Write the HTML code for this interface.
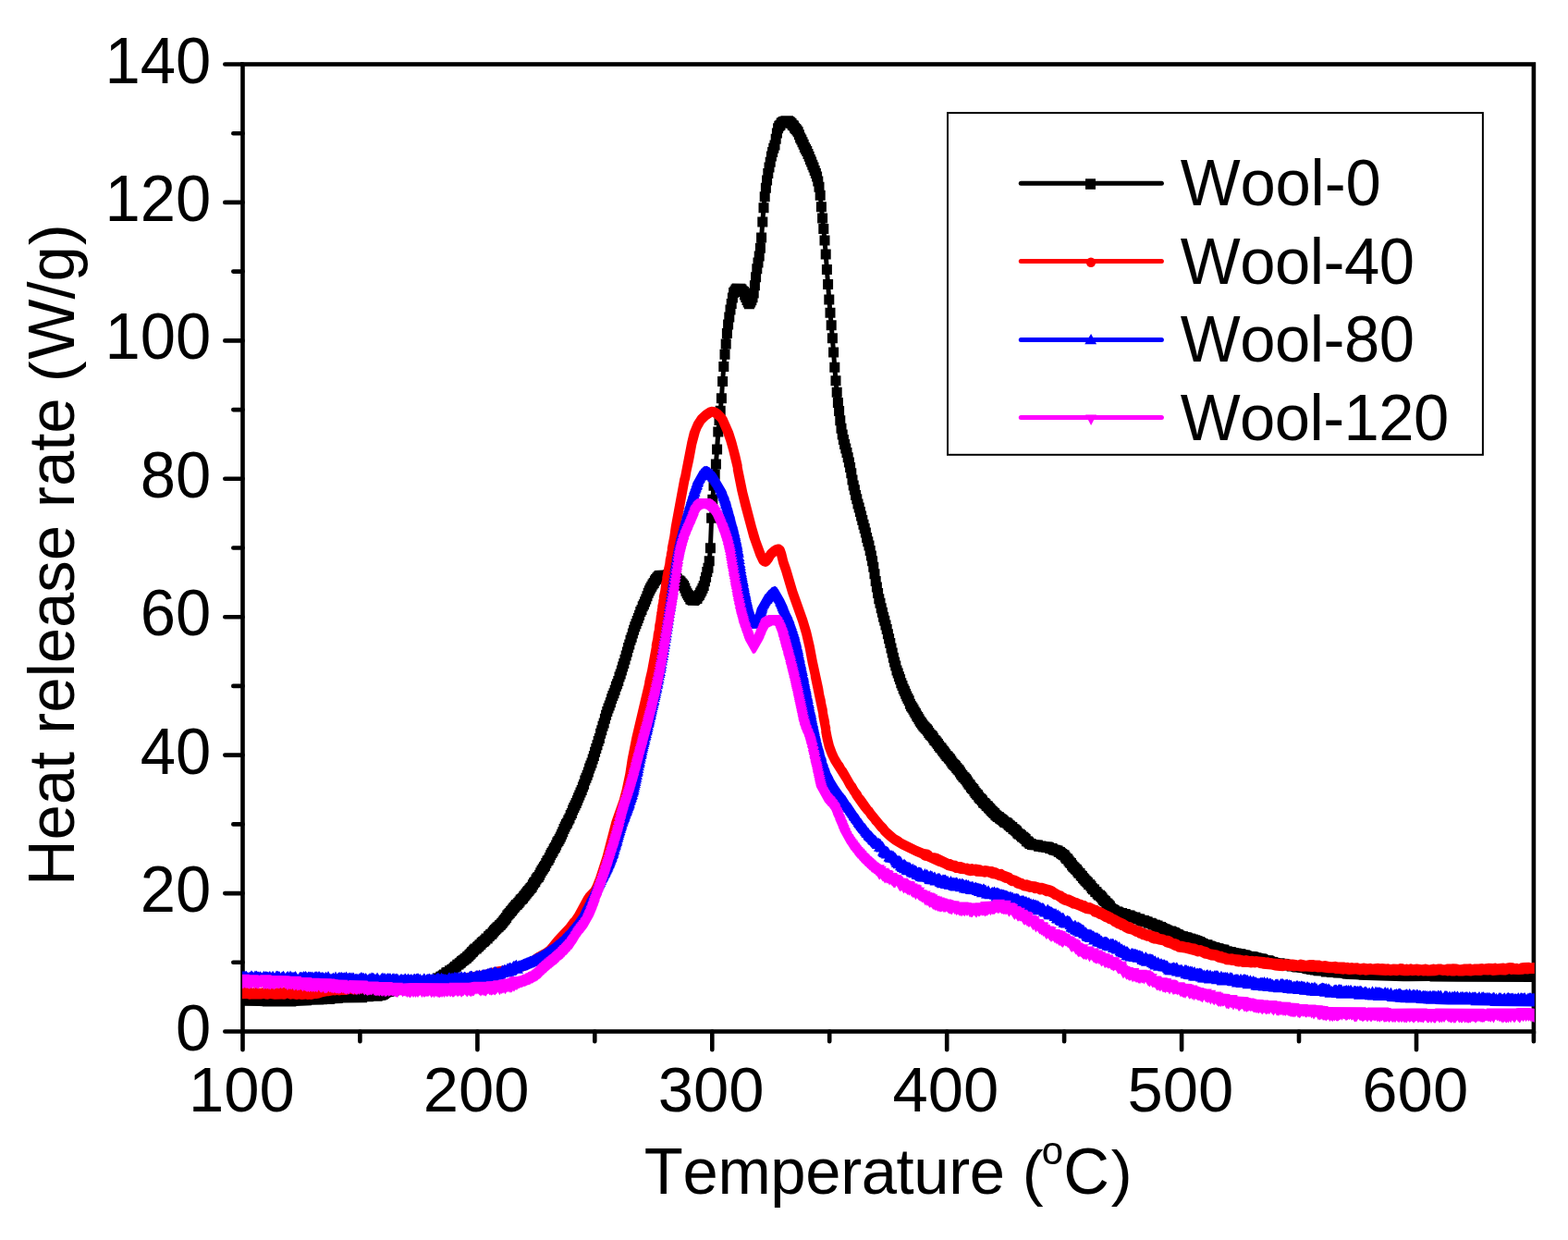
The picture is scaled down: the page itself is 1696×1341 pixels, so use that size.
<!DOCTYPE html><html><head><meta charset="utf-8"><style>html,body{margin:0;padding:0;background:#fff}svg{display:block}text{font-kerning:none}</style></head><body>
<svg width="1696" height="1341" viewBox="0 0 1696 1341" font-family="'Liberation Sans', Arial, sans-serif">
<rect width="1696" height="1341" fill="#fff"/>
<path d="M243.3,1115.5H262.5M243.3,966.1H262.5M243.3,816.6H262.5M243.3,667.2H262.5M243.3,517.8H262.5M243.3,368.4H262.5M243.3,218.9H262.5M243.3,69.5H262.5M252.3,1040.8H262.5M252.3,891.4H262.5M252.3,741.9H262.5M252.3,592.5H262.5M252.3,443.1H262.5M252.3,293.6H262.5M252.3,144.2H262.5M262.5,1115.5V1135.2M516.4,1115.5V1135.2M770.3,1115.5V1135.2M1024.2,1115.5V1135.2M1278.1,1115.5V1135.2M1532.0,1115.5V1135.2M389.4,1115.5V1126.2M643.3,1115.5V1126.2M897.2,1115.5V1126.2M1151.1,1115.5V1126.2M1405.0,1115.5V1126.2M1658.9,1115.5V1126.2" stroke="#000" stroke-width="4.6" stroke-linecap="round" fill="none"/>
<rect x="262.5" y="69.5" width="1396.4" height="1046.0" fill="none" stroke="#000" stroke-width="4.6"/>
<path fill="#000" d="M358.5,1073.4 346.5,1074 346.5,1074.5 340.5,1074.5 340.5,1074.9 329.7,1075 329.7,1075.4 328.5,1075.6 322.5,1075.6 321.3,1076 318.9,1076 318.9,1076.3 314.1,1076.5 289.1,1076.6 278.3,1076.3 278.3,1076 262,1075.7 262,1087.7 280.5,1088 284.1,1088.2 284.1,1088.5 320.3,1088.4 320.3,1088.1 337.1,1087.3 337.1,1086.8 350.3,1086.6 350.3,1086.3 353.9,1086.3 353.9,1085.9 359.9,1085.9 362.3,1085.7 362.3,1085.3 370.7,1084.9 370.7,1084.5 397.1,1084.2 397.1,1083.2 403.1,1083.2 404.3,1083 404.3,1082.7 412.7,1082.7 413.9,1082.5 413.9,1082 417.5,1081.8 417.5,1081.2 418.7,1081.2 418.7,1080.7 419.9,1080.7 419.9,1080 421.1,1080 421.1,1079.1 422.3,1079.1 422.3,1078.3 425.9,1078 425.9,1077.4 428.3,1077.1 428.3,1076.8 429.5,1076.8 429.5,1076.6 431.9,1076.6 431.9,1076.1 433.1,1076.1 433.1,1075.7 434.3,1075.7 434.3,1075.3 447.5,1074.4 447.5,1073.6 451.1,1073.6 451.1,1073.1 453.5,1073.1 453.5,1072.4 460.7,1072.2 460.7,1071.5 463.1,1071.3 463.1,1070.9 464.3,1070.9 464.3,1070.4 467.9,1070.4 467.9,1069.6 470.3,1069.6 470.3,1068.7 471.5,1068.7 471.5,1067.6 473.9,1067.3 473.9,1066.3 475.1,1066.3 475.1,1065.6 476.3,1065.6 476.3,1065 477.5,1065 477.5,1063.6 481.1,1063.3 481.1,1061.8 483.5,1061.6 483.5,1060.4 484.7,1060.4 484.7,1059.4 487.1,1059.4 487.1,1057.5 488.3,1057.5 488.3,1057.1 490.7,1057.1 490.7,1055.3 493.1,1055.2 493.1,1054 494.3,1054 494.3,1053.4 495.5,1053.4 495.5,1052.3 496.7,1052.3 496.7,1051 499.1,1050.6 499.1,1048.8 501.5,1048.4 501.5,1047.3 502.7,1047.3 502.7,1046.5 503.9,1046.5 503.9,1045.1 505.1,1045.1 505.1,1044.2 506.3,1044.2 506.3,1043.5 507.5,1043.5 507.5,1042.3 508.7,1042.3 508.7,1041.7 509.9,1041.7 509.9,1040.3 511.1,1040.3 511.1,1039.5 512.3,1039.5 512.3,1038.1 513.5,1038.1 513.5,1036.7 514.7,1036.7 514.7,1035.2 515.9,1035.2 515.9,1034.6 517.1,1034.6 517.1,1032.8 518.3,1032.8 518.3,1031.4 520.7,1031.4 520.7,1029.8 521.9,1029.8 521.9,1029 523.1,1029 523.1,1027.6 524.3,1027.6 524.3,1026.7 525.5,1026.7 525.5,1024.9 526.7,1024.9 526.7,1024 527.9,1024 527.9,1023.5 529.1,1023.5 529.1,1022.2 530.3,1022.2 530.3,1020.6 532.7,1020.4 532.7,1018.3 533.9,1018.3 533.9,1017.6 535.1,1017.6 535.1,1015.9 537.5,1015.4 537.5,1013.7 538.7,1013.7 538.7,1012.3 539.9,1012.3 539.9,1010.9 541.1,1010.9 541.1,1009.8 542.3,1009.8 542.3,1008.6 543.5,1008.6 543.5,1007.7 544.7,1007.7 544.7,1006.2 545.9,1006.2 545.9,1005.4 547.1,1005.4 547.1,1004 548.3,1004 548.3,1002.4 549.5,1002.4 549.5,1000.8 550.7,1000.8 550.7,999.5 551.9,999.5 551.9,998.1 553.1,998.1 553.1,995.6 554.3,995.6 554.3,994.2 555.5,994.2 555.5,993 556.7,993 556.7,991.2 557.9,991.2 557.9,990.3 559.1,990.3 559.1,988.4 560.3,988.4 560.3,987 561.5,987 561.5,985.6 562.7,985.6 562.7,984 563.9,984 563.9,983.4 565.1,983.4 565.1,982 566.3,982 566.3,980.6 567.5,980.6 567.5,978.6 568.7,978.6 568.7,977.7 569.9,977.7 569.9,976.7 571.1,976.7 571.1,974.7 572.3,974.7 572.3,973.6 573.5,973.6 573.5,971.7 574.7,971.7 574.7,970.3 575.9,970.3 575.9,968.9 577.1,968.9 577.1,967.5 578.3,967.5 578.3,965.9 579.5,965.9 579.5,964.7 580.7,964.7 580.7,962.3 581.9,962.3 581.9,960.2 583.1,960.2 583.1,959.3 584.3,959.3 584.3,956.6 585.5,956.6 585.5,954.7 586.7,954.7 586.7,953.9 587.9,953.9 587.9,951.7 589.1,951.7 589.1,949.2 590.3,949.2 590.3,947 591.5,947 591.5,945.3 592.7,945.3 592.7,943.2 593.9,943.2 593.9,941.7 595.1,941.7 595.1,939.1 596.3,939.1 596.3,936.6 597.5,936.6 597.5,935.5 598.7,935.5 598.7,933 599.9,933 599.9,930.3 601.1,930.3 601.1,928.1 602.3,928.1 602.3,926.3 603.5,926.3 603.5,923.6 604.7,923.6 604.7,922 605.9,922 605.9,919.6 607.1,919.6 607.1,916.6 608.3,916.6 608.3,915.1 609.5,915.1 609.5,912.7 610.7,912.7 610.7,910.4 611.9,910.4 611.9,907.7 613.1,907.7 613.1,905.2 614.3,905.2 614.3,902.1 615.5,902.1 615.5,899.5 616.7,899.5 616.7,897 617.9,897 617.9,895.6 619.1,895.6 619.1,892.6 620.3,892.6 620.3,890.4 621.5,890.4 621.5,887.1 622.7,887.1 622.7,885 623.9,885 623.9,881.5 625.1,881.5 625.1,879 626.3,879 626.3,876.4 627.5,876.4 627.5,874 628.7,874 628.7,871.2 629.9,871.2 629.9,868.3 631.1,868.3 631.1,865.4 632.3,865.4 632.3,862.6 633.5,862.6 633.5,860.1 634.7,860.1 634.7,856.4 635.9,856.4 635.9,853.7 637.1,853.7 637.1,849.6 638.3,849.6 638.3,846.8 639.5,846.8 639.5,843.7 640.7,843.7 640.7,840.4 641.9,840.4 641.9,836.6 643.1,836.6 643.1,833.4 644.3,833.4 644.3,830.5 645.5,830.5 645.5,826.6 646.7,826.6 646.7,823 647.9,823 647.9,818.7 649.1,818.7 649.1,814.9 650.3,814.9 650.3,811.2 651.5,811.2 651.5,807.1 652.7,807.1 652.7,804.1 653.9,804.1 653.9,798.8 655.1,798.8 655.1,795.2 656.3,795.2 656.3,790.7 657.5,790.7 657.5,787.4 658.7,787.4 658.7,782.7 659.9,782.7 659.9,778.8 661.1,778.8 661.1,775.1 662.3,775.1 662.3,771.6 663.5,771.6 663.5,768.4 664.7,768.4 664.7,765.2 665.9,765.2 665.9,761.2 667.1,761.2 667.1,757.9 668.3,757.9 668.3,755.2 669.5,755.2 669.5,751.8 670.7,751.8 670.7,747.8 671.9,747.8 671.9,745.2 673.1,745.2 673.1,741.9 674.3,741.9 674.3,737.6 675.5,737.6 675.5,734.6 676.7,734.6 676.7,730.4 677.9,730.4 677.9,726.6 679.1,726.6 679.1,722.9 680.3,722.9 680.3,718.8 681.5,718.8 681.5,714.6 682.7,714.6 682.7,710.4 683.9,710.4 683.9,705.9 685.1,705.9 685.1,702.4 686.3,702.4 686.3,697.8 687.5,697.8 687.5,694.7 688.7,694.7 688.7,690.5 689.9,690.5 689.9,686.8 691.1,686.8 691.1,683.2 692.3,683.2 692.3,680.2 693.5,680.2 693.5,676.9 694.7,676.9 694.7,674 695.9,674 695.9,670.7 697.1,670.7 697.1,667.1 698.3,667.1 698.3,665.1 699.5,665.1 699.5,661.2 700.7,661.2 700.7,659.2 701.9,659.2 701.9,656.3 703.1,656.3 703.1,653.5 704.3,653.5 704.3,650.2 705.5,650.2 705.5,646.7 706.7,646.7 706.7,644.3 707.9,644.3 707.9,641.8 709.1,641.8 709.1,639.8 710.3,639.8 710.3,637.6 711.5,637.6 711.5,636 712.7,636 712.7,633.5 713.9,633.5 713.9,631.9 715.1,631.9 715.1,630.6 716.3,630.6 716.3,629.3 717.5,629.3 717.5,628.8 719.9,628.8 719.9,628.3 723.3,628.2 723.3,628.5 724.5,628.5 724.5,629.8 725.7,629.8 725.7,630.8 726.9,630.8 726.9,631.5 728.1,631.5 728.1,633.2 730.5,633.6 730.5,634.6 731.7,634.6 731.7,636.3 732.9,636.3 732.9,637.4 734.1,637.4 734.1,639.1 735.3,639.1 735.3,641.4 736.5,641.4 736.5,644.7 737.7,644.7 737.7,647.3 738.9,647.3 738.9,649.3 740.1,649.3 740.1,651.1 741.3,651.1 741.3,653.4 742.5,653.4 742.5,654 743.7,654 743.7,654.8 755.9,654.9 755.9,654.2 757.1,654.2 757.1,653.2 759.5,652.7 759.5,650.2 760.7,650.2 760.7,649.1 761.9,649.1 761.9,646.6 763.1,646.6 763.1,644.5 764.3,644.5 764.3,641.7 765.5,641.7 765.5,638.9 766.7,638.9 766.7,634.3 767.9,634.3 767.9,629.8 769.1,629.8 769.1,624 770.3,624 770.3,619.7 771.5,619.7 771.5,612.3 772.7,612.3 772.7,601.3 770.2,601.3 770.4,598.3 773.9,598.3 773.9,587.3 771.1,587.3 771.9,565.8 775.1,565.8 775.1,554.8 772.4,554.8 773,545.8 776.3,545.8 776.3,534.8 773.7,534.8 774.1,530.8 777.5,530.8 777.5,519.8 775.1,519.8 775.2,518.8 778.7,518.8 778.7,507.8 776.3,507.8 776.3,507.4 779.9,507.4 779.9,496.4 777.3,496.4 777.7,491.4 781.1,491.4 781.1,480.4 778.5,480.4 779,472.5 782.3,472.5 782.3,461.5 779.8,461.5 780,460.1 783.5,460.1 783.5,449.7 784.7,449.7 784.7,438.7 782.2,438.7 782.4,436.3 785.9,436.3 785.9,425.3 783.3,425.3 783.7,417.9 787.1,417.9 787.1,406.9 784.5,406.9 784.9,402 788.3,402 788.3,391 785.8,391 786,388.7 789.5,388.7 789.5,377.7 787.1,377.7 787.1,377.4 790.7,377.4 790.7,366.4 788.3,366.1 791.9,366.1 791.9,356.6 793.1,356.6 793.1,348.4 794.3,348.4 794.3,340.4 795.5,340.4 795.5,334 796.7,334 796.7,327.4 797.9,327.4 797.9,322 799.1,322 799.1,321 800.1,321 800.1,324.4 801.3,324.4 801.3,326.9 802.5,326.9 802.5,330 803.7,330 803.7,332.5 804.9,332.5 804.9,334.2 815.9,334.2 815.9,332.5 817.1,332.5 817.1,330.3 818.3,330.3 818.3,327.3 819.5,327.3 819.5,322.5 820.7,322.5 820.7,314.3 821.9,314.3 821.9,305.2 823.1,305.2 823.1,296.2 824.3,296.2 824.3,289.5 825.5,289.5 825.5,282.5 826.7,282.5 826.7,273.7 827.9,273.7 827.9,262.7 825.5,262.5 829.1,262.5 829.1,251.5 826.5,251.5 826.9,245.5 830.3,245.5 830.3,234.5 827.7,234.5 828.1,230.2 831.5,230.2 831.5,219.2 829.1,219.2 829.2,218.2 832.7,218.2 832.7,208.8 833.9,208.8 833.9,200.5 835.1,200.5 835.1,193.1 836.3,193.1 836.3,186.6 837.5,186.6 837.5,180.7 838.7,180.7 838.7,174.4 839.9,174.4 839.9,169.9 841.1,169.9 841.1,165.8 842.3,165.8 842.3,162.4 843.5,162.4 843.5,155.8 844.7,155.8 844.7,149.4 845.9,149.4 845.9,144.3 847.1,144.3 847.1,141.8 848.3,141.8 848.3,140.7 849.5,140.7 849.5,138.4 850.5,138.4 850.5,139 851.7,139 851.7,140.8 852.9,140.8 852.9,141.6 854.1,141.6 854.1,143.7 855.3,143.7 855.3,145 856.5,145 856.5,146.4 857.7,146.4 857.7,148.3 858.9,148.3 858.9,151.2 860.1,151.2 860.1,154.6 861.3,154.6 861.3,156.4 862.5,156.4 862.5,159.3 863.7,159.3 863.7,161.8 864.9,161.8 864.9,164.9 866.1,164.9 866.1,166.9 867.3,166.9 867.3,169.1 868.5,169.1 868.5,172.1 869.7,172.1 869.7,174.7 870.9,174.7 870.9,178 872.1,178 872.1,180.5 873.3,180.5 873.3,183.8 874.5,183.8 874.5,186.4 875.7,186.4 875.7,189.9 876.9,189.9 876.9,193.1 878.1,193.1 878.1,196.6 879.3,196.6 879.3,201.6 880.5,201.6 880.5,207.7 881.7,207.7 881.7,216.8 885.2,216.8 885.4,218.3 882.9,218.3 882.9,229.3 886.4,229.3 886.5,230.5 884.1,230.5 884.1,241.5 887.7,241.5 887.7,242 885.3,242 885.3,253 888.8,253 889,254.4 886.5,254.4 886.5,265.4 889.9,265.4 890.3,269.6 887.7,269.6 887.7,280.6 891.1,280.6 891.5,286 888.9,286 888.9,297 892.3,297 892.7,302.1 890.1,302.1 890.1,313.1 893.5,313.1 893.9,318.6 891.3,318.6 891.3,329.6 894.8,329.6 895,332.8 892.5,332.8 892.5,343.8 896,343.8 896.2,346.2 893.7,346.2 893.7,357.2 897.2,357.2 897.4,360.3 894.9,360.3 894.9,371.3 898.3,371.3 898.7,375.6 896.1,375.6 896.1,386.6 899.5,386.6 899.9,391.8 897.3,391.8 897.3,402.8 900.7,402.8 901,406.3 898.5,406.3 898.5,417.3 902,417.3 902.2,418.8 899.7,418.8 899.7,429.8 903.3,429.8 900.9,429.9 900.9,440.9 902.1,440.9 902.1,449.9 903.3,449.9 903.3,460.3 904.5,460.3 904.5,468.7 905.7,468.7 905.7,475.4 906.9,475.4 906.9,480.9 908.1,480.9 908.1,485.9 909.3,485.9 909.3,490.6 910.5,490.6 910.5,495 911.7,495 911.7,500.2 912.9,500.2 912.9,505.4 914.1,505.4 914.1,511.1 915.3,511.1 915.3,517.3 916.5,517.3 916.5,524.5 917.7,524.5 917.7,530.4 918.9,530.4 918.9,535.2 920.1,535.2 920.1,541.1 921.3,541.1 921.3,545.3 922.5,545.3 922.5,550.4 923.7,550.4 923.7,554.6 924.9,554.6 924.9,559 926.1,559 926.1,563.5 927.3,563.5 927.3,568.1 928.5,568.1 928.5,572.7 929.7,572.7 929.7,577.1 930.9,577.1 930.9,581.6 932.1,581.6 932.1,586.9 933.3,586.9 933.3,591.2 934.5,591.2 934.5,595.5 935.7,595.5 935.7,601 936.9,601 936.9,606.4 938.1,606.4 938.1,612.3 939.3,612.3 939.3,618.7 940.5,618.7 940.5,626.2 941.7,626.2 941.7,634 942.9,634 942.9,640.5 944.1,640.5 944.1,647.1 945.3,647.1 945.3,653.2 946.5,653.2 946.5,657.7 947.7,657.7 947.7,663.2 948.9,663.2 948.9,667.7 950.1,667.7 950.1,672.7 951.3,672.7 951.3,676.8 952.5,676.8 952.5,681.5 953.7,681.5 953.7,685.9 954.9,685.9 954.9,691.2 956.1,691.2 956.1,696.2 957.3,696.2 957.3,701 958.5,701 958.5,706.6 959.7,706.6 959.7,711.5 960.9,711.5 960.9,716.7 962.1,716.7 962.1,721.6 963.3,721.6 963.3,725.5 964.5,725.5 964.5,730.5 965.7,730.5 965.7,733.6 966.9,733.6 966.9,737.2 968.1,737.2 968.1,740.3 969.3,740.3 969.3,744.3 970.5,744.3 970.5,746.9 971.7,746.9 971.7,750.4 972.9,750.4 972.9,752.8 974.1,752.8 974.1,755.8 975.3,755.8 975.3,758.6 976.5,758.6 976.5,761 977.7,761 977.7,763.3 978.9,763.3 978.9,766.7 980.1,766.7 980.1,769.3 981.3,769.3 981.3,770.7 982.5,770.7 982.5,772.8 983.7,772.8 983.7,775.2 984.9,775.2 984.9,776.9 986.1,776.9 986.1,779.6 987.3,779.6 987.3,781.1 988.5,781.1 988.5,783.2 989.7,783.2 989.7,785.4 990.9,785.4 990.9,787.1 992.1,787.1 992.1,788.8 993.3,788.8 993.3,790.5 994.5,790.5 994.5,791.7 995.7,791.7 995.7,793.2 996.9,793.2 996.9,794.2 998.1,794.2 998.1,795.8 999.3,795.8 999.3,797.9 1000.5,797.9 1000.5,799.8 1001.7,799.8 1001.7,800.8 1002.9,800.8 1002.9,801.8 1004.1,801.8 1004.1,803.7 1005.3,803.7 1005.3,805.9 1006.5,805.9 1006.5,806.8 1007.7,806.8 1007.7,808.4 1008.9,808.4 1008.9,810.1 1010.1,810.1 1010.1,812 1011.3,812 1011.3,813.8 1012.5,813.8 1012.5,814.6 1013.7,814.6 1013.7,816.6 1014.9,816.6 1014.9,818.1 1016.1,818.1 1016.1,819.5 1017.3,819.5 1017.3,821.2 1018.5,821.2 1018.5,822.9 1019.7,822.9 1019.7,823.7 1020.9,823.7 1020.9,825.6 1022.1,825.6 1022.1,826.6 1023.3,826.6 1023.3,828.6 1024.5,828.6 1024.5,830.4 1025.7,830.4 1025.7,832.1 1026.9,832.1 1026.9,833 1028.1,833 1028.1,834.3 1029.3,834.3 1029.3,836.1 1030.5,836.1 1030.5,837.4 1031.7,837.4 1031.7,838.6 1032.9,838.6 1032.9,840.6 1034.1,840.6 1034.1,842.4 1035.3,842.4 1035.3,844.1 1036.5,844.1 1036.5,845.7 1037.7,845.7 1037.7,846.6 1038.9,846.6 1038.9,848 1040.1,848 1040.1,849.4 1041.3,849.4 1041.3,851.4 1042.5,851.4 1042.5,853.5 1043.7,853.5 1043.7,854.4 1044.9,854.4 1044.9,856.7 1046.1,856.7 1046.1,858.1 1047.3,858.1 1047.3,859.1 1048.5,859.1 1048.5,861.2 1049.7,861.2 1049.7,863 1050.9,863 1050.9,864.6 1052.1,864.6 1052.1,865.2 1053.3,865.2 1053.3,867.5 1054.5,867.5 1054.5,868.9 1055.7,868.9 1055.7,869.7 1056.9,869.7 1056.9,871.2 1058.1,871.2 1058.1,873.4 1059.3,873.4 1059.3,874 1060.5,874 1060.5,875.3 1061.7,875.3 1061.7,877.1 1062.9,877.1 1062.9,877.6 1064.1,877.6 1064.1,879.3 1065.3,879.3 1065.3,880.3 1066.5,880.3 1066.5,881.7 1067.7,881.7 1067.7,883 1068.9,883 1068.9,884.2 1070.1,884.2 1070.1,885 1071.3,885 1071.3,886.7 1072.5,886.7 1072.5,887.7 1073.7,887.7 1073.7,888.8 1076.1,889.3 1076.1,890.6 1077.3,890.6 1077.3,891.2 1078.5,891.2 1078.5,891.9 1079.7,891.9 1079.7,893.2 1080.9,893.2 1080.9,894.4 1082.1,894.4 1082.1,895.1 1084.5,895.3 1084.5,896.2 1085.7,896.2 1085.7,897.7 1086.9,897.7 1086.9,898.6 1088.1,898.6 1088.1,899.8 1090.5,900 1090.5,901.9 1091.7,901.9 1091.7,902.5 1092.9,902.5 1092.9,903.4 1094.1,903.4 1094.1,904.6 1095.3,904.6 1095.3,906.5 1096.5,906.5 1096.5,907.6 1098.9,907.7 1098.9,909.1 1100.1,909.1 1100.1,910.6 1102.5,910.8 1102.5,911.9 1103.7,911.9 1103.7,913.1 1104.9,913.1 1104.9,915.2 1107.3,915.6 1107.3,916.6 1108.5,916.6 1108.5,918.1 1110.9,918.1 1110.9,919.1 1118.1,919.6 1118.1,920.8 1122.9,921.1 1122.9,921.4 1125.3,921.4 1126.5,921.7 1126.5,922 1130.1,922 1130.1,923 1133.7,923.3 1133.7,924.3 1134.9,924.3 1134.9,924.8 1137.3,924.8 1137.3,925.3 1139.7,925.6 1139.7,926.7 1142.1,927 1142.1,928.2 1143.3,928.2 1143.3,929.1 1144.5,929.1 1144.5,930 1146.9,930.5 1146.9,932.4 1148.1,932.4 1148.1,933.9 1149.3,933.9 1149.3,934.6 1150.5,934.6 1150.5,936.6 1151.7,936.6 1151.7,938.3 1152.9,938.3 1152.9,939 1154.1,939 1154.1,941.3 1155.3,941.3 1155.3,942.7 1156.5,942.7 1156.5,943.7 1157.7,943.7 1157.7,945.3 1158.9,945.3 1158.9,945.9 1160.1,945.9 1160.1,947.8 1161.3,947.8 1161.3,949.5 1163.7,949.9 1163.7,952.2 1164.9,952.2 1164.9,952.9 1166.1,952.9 1166.1,955 1167.3,955 1167.3,956.2 1168.5,956.2 1168.5,957.8 1169.7,957.8 1169.7,958.7 1170.9,958.7 1170.9,960.1 1172.1,960.1 1172.1,962 1174.5,962.3 1174.5,963.7 1175.7,963.7 1175.7,966 1176.9,966 1176.9,967.2 1179.3,967.6 1179.3,969.9 1181.7,970.3 1181.7,972.3 1182.9,972.3 1182.9,973.6 1185.3,973.7 1185.3,975 1186.5,975 1186.5,976.6 1187.7,976.6 1187.7,978.5 1188.9,978.5 1188.9,979.6 1190.1,979.6 1190.1,980.3 1191.3,980.3 1191.3,982.2 1192.5,982.2 1192.5,982.8 1193.7,982.8 1193.7,984.2 1194.9,984.2 1194.9,985.4 1196.1,985.4 1196.1,987.7 1197.3,987.7 1197.3,988.7 1198.5,988.7 1198.5,989.3 1199.7,989.3 1199.7,989.9 1200.9,989.9 1200.9,991.3 1204.5,991.5 1204.5,992.2 1205.7,992.2 1205.7,993 1206.9,993 1206.9,993.5 1209.3,993.5 1209.3,994.4 1212.9,994.4 1212.9,995.3 1214.1,995.3 1214.1,995.8 1218.9,996.4 1218.9,996.9 1220.1,996.9 1220.1,997.7 1223.7,997.7 1223.7,999.1 1224.9,999.1 1224.9,999.6 1228.5,999.6 1228.5,1000.8 1230.9,1001.1 1230.9,1001.8 1233.3,1001.8 1234.5,1002.3 1236.9,1002.6 1236.9,1003.8 1240.5,1003.8 1240.5,1004.4 1241.7,1004.4 1241.7,1005.6 1245.3,1005.8 1245.3,1006.9 1247.7,1006.9 1247.7,1007.7 1248.9,1007.7 1248.9,1008.2 1251.3,1008.2 1251.3,1008.9 1252.5,1008.9 1252.5,1009.7 1253.7,1009.7 1253.7,1010.2 1256.1,1010.6 1256.1,1011.3 1258.5,1011.7 1258.5,1012.4 1262.1,1012.5 1262.1,1013.2 1263.3,1013.2 1263.3,1013.8 1265.7,1014.1 1265.7,1014.7 1266.9,1014.7 1266.9,1015.7 1269.3,1015.9 1269.3,1016.4 1270.5,1016.4 1270.5,1017.4 1271.7,1017.4 1271.7,1018 1272.9,1018 1272.9,1018.5 1275.3,1018.5 1275.3,1019.1 1276.5,1019.1 1276.5,1019.7 1280.1,1019.7 1280.1,1020.6 1283.7,1020.8 1283.7,1021.4 1286.1,1021.4 1286.1,1022.3 1288.5,1022.3 1288.5,1022.9 1290.9,1023.3 1290.9,1023.9 1293.3,1024.1 1293.3,1025.1 1294.5,1025.1 1294.5,1025.8 1296.9,1025.9 1296.9,1027.1 1298.1,1027.1 1298.1,1027.5 1301.7,1027.5 1301.7,1028.6 1305.3,1028.9 1305.3,1029.5 1306.5,1029.5 1306.5,1030.4 1310.1,1030.5 1310.1,1031.1 1311.3,1031.1 1311.3,1031.5 1313.7,1031.5 1313.7,1032.1 1316.1,1032.4 1316.1,1032.8 1319.7,1032.8 1319.7,1034.2 1322.1,1034.3 1322.1,1034.6 1323.3,1034.6 1323.3,1035.1 1324.5,1035.1 1324.5,1035.4 1326.9,1035.4 1326.9,1035.8 1330.5,1036.2 1330.5,1036.6 1332.9,1036.6 1332.9,1037.4 1337.7,1037.4 1337.7,1038.2 1340.1,1038.2 1340.1,1039.1 1343.7,1039.1 1343.7,1040 1346.1,1040 1346.1,1040.4 1347.3,1040.5 1350.9,1040.5 1350.9,1040.8 1352.1,1040.8 1352.1,1041.7 1358.1,1042.1 1358.1,1042.9 1361.7,1042.9 1361.7,1043.9 1367.7,1044.2 1367.7,1044.9 1368.9,1044.9 1368.9,1045.9 1372.5,1045.9 1372.5,1046.7 1374.9,1046.9 1374.9,1047.3 1382.1,1047.8 1382.1,1048.5 1385.7,1048.5 1385.7,1049.2 1391.7,1049.4 1391.7,1050.4 1396.5,1050.5 1396.5,1051 1398.9,1051.5 1402.5,1051.5 1402.5,1051.8 1408.5,1052.3 1408.5,1053 1413.3,1053.4 1413.3,1054.1 1416.9,1054.1 1416.9,1054.6 1420.5,1054.6 1420.5,1055.3 1428.9,1055.5 1428.9,1056.4 1434.9,1056.4 1434.9,1057 1440.9,1057 1442.1,1057.2 1442.1,1057.6 1450.5,1057.7 1450.5,1058.1 1451.7,1058.1 1451.7,1058.6 1457.7,1059.1 1466.1,1059.2 1469.7,1059.4 1469.7,1059.8 1517.7,1061.2 1546.5,1061.1 1546.5,1061.4 1577.7,1061.8 1659.8,1062 1659.8,1049.9 1593.5,1050.3 1593.5,1049.9 1592.3,1049.8 1523.9,1049.5 1508.3,1049.2 1508.3,1048.9 1504.7,1048.9 1504.7,1048.6 1493.9,1048.5 1493.9,1048.2 1463.9,1047.5 1463.9,1046.6 1454.3,1046.4 1454.3,1046.1 1450.7,1046.1 1450.7,1045.7 1443.5,1045.3 1443.5,1044.8 1438.7,1044.8 1438.7,1044.4 1435.1,1044.2 1435.1,1043.7 1430.3,1043.7 1430.3,1043.2 1425.5,1042.9 1425.5,1042.4 1423.1,1042.4 1423.1,1041.8 1418.3,1041.7 1418.3,1041.3 1417.1,1041.3 1417.1,1041 1412.3,1040.8 1412.3,1040.2 1406.3,1040 1406.3,1039.5 1405.1,1039.5 1405.1,1039.1 1401.5,1039.1 1401.5,1038.4 1400.3,1038.4 1400.3,1037.9 1395.5,1037.9 1395.5,1037.5 1394.3,1037.5 1394.3,1036.9 1389.5,1036.7 1389.5,1036.2 1384.7,1036.2 1384.7,1035.9 1382.3,1035.7 1382.3,1034.9 1378.7,1034.7 1378.7,1033.9 1377.5,1033.9 1377.5,1033.2 1371.5,1032.9 1371.5,1031.9 1370.3,1031.9 1370.3,1031.4 1365.5,1031 1365.5,1030.7 1364.3,1030.7 1364.3,1030.3 1361.9,1030.3 1361.9,1029.8 1360.7,1029.8 1360.7,1029.3 1359.5,1029.3 1359.5,1029 1353.5,1028.7 1353.5,1027.9 1352.3,1027.9 1352.3,1027.5 1347.5,1027 1347.5,1026.2 1342.7,1026.1 1342.7,1025.5 1340.3,1025.5 1340.3,1025.2 1336.7,1024.8 1336.7,1024.1 1333.1,1024.1 1333.1,1023.6 1331.9,1023.6 1331.9,1023.3 1329.5,1023.2 1329.5,1021.8 1323.5,1021.1 1323.5,1020.3 1319.9,1020.1 1319.9,1019.5 1318.7,1019.5 1318.7,1018.9 1316.3,1018.9 1316.3,1018.5 1315.1,1018.5 1315.1,1017.9 1313.9,1017.9 1313.9,1017.4 1311.5,1017.4 1311.5,1016.3 1306.7,1016.1 1306.7,1014.9 1304.3,1014.8 1304.3,1014.1 1303.1,1014.1 1303.1,1013.1 1300.7,1012.9 1300.7,1012.3 1298.3,1011.9 1298.3,1011.2 1295.9,1011.2 1295.9,1010.4 1293.5,1010.4 1293.5,1009.8 1292.3,1009.8 1292.3,1009.5 1289.9,1009.5 1289.9,1008.7 1288.7,1008.7 1288.7,1008.3 1285.1,1008.1 1285.1,1007.3 1281.5,1007 1281.5,1006.4 1280.3,1006.4 1280.3,1005.4 1279.1,1005.4 1279.1,1004.9 1276.7,1004.7 1276.7,1003.7 1275.5,1003.7 1275.5,1003.1 1273.1,1002.8 1273.1,1002.2 1271.9,1002.2 1271.9,1001.5 1268.3,1001.4 1268.3,1000.7 1265.9,1000.3 1265.9,999.6 1264.7,999.6 1264.7,999.2 1263.5,999.2 1263.5,998.7 1262.3,998.7 1262.3,997.9 1261.1,997.9 1261.1,996.9 1257.5,996.7 1257.5,995.6 1255.1,995.6 1255.1,994.8 1251.5,994.6 1251.5,993.4 1250.3,993.4 1250.3,992.8 1246.7,992.7 1246.7,991.6 1243.1,991.1 1243.1,990.1 1238.3,989.8 1238.3,988.4 1233.5,988.1 1233.5,986.6 1229.9,986.6 1229.9,985.9 1228.7,985.9 1228.7,985.4 1227.5,985.4 1227.5,984.4 1222.7,984.3 1222.7,983 1219.1,983 1219.1,982.1 1215.5,982 1215.5,981.2 1214.3,981.2 1214.3,980.5 1210.7,980.2 1210.7,978.9 1209.5,978.9 1209.5,978.3 1208.3,978.3 1208.3,977.7 1207.1,977.7 1207.1,976.7 1205.9,976.7 1205.9,974.4 1204.7,974.4 1204.7,973.2 1203.5,973.2 1203.5,971.8 1202.3,971.8 1202.3,971.2 1201.1,971.2 1201.1,969.3 1199.9,969.3 1199.9,968.6 1198.7,968.6 1198.7,967.5 1197.5,967.5 1197.5,965.6 1196.3,965.6 1196.3,964 1195.1,964 1195.1,962.7 1192.7,962.6 1192.7,961.3 1191.5,961.3 1191.5,959.3 1189.1,958.9 1189.1,956.6 1186.7,956.2 1186.7,955 1185.5,955 1185.5,952.7 1184.3,952.7 1184.3,951.3 1181.9,951 1181.9,949.1 1180.7,949.1 1180.7,947.7 1179.5,947.7 1179.5,946.8 1178.3,946.8 1178.3,945.2 1177.1,945.2 1177.1,944 1175.9,944 1175.9,941.9 1174.7,941.9 1174.7,941.2 1173.5,941.2 1173.5,938.9 1171.1,938.5 1171.1,936.8 1169.9,936.8 1169.9,934.9 1168.7,934.9 1168.7,934.3 1167.5,934.3 1167.5,932.7 1166.3,932.7 1166.3,931.7 1165.1,931.7 1165.1,930.3 1163.9,930.3 1163.9,928 1162.7,928 1162.7,927.3 1161.5,927.3 1161.5,925.6 1160.3,925.6 1160.3,923.6 1159.1,923.6 1159.1,922.9 1157.9,922.9 1157.9,921.4 1156.7,921.4 1156.7,919.5 1154.3,919 1154.3,918.1 1153.1,918.1 1153.1,917.2 1151.9,917.2 1151.9,916 1149.5,915.7 1149.5,914.6 1147.1,914.3 1147.1,913.7 1144.7,913.7 1144.7,913.3 1143.5,913.3 1143.5,912.1 1139.9,912 1139.9,910.9 1138.7,910.9 1138.7,910.5 1131.5,910.1 1131.5,909.6 1127.9,909.6 1127.9,908.6 1120.7,908 1120.7,907.1 1118.3,907.1 1118.3,905.6 1117.1,905.6 1117.1,904.6 1114.7,904.2 1114.7,902.1 1113.5,902.1 1113.5,900.9 1112.3,900.9 1112.3,899.8 1109.9,899.6 1109.9,898.1 1108.7,898.1 1108.7,896.7 1106.3,896.6 1106.3,895.5 1105.1,895.5 1105.1,893.6 1103.9,893.6 1103.9,892.4 1102.7,892.4 1102.7,891.5 1101.5,891.5 1101.5,890.9 1100.3,890.9 1100.3,889 1097.9,888.8 1097.9,887.6 1096.7,887.6 1096.7,886.7 1095.5,886.7 1095.5,885.2 1094.3,885.2 1094.3,884.3 1091.9,884.1 1091.9,883.4 1090.7,883.4 1090.7,882.2 1089.5,882.2 1089.5,880.9 1088.3,880.9 1088.3,880.2 1087.1,880.2 1087.1,879.6 1085.9,879.6 1085.9,878.3 1083.5,877.8 1083.5,876.7 1082.3,876.7 1082.3,875.7 1081.1,875.7 1081.1,874 1079.9,874 1079.9,873.2 1078.7,873.2 1078.7,872 1077.5,872 1077.5,870.7 1076.3,870.7 1076.3,869.3 1075.1,869.3 1075.1,868.3 1073.9,868.3 1073.9,866.6 1072.7,866.6 1072.7,866.1 1071.5,866.1 1071.5,864.3 1070.3,864.3 1070.3,863 1069.1,863 1069.1,862.4 1067.9,862.4 1067.9,860.2 1066.7,860.2 1066.7,858.7 1065.5,858.7 1065.5,857.9 1064.3,857.9 1064.3,856.5 1063.1,856.5 1063.1,854.2 1061.9,854.2 1061.9,853.6 1060.7,853.6 1060.7,852 1059.5,852 1059.5,850.2 1058.3,850.2 1058.3,848.1 1057.1,848.1 1057.1,847.1 1055.9,847.1 1055.9,845.7 1054.7,845.7 1054.7,843.4 1053.5,843.4 1053.5,842.5 1052.3,842.5 1052.3,840.4 1051.1,840.4 1051.1,838.4 1049.9,838.4 1049.9,837 1048.7,837 1048.7,835.6 1047.5,835.6 1047.5,834.7 1046.3,834.7 1046.3,833.1 1045.1,833.1 1045.1,831.4 1043.9,831.4 1043.9,829.6 1042.7,829.6 1042.7,827.6 1041.5,827.6 1041.5,826.4 1040.3,826.4 1040.3,825.1 1039.1,825.1 1039.1,823.3 1037.9,823.3 1037.9,822 1036.7,822 1036.7,821.1 1035.5,821.1 1035.5,819.4 1034.3,819.4 1034.3,817.6 1033.1,817.6 1033.1,815.6 1031.9,815.6 1031.9,814.6 1030.7,814.6 1030.7,812.7 1029.5,812.7 1029.5,811.9 1028.3,811.9 1028.3,810.2 1027.1,810.2 1027.1,808.5 1025.9,808.5 1025.9,807.1 1024.7,807.1 1024.7,805.6 1023.5,805.6 1023.5,803.6 1022.3,803.6 1022.3,802.8 1021.1,802.8 1021.1,801 1019.9,801 1019.9,799.1 1018.7,799.1 1018.7,797.4 1017.5,797.4 1017.5,795.8 1016.3,795.8 1016.3,794.9 1015.1,794.9 1015.1,792.7 1013.9,792.7 1013.9,790.8 1012.7,790.8 1012.7,789.8 1011.5,789.8 1011.5,788.8 1010.3,788.8 1010.3,786.9 1009.1,786.9 1009.1,784.8 1007.9,784.8 1007.9,783.2 1006.7,783.2 1006.7,782.2 1005.5,782.2 1005.5,780.7 1004.3,780.7 1004.3,779.5 1003.1,779.5 1003.1,777.8 1001.9,777.8 1001.9,776.1 1000.7,776.1 1000.7,774.4 999.5,774.4 999.5,772.2 998.3,772.2 998.3,770.1 997.1,770.1 997.1,768.6 995.9,768.6 995.9,765.9 994.7,765.9 994.7,764.2 993.5,764.2 993.5,761.8 992.3,761.8 992.3,759.7 991.1,759.7 991.1,758.3 989.9,758.3 989.9,755.7 988.7,755.7 988.7,752.3 987.5,752.3 987.5,750 986.3,750 986.3,747.6 985.1,747.6 985.1,744.8 983.9,744.8 983.9,741.8 982.7,741.8 982.7,739.4 981.5,739.4 981.5,735.9 980.3,735.9 980.3,733.3 979.1,733.3 979.1,729.3 977.9,729.3 977.9,726.2 976.7,726.2 976.7,722.6 975.5,722.6 975.5,719.5 974.3,719.5 974.3,714.5 973.1,714.5 973.1,710.6 971.9,710.6 971.9,705.7 970.7,705.7 970.7,700.5 969.5,700.5 969.5,695.6 968.3,695.6 968.3,690 967.1,690 967.1,685.2 965.9,685.2 965.9,680.2 964.7,680.2 964.7,674.9 963.5,674.9 963.5,670.5 962.3,670.5 962.3,665.8 961.1,665.8 961.1,661.7 959.9,661.7 959.9,656.7 958.7,656.7 958.7,652.2 957.5,652.2 957.5,646.7 956.3,646.7 956.3,642.2 955.1,642.2 955.1,636.1 953.9,636.1 953.9,629.5 952.7,629.5 952.7,623 951.5,623 951.5,615.2 950.3,615.2 950.3,607.7 949.1,607.7 949.1,601.3 947.9,601.3 947.9,595.4 946.7,595.4 946.7,590 945.5,590 945.5,584.5 944.3,584.5 944.3,580.2 943.1,580.2 943.1,575.9 941.9,575.9 941.9,570.6 940.7,570.6 940.7,566.1 939.5,566.1 939.5,561.7 938.3,561.7 938.3,557.1 937.1,557.1 937.1,552.5 935.9,552.5 935.9,548 934.7,548 934.7,543.6 933.5,543.6 933.5,539.4 932.3,539.4 932.3,534.3 931.1,534.3 931.1,530.1 929.9,530.1 929.9,524.2 928.7,524.2 928.7,519.4 927.5,519.4 927.5,513.5 926.3,513.5 926.3,506.3 925.1,506.3 925.1,500.1 923.9,500.1 923.9,494.4 922.7,494.4 922.7,489.2 921.5,489.2 921.5,484 920.3,484 920.3,479.6 919.1,479.6 919.1,474.9 917.9,474.9 917.9,469.9 916.7,469.9 916.7,464.4 915.5,464.4 915.5,457.7 914.3,457.7 914.3,449.3 913.1,449.3 913.1,438.9 911.9,438.9 911.9,429.9 908.3,429.9 910.7,429.8 910.7,418.8 907.2,418.8 907,417.3 909.5,417.3 909.5,406.3 906.1,406.3 905.8,402.8 908.3,402.8 908.3,391.8 904.9,391.8 904.5,386.6 907.1,386.6 907.1,375.6 903.7,375.6 903.3,371.3 905.9,371.3 905.9,360.3 902.4,360.3 902.2,357.2 904.7,357.2 904.7,346.2 901.2,346.2 901,343.8 903.5,343.8 903.5,332.8 900,332.8 899.8,329.6 902.3,329.6 902.3,318.6 898.9,318.6 898.5,313.1 901.1,313.1 901.1,302.1 897.7,302.1 897.3,297 899.9,297 899.9,286 896.5,286 896.1,280.6 898.7,280.6 898.7,269.6 895.3,269.6 894.9,265.4 897.5,265.4 897.5,254.4 894,254.4 893.8,253 896.3,253 896.3,242 892.7,242 892.7,241.5 895.1,241.5 895.1,230.5 891.6,230.5 891.5,229.3 893.9,229.3 893.9,218.3 890.4,218.3 890.2,216.8 892.7,216.8 892.7,205.8 891.5,205.8 891.5,196.7 890.3,196.7 890.3,190.6 889.1,190.6 889.1,185.6 887.9,185.6 887.9,182.1 886.7,182.1 886.7,178.9 885.5,178.9 885.5,175.4 884.3,175.4 884.3,172.8 883.1,172.8 883.1,169.5 881.9,169.5 881.9,167 880.7,167 880.7,163.7 879.5,163.7 879.5,161.1 878.3,161.1 878.3,158.1 877.1,158.1 877.1,155.9 875.9,155.9 875.9,153.9 874.7,153.9 874.7,150.8 873.5,150.8 873.5,148.3 872.3,148.3 872.3,145.4 871.1,145.4 871.1,143.6 869.9,143.6 869.9,140.2 868.7,140.2 868.7,137.3 867.5,137.3 867.5,135.4 866.3,135.4 866.3,134 865.1,134 865.1,132.7 863.9,132.7 863.9,130.6 862.7,130.6 862.7,129.8 861.5,129.8 861.5,128 860.3,128 860.3,126.7 859.1,126.7 859.1,126 857.9,126 857.9,125.2 844.5,125.2 844.5,125.7 842.1,126.1 842.1,126.7 840.9,126.7 840.9,127.4 839.7,127.4 839.7,129.7 838.5,129.7 838.5,130.8 837.3,130.8 837.3,133.3 836.1,133.3 836.1,138.4 834.9,138.4 834.9,144.8 833.7,144.8 833.7,151.4 832.5,151.4 832.5,154.8 831.3,154.8 831.3,158.9 830.1,158.9 830.1,163.4 828.9,163.4 828.9,169.7 827.7,169.7 827.7,175.6 826.5,175.6 826.5,182.1 825.3,182.1 825.3,189.5 824.1,189.5 824.1,197.8 822.9,197.8 822.9,207.2 821.7,207.2 821.7,218.2 824.1,218.2 824,219.2 820.5,219.2 820.5,230.2 823.1,230.2 822.7,234.5 819.3,234.5 819.3,245.5 821.9,245.5 821.5,251.5 818.1,251.5 818.1,262.5 820.5,262.7 816.9,262.7 816.9,271.5 815.7,271.5 815.7,278.5 814.5,278.5 814.5,285.2 813.3,285.2 813.3,294.2 812.1,294.2 812.1,303.3 810.9,303.3 810.9,311.5 809.9,311.5 809.9,310 808.7,310 808.7,309.2 807.5,309.2 807.5,307.4 806.3,307.4 806.3,306.7 791.7,306.4 791.7,307.6 790.5,307.6 790.5,309.5 789.3,309.5 789.3,311 788.1,311 788.1,316.4 786.9,316.4 786.9,323 785.7,323 785.7,329.4 784.5,329.4 784.5,337.4 783.3,337.4 783.3,345.6 782.1,345.6 782.1,355.1 780.9,355.1 780.9,366.1 783.3,366.4 779.7,366.4 779.7,377.4 782.1,377.4 782.1,377.7 778.5,377.7 778.5,388.7 781,388.7 780.8,391 777.3,391 777.3,402 779.9,402 779.5,406.9 776.1,406.9 776.1,417.9 778.7,417.9 778.3,425.3 774.9,425.3 774.9,436.3 777.4,436.3 777.2,438.7 773.7,438.7 773.7,449.1 772.5,449.1 772.5,460.1 775,460.1 774.8,461.5 771.3,461.5 771.3,472.5 773.9,472.5 773.4,480.4 770.1,480.4 770.1,491.4 772.7,491.4 772.3,496.4 768.9,496.4 768.9,507.4 771.3,507.4 771.3,507.8 767.7,507.8 767.7,518.8 770.1,518.8 770,519.8 766.5,519.8 766.5,530.8 769.1,530.8 768.7,534.8 765.3,534.8 765.3,545.8 768,545.8 767.4,554.8 764.1,554.8 764.1,565.8 766.9,565.8 766.1,587.3 762.9,587.3 762.9,598.3 765.4,598.3 765.2,601.3 761.7,601.3 761.7,608.7 760.5,608.7 760.5,613 759.3,613 759.3,618.8 758.1,618.8 758.1,623.3 756.9,623.3 756.9,627.9 755.7,627.9 755.7,630.7 754.5,630.7 754.5,633.5 753.3,633.5 753.3,635.6 752.1,635.6 752.1,638.1 750.9,638.1 750.9,639.2 749.9,639.2 749.9,638.3 748.7,638.3 748.7,636.3 747.5,636.3 747.5,633.7 746.3,633.7 746.3,630.4 745.1,630.4 745.1,628.1 743.9,628.1 743.9,626.4 742.7,626.4 742.7,625.3 741.5,625.3 741.5,623.6 740.3,623.6 740.3,622.6 737.9,622.2 737.9,620.5 736.7,620.5 736.7,619.8 735.5,619.8 735.5,618.8 734.3,618.8 734.3,617.5 733.1,617.5 733.1,617.1 730.7,617 730.7,616.5 728.3,616.5 728.3,616.1 717.3,616.1 717.3,616.6 707.7,617.1 707.7,618.3 706.5,618.3 706.5,619.6 705.3,619.6 705.3,620.9 704.1,620.9 704.1,622.5 702.9,622.5 702.9,625 701.7,625 701.7,626.6 700.5,626.6 700.5,628.8 699.3,628.8 699.3,630.8 698.1,630.8 698.1,633.3 696.9,633.3 696.9,635.7 695.7,635.7 695.7,639.2 694.5,639.2 694.5,642.5 693.3,642.5 693.3,645.3 692.1,645.3 692.1,648.2 690.9,648.2 690.9,650.2 689.7,650.2 689.7,654.1 688.5,654.1 688.5,656.1 687.3,656.1 687.3,659.7 686.1,659.7 686.1,663 684.9,663 684.9,665.9 683.7,665.9 683.7,669.2 682.5,669.2 682.5,672.2 681.3,672.2 681.3,675.8 680.1,675.8 680.1,679.5 678.9,679.5 678.9,683.7 677.7,683.7 677.7,686.8 676.5,686.8 676.5,691.4 675.3,691.4 675.3,694.9 674.1,694.9 674.1,699.4 672.9,699.4 672.9,703.6 671.7,703.6 671.7,707.8 670.5,707.8 670.5,711.9 669.3,711.9 669.3,715.6 668.1,715.6 668.1,719.4 666.9,719.4 666.9,723.6 665.7,723.6 665.7,726.6 664.5,726.6 664.5,730.9 663.3,730.9 663.3,734.2 662.1,734.2 662.1,736.8 660.9,736.8 660.9,740.8 659.7,740.8 659.7,744.2 658.5,744.2 658.5,746.9 657.3,746.9 657.3,750.2 656.1,750.2 656.1,754.2 654.9,754.2 654.9,757.4 653.7,757.4 653.7,760.6 652.5,760.6 652.5,764.1 651.3,764.1 651.3,767.8 650.1,767.8 650.1,771.7 648.9,771.7 648.9,776.4 647.7,776.4 647.7,779.7 646.5,779.7 646.5,784.2 645.3,784.2 645.3,787.8 644.1,787.8 644.1,793.1 642.9,793.1 642.9,796.1 641.7,796.1 641.7,800.2 640.5,800.2 640.5,803.9 639.3,803.9 639.3,807.7 638.1,807.7 638.1,812 636.9,812 636.9,815.6 635.7,815.6 635.7,819.5 634.5,819.5 634.5,822.4 633.3,822.4 633.3,825.6 632.1,825.6 632.1,829.4 630.9,829.4 630.9,832.7 629.7,832.7 629.7,835.8 628.5,835.8 628.5,838.6 627.3,838.6 627.3,842.7 626.1,842.7 626.1,845.4 624.9,845.4 624.9,849.1 623.7,849.1 623.7,851.6 622.5,851.6 622.5,854.4 621.3,854.4 621.3,857.3 620.1,857.3 620.1,860.2 618.9,860.2 618.9,863 617.7,863 617.7,865.4 616.5,865.4 616.5,868 615.3,868 615.3,870.5 614.1,870.5 614.1,874 612.9,874 612.9,876.1 611.7,876.1 611.7,879.4 610.5,879.4 610.5,881.6 609.3,881.6 609.3,884.6 608.1,884.6 608.1,886 606.9,886 606.9,888.5 605.7,888.5 605.7,891.1 604.5,891.1 604.5,894.2 603.3,894.2 603.3,896.7 602.1,896.7 602.1,899.4 600.9,899.4 600.9,901.7 599.7,901.7 599.7,904.1 598.5,904.1 598.5,905.6 597.3,905.6 597.3,908.6 596.1,908.6 596.1,911 594.9,911 594.9,912.6 593.7,912.6 593.7,915.3 592.5,915.3 592.5,917.1 591.3,917.1 591.3,919.3 590.1,919.3 590.1,922 588.9,922 588.9,924.5 587.7,924.5 587.7,925.6 586.5,925.6 586.5,928.1 585.3,928.1 585.3,930.7 584.1,930.7 584.1,932.2 582.9,932.2 582.9,934.3 581.7,934.3 581.7,936 580.5,936 580.5,938.2 579.3,938.2 579.3,940.7 578.1,940.7 578.1,942.9 576.9,942.9 576.9,943.7 575.7,943.7 575.7,945.6 574.5,945.6 574.5,948.3 573.3,948.3 573.3,949.2 572.1,949.2 572.1,951.3 570.9,951.3 570.9,953.7 569.7,953.7 569.7,954.9 568.5,954.9 568.5,956.5 567.3,956.5 567.3,957.9 566.1,957.9 566.1,959.3 564.9,959.3 564.9,960.7 563.7,960.7 563.7,962.6 562.5,962.6 562.5,963.7 561.3,963.7 561.3,965.7 560.1,965.7 560.1,966.7 558.9,966.7 558.9,967.6 557.7,967.6 557.7,969.6 556.5,969.6 556.5,971 555.3,971 555.3,972.4 554.1,972.4 554.1,973 552.9,973 552.9,974.6 551.7,974.6 551.7,976 550.5,976 550.5,977.4 549.3,977.4 549.3,979.3 548.1,979.3 548.1,980.2 546.9,980.2 546.9,982 545.7,982 545.7,983.2 544.5,983.2 544.5,984.6 543.3,984.6 543.3,987.1 542.1,987.1 542.1,988.5 540.9,988.5 540.9,989.8 539.7,989.8 539.7,991.4 538.5,991.4 538.5,993 537.3,993 537.3,994.4 536.1,994.4 536.1,995.2 534.9,995.2 534.9,996.7 533.7,996.7 533.7,997.6 532.5,997.6 532.5,998.8 531.3,998.8 531.3,999.9 530.1,999.9 530.1,1001.3 528.9,1001.3 528.9,1002.7 527.7,1002.7 527.7,1004.4 525.3,1004.9 525.3,1006.6 524.1,1006.6 524.1,1007.3 522.9,1007.3 522.9,1009.4 520.5,1009.6 520.5,1011.2 519.3,1011.2 519.3,1012.5 518.1,1012.5 518.1,1013 516.9,1013 516.9,1013.9 515.7,1013.9 515.7,1015.7 514.5,1015.7 514.5,1016.6 513.3,1016.6 513.3,1018 512.1,1018 512.1,1018.8 510.9,1018.8 510.9,1020.4 508.5,1020.4 508.5,1021.8 507.3,1021.8 507.3,1023.6 506.1,1023.6 506.1,1024.2 504.9,1024.2 504.9,1025.7 503.7,1025.7 503.7,1027.1 502.5,1027.1 502.5,1028.5 501.3,1028.5 501.3,1029.3 500.1,1029.3 500.1,1030.7 498.9,1030.7 498.9,1031.3 497.7,1031.3 497.7,1032.5 496.5,1032.5 496.5,1033.2 495.3,1033.2 495.3,1034.1 494.1,1034.1 494.1,1035.5 492.9,1035.5 492.9,1036.3 491.7,1036.3 491.7,1037.4 489.3,1037.8 489.3,1039.6 486.9,1040 486.9,1041.3 485.7,1041.3 485.7,1042.4 484.5,1042.4 484.5,1043 483.3,1043 483.3,1044.2 480.9,1044.3 480.9,1046.1 478.5,1046.1 478.5,1046.5 477.3,1046.5 477.3,1048.4 474.9,1048.4 474.9,1049.4 473.7,1049.4 473.7,1050.6 471.3,1050.8 471.3,1052.3 467.7,1052.6 467.7,1054 466.5,1054 466.5,1054.6 465.3,1054.6 465.3,1055.3 464.1,1055.3 464.1,1056.3 461.7,1056.6 461.7,1057.7 460.5,1057.7 460.5,1058.1 458.1,1058.1 458.1,1059.1 454.5,1059.3 454.5,1059.9 453.3,1059.9 453.3,1060.3 441.3,1061.6 441.3,1062.2 435.3,1062.6 435.3,1063.2 424.5,1064 424.5,1064.7 423.3,1064.7 423.3,1065.1 419.7,1065.4 419.7,1065.8 416.1,1066.4 416.1,1066.9 412.5,1067.3 412.5,1068.1 411.3,1068.1 411.3,1069 410.1,1069 410.1,1069.7 408.9,1069.7 408.9,1070.2 407.7,1070.2 407.7,1070.8 404.1,1071.2 394.5,1071.2 394.5,1071.7 389.7,1071.7 389.7,1072 384.9,1072.3 384.9,1072.7 368.1,1072.6 365.7,1073 358.5,1073.1Z"/>
<path fill="#f00" d="M343.8,1067.2 337.2,1068.3 334.7,1068.3 332.5,1067.8 330.4,1068.2 328,1067.9 325.2,1069 322.5,1067.9 315,1067.7 312.9,1068.1 310.5,1067.5 301.5,1067.6 298,1068.7 296.5,1068 294,1067.6 289.4,1068.5 287.5,1067.7 286,1067.6 282.5,1068.8 279.4,1068.6 276.5,1067.8 273.5,1068.4 271.5,1068 269.6,1068.4 266,1067.7 262.5,1067.9 262,1068 262,1080.3 267,1079.9 270,1080.8 271.9,1080.5 282.5,1080.6 285.3,1079.9 287,1080.5 289.5,1080.8 292.4,1080 297,1080.7 304.8,1080.4 307,1080.8 309,1080.4 310.7,1079.5 314,1080.8 316.9,1080.3 321,1080.9 323.3,1080.4 326.5,1081 330.9,1080.5 332.5,1080.9 334.5,1080.7 337,1081.1 340.6,1079.9 342.5,1080 345.5,1079.5 348.9,1078.3 353.8,1077.2 355.5,1077.3 360.3,1076.3 362.5,1076.5 364.5,1075.9 367,1076.4 369.1,1076 374.5,1076 376.5,1075.4 377.8,1074.5 382,1075.5 385,1075.4 387,1074.8 392,1074.3 404,1074.3 407,1073.3 415,1073.4 417.3,1072.6 420,1073.1 423.9,1072.3 432,1072 436.3,1070.8 442,1071.2 444.2,1070.8 451.5,1070.9 456.1,1070.2 465,1070 467.4,1069.1 469.5,1069.3 471.5,1068.7 474,1069.1 477.4,1068.3 481.5,1068.1 483.6,1067.3 487.5,1067.9 489.9,1067.1 493.5,1066.8 495.1,1066.2 500,1066.1 506.5,1064.9 508.5,1064.9 510.4,1064.1 513.5,1064 520,1062.2 522.1,1060.6 535.4,1057.2 549,1055 558.5,1052.8 568,1049.7 575.5,1046.3 586.5,1039 590.9,1036.9 598.2,1031.8 602.1,1028 608.3,1020.1 618.1,1009.8 626.9,998.8 627.8,997 630.7,993.2 640.1,975.7 641.7,973.4 646.6,968.4 648.2,966.1 650.4,961.8 653.9,953.1 661.6,929.3 670.3,895.5 673.3,885.7 679.6,868.3 682.6,857.4 686.2,840 687.3,833.7 687.2,832.1 688.2,828.3 688.2,826.4 693.3,800.9 707.2,741.7 707.3,740.1 710.2,727.6 710.8,723.1 713.2,711.4 713.2,709.6 714.2,705.7 714.7,700.6 716.2,693.5 716.7,688.4 717.7,684.5 718.2,679 720.3,667.4 720.2,665.6 721.3,660.3 721.2,658.6 722.8,650.5 722.6,648.6 723.7,644.5 725.3,634.9 725.2,633.4 726.2,629.7 726.2,627.7 727.2,623.9 727.8,619.3 729.2,612.6 729.2,610.7 730.7,604 730.7,602.1 731.7,598.1 731.7,596.1 733.2,588.9 735.7,572.5 745.3,520.8 746.2,517.7 747.3,510.9 750.2,497.7 753.3,481.1 756.8,468.1 758.5,463.7 761.8,457.9 766.4,453.4 770.6,450.8 775.4,454.6 777,456.4 781.8,467.4 785.2,476.9 788.2,487.5 792.8,506.4 792.8,508.3 797.3,531 801.4,547.9 810.4,581.5 817.6,601.7 820.8,608.6 821.8,609.9 824.5,612.1 828,612.9 830.5,612.3 832.7,610.5 835.4,607.1 837.3,603.4 840.1,601 840.2,601.3 842.4,610.3 845.2,618.2 852.4,642.5 863.3,673.1 867.2,686.3 870.7,701.3 873.8,717.8 876.7,730.5 876.8,732.2 885.3,772.6 885.3,774.6 888.3,790.1 888.2,791.7 889.8,800.3 891.9,809.1 895.1,817.6 898.8,825 911.8,845.6 915.1,851.7 918.3,856.3 919.1,858.1 920.7,860 922.1,862.7 930.6,874.7 934.4,879.6 936,881.1 938.4,884.7 941.6,888.2 943.4,891.1 944.8,892.3 949.8,898.5 951.6,900 952.8,901.9 959.1,908 965.6,912.9 974,918.1 990,925.8 995.4,927.9 998,929.9 1000,930.8 1001.9,931 1014.5,936.8 1016.4,937.2 1020.4,938.9 1024,940.9 1030.3,942.6 1033,944 1035.5,943.9 1038.5,944.9 1043.1,945.2 1045,946.2 1049.5,947.2 1053.4,946.8 1055.5,947.7 1061.9,948 1065,948.8 1067.8,948.2 1073,950.2 1075.9,950.4 1080,952.2 1081.9,952.4 1086.5,954.8 1088.7,955 1090.1,956.3 1092.5,957.7 1094,958.3 1096.1,958.3 1097.1,959.5 1099,960.6 1103.4,961.8 1106,963.3 1109.7,963.7 1113.5,964.9 1115.8,964.7 1118,966 1119.5,966.3 1121.2,966 1124,967.4 1125.5,967.6 1127.2,967.3 1131,969.2 1133.4,969.3 1136.8,970.7 1139,972.4 1141.9,973.2 1143.1,974.3 1144.5,975 1146.1,976.6 1150,978.6 1152.8,979.2 1156.9,980.9 1159.5,982.4 1161.7,982.7 1165.6,984.3 1174,988.1 1179.3,988.8 1181.5,991 1185.6,992.2 1188,993.8 1189.9,994.2 1194,996.8 1196.3,997.4 1198.5,999 1200.9,999.4 1203,1001.5 1205,1002.2 1207.5,1003.9 1209.6,1004.5 1211.5,1005.8 1213.5,1006.3 1214.6,1007.2 1219,1009.6 1223.6,1010.6 1227.5,1012.8 1229.1,1013.1 1231,1014.4 1232.8,1014.8 1234.5,1016 1237.2,1016.4 1240,1017.8 1241.9,1017.8 1244,1019.3 1247.5,1020.4 1250.7,1020.7 1253,1021.6 1257.4,1022.2 1260,1024 1265.8,1025.7 1269,1027.6 1271.5,1028.2 1273.5,1029.4 1281.1,1030.4 1291.8,1033.2 1295,1034.5 1297.7,1034.3 1302,1036.4 1305.2,1036.9 1309.5,1038.5 1313.4,1038.8 1316.5,1040.5 1323.2,1042.1 1325.5,1043.2 1330.2,1043.4 1332,1044.1 1334.4,1044 1336.5,1044.9 1340,1045.5 1341.7,1045.2 1344,1045.9 1349.9,1046 1353,1046.6 1355.4,1046.2 1357.5,1046.6 1359.9,1046 1362,1047 1364.3,1047.2 1366,1047.8 1374.9,1048.5 1379,1049.5 1384,1050 1388,1050.2 1390.4,1049.4 1394.5,1050.1 1396.7,1049.9 1399.5,1050.6 1402.4,1049.9 1407.5,1050.8 1412.1,1050.5 1419.5,1051 1422.2,1050.8 1425,1051.4 1429.5,1051.3 1436.5,1052.3 1442.2,1052.3 1444.5,1053.1 1448.1,1052.9 1453,1053.7 1454.9,1053.3 1459,1054 1466.5,1053.6 1471,1054.4 1474.3,1054 1477,1054.7 1481.9,1054.1 1486.4,1054.2 1499,1055.1 1501.6,1054.7 1504,1055.3 1507.1,1054.7 1511,1055.3 1513.6,1054.6 1518.5,1055.3 1523.5,1055.3 1525.5,1054.7 1527.5,1055.3 1531.7,1054.8 1534,1055.4 1537,1054.8 1539,1055.4 1542.2,1055.3 1544,1055.6 1552.5,1055.3 1556.9,1054.3 1560.5,1055.1 1563,1054.8 1566,1055.4 1567.8,1055.1 1570,1055.5 1573.5,1055.4 1575.6,1054.9 1577.5,1055.4 1582.5,1055.5 1585.8,1055 1591,1055.4 1595.4,1054.8 1602,1055 1604.6,1054.2 1609.5,1054.6 1611.9,1054.2 1614.5,1054.9 1622.6,1054.3 1627,1054.6 1629,1054.4 1632.4,1053.3 1634.5,1054 1636.8,1053.7 1642.5,1054 1647.5,1053.7 1649.3,1053.2 1652.5,1053.6 1655,1052.9 1659.8,1052.9 1659.8,1040.9 1658,1040.9 1656.2,1041.5 1654,1040.8 1647.5,1040.9 1644.5,1041.6 1642.9,1042.4 1641,1041.8 1638.8,1042.1 1636.5,1041.3 1633,1041.1 1630,1041.4 1628.3,1042.1 1626,1041.6 1619.5,1042.2 1617.5,1041.6 1614.9,1042 1610,1041.7 1605.1,1042.4 1603,1041.9 1599.2,1042.5 1594.5,1042.5 1592.7,1042.9 1590.5,1042.3 1587.7,1042.6 1583.5,1042.4 1579.9,1043.2 1578.4,1043.2 1576,1042.4 1571.5,1042.2 1569.7,1042.5 1565,1042.5 1562.8,1043.2 1561,1043.2 1559,1042.6 1555.5,1042.5 1552.9,1043 1550.5,1042.4 1545.9,1043.4 1542,1042.6 1537.9,1043.3 1532.5,1042.5 1528.7,1043 1526,1042.2 1523.4,1042.9 1521.5,1042.6 1519.4,1043 1517.5,1042.3 1514.5,1042.1 1512.2,1042.7 1507,1042.4 1504,1043.1 1501.5,1042.2 1499.3,1042.5 1495,1041.9 1493,1042.3 1490.5,1041.8 1484.7,1042.5 1482.5,1041.8 1479.3,1042.3 1475,1041.4 1471.2,1042.3 1468.5,1041.2 1464.4,1041.5 1462,1040.9 1459.9,1041.4 1458,1040.8 1455.8,1041.1 1454,1040.6 1447.3,1040.5 1444.5,1039.7 1440.8,1040.2 1437.9,1040.1 1433.5,1039 1430,1039.4 1427.5,1038.5 1422.9,1038.5 1420.5,1037.9 1416.5,1037.9 1412.7,1038.7 1407,1037.6 1405.5,1037.8 1403.9,1038.6 1402,1037.9 1398.5,1037.4 1393.2,1037.6 1390.5,1037.1 1388.5,1037.5 1386.5,1036.9 1377.3,1036.4 1375.5,1035.9 1373.7,1036.1 1371.5,1035.3 1369.6,1035.5 1367.5,1034.9 1361.8,1034.6 1359,1033.9 1356.6,1034.3 1354.5,1033.7 1351.8,1033.9 1348,1032.9 1345.4,1033.6 1341.5,1032.4 1335.4,1032.1 1333,1031.2 1329.2,1031.6 1326,1030.3 1324.1,1030.1 1322,1028.8 1319.9,1028.7 1317,1027.4 1309.1,1026.2 1306,1024.2 1301.9,1023.2 1300,1022.2 1298.5,1022 1296.8,1022.3 1293,1020.4 1289.9,1020.3 1285.5,1019 1283.5,1019 1279,1017.8 1276.7,1017.7 1275,1016.2 1271.5,1015.1 1269.8,1015 1268.4,1013.7 1265.5,1012.3 1263.5,1011.7 1261.6,1011.7 1259,1010.4 1255.1,1010.1 1252.5,1008.1 1248.7,1007.5 1244,1005.6 1241.1,1005.3 1239.5,1004.3 1237.5,1003.9 1235.5,1002.6 1232.5,1001.4 1230.4,1001.3 1229,1000.2 1226.6,999.4 1225,998.1 1220.8,996.7 1217,994.2 1211.9,992.1 1207,989.2 1205,988.4 1203.5,987.2 1201.8,986.6 1200,985.4 1198.5,985 1191,980.9 1189.2,980.5 1187,979.1 1185.2,978.7 1179.5,976.1 1177,976 1174.5,974.2 1171.9,973.8 1170.5,973 1168.3,972.5 1166,971.2 1163.9,970.8 1157,967.6 1154.4,967.2 1153,966.1 1151.4,965.4 1149.5,963.8 1147.2,963.2 1143.2,961 1140,958.7 1137,957.5 1133.1,956.6 1127.5,954.7 1124.9,954.8 1120,953.3 1116.2,953.1 1111,951.3 1108.7,951.4 1107,950.2 1105,949.8 1099.5,947 1095.8,945.9 1094,944.3 1086.4,941.4 1084.5,940 1083,939.7 1081,939.9 1078.5,938.4 1076.1,938.1 1073.5,937 1070.6,937 1069,936.4 1065.5,936.1 1063,936.5 1061.5,935.5 1060,935.2 1055.5,934.6 1053.6,934.7 1051.5,934 1049,934.4 1046.5,933.6 1044.4,933.8 1042,932.7 1039.5,932.1 1036.6,931.9 1034.5,930.7 1031.6,930.4 1028.5,929.1 1026.9,928.9 1014.5,923.1 1011,922.3 1008.8,922.2 1007.4,920.5 1004.5,918.7 999.8,917.9 992,914.7 976.4,907 973.9,905 969.8,902.7 961.2,895.3 958.6,891.8 955.3,888.5 945.5,876.4 943.6,873.5 942.3,872.4 934.6,861.5 932.5,859.2 931.4,856.8 928.1,852.4 925.4,847.6 924,846.1 915.4,831 914,829.5 911.9,825.5 910.3,823.5 906.6,817.3 904.6,812.7 901.8,805.3 899.8,797 898.2,788.7 898.3,787.1 897.2,782.4 897.2,780.6 895.2,771.2 894.7,766.5 893.3,760.8 892.7,756.6 891.3,751 890.2,744.1 883.8,714.5 880.7,698 877.1,682.5 873.1,669.2 862.2,638.6 855.1,614.4 852.3,606.5 850.1,597.5 848.4,592.7 847.2,591 844.5,589 843,588.5 841,588.5 837.5,589.5 834.6,591.3 830.3,595 827.9,598.6 827.5,597.9 822.2,583.8 817.8,568.8 808.3,532 802.7,504.8 802.7,503 800.2,492.1 796.1,476.4 792.9,466.4 786.2,451.2 783.1,447.3 779.4,443.4 775.5,441.1 772.5,439.9 769.5,439.8 766,440.7 760.6,444.2 754.9,449.4 750.3,456.4 745.9,467.1 743.3,477.8 736.2,514.4 735.3,517.5 725.8,569.1 724.3,579.7 721.8,592.6 721.8,594.7 720.8,598.7 720.8,600.6 719.8,604.5 719.3,609.2 717.8,615.9 716.2,624.8 716.3,626.3 715.3,629.9 714.3,638.2 712.8,645 712.9,647.4 712.3,648.9 712.3,650.9 711.3,655 711.3,657.2 710.8,658.7 710.8,660.7 710.2,662.6 710.3,664.3 709.8,665.8 709.3,671 708.3,675.5 707.8,681.1 706.8,685 706.3,690.1 704.7,697.6 704.8,699.2 700.2,724.3 697.3,736.7 697.2,738.4 683.3,797.6 678.8,820.2 676.3,836.6 672.7,853.6 669.8,864.4 661.4,888.3 651.7,925.5 644.2,948.8 640.9,957.1 639.1,960.5 633.4,966.6 631.1,970.1 621.5,987.8 618.1,992.8 616.9,993.8 612.1,1000.3 599.9,1013.3 591.5,1023.4 588.1,1025.9 579.1,1030.9 575,1034 569.9,1037.1 567,1038 564.7,1039.4 563,1039.6 557.9,1041.5 550,1043.3 548.5,1044 547,1044 537,1045.6 520.9,1049.7 517.5,1049.8 510.5,1051.6 505,1052.1 503.5,1052.6 502.1,1053.7 497,1053.3 489.3,1054.9 487,1054.6 485.1,1055.2 481,1055.3 479.4,1055.9 476.5,1055.7 470.5,1056.9 467,1056.5 462.5,1057.1 459.7,1057.9 453.5,1057.4 451.5,1057.6 449.8,1058.5 446.5,1058.3 444.3,1059 442.5,1058.7 440.4,1059.1 432.5,1059 426,1060.1 423.5,1059.7 421.6,1060.3 419.5,1060.3 417.5,1061.1 415.5,1061.1 413.9,1061.7 411,1060.9 407,1061 401.9,1061.8 400,1061.4 392.5,1062.2 390.5,1062 388.3,1062.7 385,1062.6 381.9,1063.2 379,1062.6 375.5,1062.9 373.2,1063.5 369.5,1063 366.5,1063.9 362,1064.1 360,1063.7 357,1064.3 355,1064.1 350.2,1065.4 348,1065.5Z"/>
<path fill="#00f" d="M263.4,1063.9 263,1064.6 279,1064.7 287.6,1064.4 287.5,1064.6 291,1064.8 310.5,1064.9 310.1,1064.1 310.9,1064.1 310.5,1064.8 315.5,1065 333.7,1065.1 333.5,1065.4 348.2,1065.2 348,1065.5 361,1065.5 360.8,1065.3 361.1,1065.3 362.2,1065.4 362,1065.8 383.2,1065.8 383,1066.2 385.7,1066.2 385.5,1066.5 407.2,1066.7 407,1067.1 448.5,1067.6 473.5,1067.4 473.3,1067 474,1067 473.8,1066.6 491.5,1066.7 491,1065.9 505.5,1065.6 505.4,1065.4 507,1065.4 506.9,1065.1 513,1065.1 512.6,1064.4 518.5,1064.4 518.1,1063.8 524.5,1063.8 524.1,1063.1 528,1062.7 527.6,1062.1 534.5,1062.1 533.9,1061.2 538.5,1061.2 538.3,1060.8 540,1060.5 539.5,1059.7 546,1059.4 545.5,1058.6 547.5,1058.3 546.8,1057.1 549.5,1056.9 549.3,1056.6 553.5,1056.6 553.3,1056.3 554,1056.3 553.7,1055.8 556,1055.8 555.6,1055.1 559,1055.1 558.3,1053.9 559.5,1053.9 559.1,1053.3 560.5,1053.3 560.2,1052.8 566,1052.8 564.7,1050.6 566.5,1050.6 566.3,1050.2 567,1050.2 566.8,1049.9 570.5,1049.3 571.5,1049 571.2,1048.4 573.5,1048 573.2,1047.5 575.5,1047.2 575.3,1046.7 578,1046.2 577.7,1045.8 579,1045.8 578.8,1045.4 579.5,1045.4 579.3,1045.1 581,1045.1 580.8,1044.7 582.5,1044.5 582,1043.7 584.5,1043.5 584.3,1043.2 585.5,1043 585.1,1042.3 587.5,1042.1 587.3,1041.8 588,1041.8 587.8,1041.5 589,1041.5 588.5,1040.6 591.5,1040.2 591.1,1039.6 592,1039.6 591.7,1039 593,1039 592.8,1038.6 594,1038.6 593.6,1037.9 594.5,1037.9 594.2,1037.5 596,1037.4 595.9,1037.2 596.5,1037.2 596.2,1036.6 597.5,1036.6 597.2,1036.1 598,1036.1 597.6,1035.4 598.5,1035.4 598.2,1034.8 600,1034.5 599.7,1033.9 600.5,1033.9 600.3,1033.6 602,1033.4 601.6,1032.7 603,1032.7 602.6,1032 604,1031.8 603.7,1031.2 605,1031.2 604.4,1030.2 605.5,1030.2 605.3,1029.9 606.5,1029.7 606.3,1029.3 607,1029.3 606.7,1028.7 607.5,1028.7 607.3,1028.3 608,1028.3 607.7,1027.7 609.5,1027.5 609.3,1027.1 610,1027.1 609.6,1026.3 611,1026.3 610.7,1025.9 611.5,1025.9 610.9,1024.9 612,1024.9 611.7,1024.4 613,1024.4 612.8,1024.1 613.5,1024.1 613.1,1023.4 614.5,1023.1 614,1022.3 615,1022.3 614.7,1021.8 615.5,1021.8 615,1021 617,1020.7 616.3,1019.5 617.5,1019.5 617.2,1019 618,1019 617.6,1018.4 619,1018.2 618.7,1017.8 619.5,1017.8 619.2,1017.2 620.5,1016.9 620.1,1016.2 621,1016.2 620.7,1015.6 621.5,1015.6 621.2,1015 622,1015 621.6,1014.3 622.5,1014.3 622,1013.4 623,1013.4 622.7,1012.8 624,1012.7 623.4,1011.7 624.5,1011.7 624.2,1011.3 625.5,1010.8 625.1,1010.2 626,1010.2 625.5,1009.3 626.5,1009.3 626.1,1008.6 627,1008.6 626.6,1007.9 627.5,1007.9 627.4,1007.6 628,1007.6 627.6,1007 628.5,1007 627.8,1005.9 629,1005.9 628.7,1005.3 629.5,1005.3 629,1004.5 630.5,1004.2 629.9,1003.3 631.5,1003 630.8,1001.8 632,1001.8 631.8,1001.4 632.5,1001.4 632.1,1000.7 633,1000.7 632.7,1000.2 633.5,1000.2 633,999.3 634,999.3 633.7,998.7 634.5,998.7 633.9,997.7 635,997.7 634.3,996.5 635.5,996.5 635.2,996 636,996 635.7,995.5 636.5,995.5 635.8,994.3 637,994.3 636.6,993.7 637.5,993.7 636.7,992.4 638,992.4 637.7,991.8 638.5,991.8 637.8,990.7 639,990.7 638.7,990.1 639.5,990.1 638.5,988.4 640,988.4 639.5,987.7 640.5,987.7 640.1,987 641,987 640.2,985.6 641.5,985.6 640.9,984.6 642,984.6 641.3,983.5 642.5,983.5 641.8,982.2 643,982.2 642.5,981.4 643.5,981.4 643.2,980.8 644,980.8 643.3,979.6 644.5,979.6 643.7,978.3 645,978.3 644.6,977.5 645.5,977.5 645,976.6 646,976.6 645.4,975.7 646.5,975.7 645.6,974.1 647,974.1 646.5,973.2 648,972.8 647.1,971.3 648.5,971.3 648.2,970.7 649,970.7 648.4,969.7 649.5,969.7 649,968.9 650,968.9 649.1,967.3 651,967 650.4,965.9 651.5,965.9 650.6,964.4 652,964.4 651.6,963.8 652.5,963.8 651.6,962.3 653.5,962 652.7,960.6 654,960.6 653.6,959.9 654.5,959.9 653.9,958.9 655,958.9 654.1,957.3 656,957 655,955.3 656.5,955.3 655.9,954.3 657,954.3 656.5,953.5 657.5,953.5 656.8,952.4 658,952.4 657.6,951.7 658.5,951.7 657.7,950.3 659,950.3 658.6,949.6 659.5,949.6 659,948.8 660,948.8 659.5,947.9 660.5,947.9 659.7,946.5 661,946.5 660.4,945.4 661.5,945.4 661,944.6 662,944.6 661.4,943.6 662.5,943.6 662,942.8 663,942.8 662.2,941.4 663.5,941.4 662.8,940.2 664,940.2 663.3,939 664.5,939 664,938.2 665,938.2 664.3,937 665.5,937 664.6,935.4 666,935.4 665.4,934.4 666.5,934.4 665.7,933 667,933 666.4,932 667.5,932 666.7,930.6 668,930.6 667.1,929 668.5,929 667.8,927.9 669,927.9 668.2,926.5 669.5,926.5 668.5,924.6 670,924.6 669.3,923.4 670.5,923.4 669.2,921.2 671,921.2 670,919.5 671.5,919.5 670.8,918.4 672,918.4 670.9,916.5 672.5,916.5 671.6,915 673,915 672.1,913.4 673.5,913.4 672.3,911.3 674,911.3 673.1,909.8 674.5,909.8 673.4,907.9 675,907.9 673.9,906.1 675.5,906.1 674.5,904.3 676,904.3 675.2,903 676.5,903 675.2,900.9 677,900.9 676.1,899.3 677.5,899.3 676.6,897.7 678,897.7 677.2,896.3 678.5,896.3 677.4,894.3 679,894.3 678.4,893.3 679.5,893.3 678.4,891.4 680,891.4 679.3,890.3 680.5,890.3 679.7,888.9 681,888.9 680.3,887.7 681.5,887.7 680.7,886.3 682,886.3 681.2,885 682.5,885 681.5,883.3 683,883.3 682.4,882.2 683.5,882.2 682.9,881.2 684,881.2 683.1,879.6 684.5,879.6 683.9,878.6 685,878.6 684.1,877 685.5,877 684.7,875.7 686,875.7 685.2,874.4 686.5,874.4 685.8,873.2 687,873.2 685.7,871 687.5,871 686.7,869.6 688,869.6 687.1,868.1 688.5,868.1 687.7,866.7 689,866.7 688,864.9 689.5,864.9 689,864 690,864 688.6,861.7 690.5,861.7 689.6,860.2 691,860.2 690.1,858.7 691.5,858.7 690.2,856.4 692,856.4 690.7,854.2 692.5,854.2 691.3,852 693,852 691.8,849.9 693.5,849.9 692.1,847.6 694,847.6 692.7,845.4 694.5,845.4 693.1,842.9 695,842.9 693.4,840.2 695.5,840.2 694.4,838.4 696,838.4 694.6,836 696.5,836 694.9,833.3 697,833.3 695.4,830.4 697.5,830.4 696.5,828.6 698,828.6 696.3,825.8 698.5,825.8 697.1,823.4 699,823.4 697.6,820.9 699.5,820.9 698.5,819.2 700,819.2 698.6,816.8 700.5,816.8 699.1,814.3 701,814.3 699.8,812.2 701.5,812.2 700.3,810.1 702,810.1 700.8,807.9 702.5,807.9 701.4,806.1 703,806.1 701.9,804.2 703.5,804.2 701.9,801.4 704,801.4 703.2,800 704.5,800 703.3,798 705,798 703.5,795.4 705.5,795.4 704.7,794 706,794 704.8,791.9 706.5,791.9 705.2,789.7 707,789.7 705.5,787.2 707.5,787.2 706.5,785.4 708,785.4 706.9,783.5 708.5,783.5 707.2,781.3 709,781.3 707.5,778.8 709.5,778.8 708.6,777.2 710,777.2 708.6,774.7 710.5,774.7 709.1,772.4 711,772.4 709.8,770.3 711.5,770.3 710.1,767.9 712,767.9 710.8,765.9 712.5,765.9 711.1,763.4 713,763.4 712.2,761.9 713.5,761.9 711.8,759 714,759 712.8,756.9 714.5,756.9 713.2,754.7 715,754.7 713.8,752.5 715.5,752.5 714.1,750.1 716,750.1 714.9,748.2 716.5,748.2 714.8,745.3 717,745.3 716,743.6 717.5,743.6 715.8,740.6 718,740.6 716.8,738.6 718.5,738.6 716.7,735.6 719,735.6 717.4,732.9 719.5,732.9 718.3,730.9 720,730.9 718.1,727.7 720.5,727.7 719.2,725.4 721,725.4 719.5,722.7 721.5,722.7 719.5,719.4 722,719.4 720.4,716.6 722.5,716.6 720.9,713.9 723,713.9 721.4,711.1 723.5,711.1 721.7,708.1 724,708.1 722.1,704.7 724.5,704.7 722.7,701.7 725,701.7 723.3,698.8 725.5,698.8 723.4,695.1 726,695.1 724.5,692.5 726.5,692.5 724.6,689.3 727,689.3 724.8,685.5 727.5,685.5 725.7,682.5 728,682.5 726.1,679.2 728.5,679.2 726.4,675.6 729,675.6 726.7,671.7 729.5,671.7 727.4,668.1 730,668.1 728,664.7 730.5,664.7 728.4,661 731,661 729.1,657.7 731.5,657.7 729.6,654.4 732,654.4 729.9,650.7 732.5,650.7 730.6,647.5 733,647.5 730.8,643.7 733.5,643.7 731.4,640.1 734,640.1 731.8,636.3 734.5,636.3 732.8,633.4 735,633.4 732.8,629.6 735.5,629.6 733.6,626.4 736,626.4 734,622.9 736.5,622.9 734.1,618.8 737,618.8 735.3,615.9 737.5,615.9 735.6,612.6 738,612.6 736.4,609.8 738.5,609.8 736.5,606.3 739,606.3 737.6,604 739.5,604 737.9,601.2 740,601.2 738.4,598.4 740.5,598.4 739,595.8 741,595.8 739.9,593.9 741.5,593.9 739.9,591.2 742,591.2 740.9,589.3 742.5,589.3 741.1,586.9 743,586.9 741.9,585.1 743.5,585.1 742.3,583 744,583 743,581.4 744.5,581.4 743.4,579.5 745,579.5 743.9,577.6 745.5,577.6 744.3,575.5 746,575.5 745.1,573.9 746.5,573.9 745.4,572 747,572 745.9,570.1 747.5,570.1 746.6,568.5 748,568.5 747,566.9 748.5,566.9 747.2,564.7 749,564.7 748.2,563.3 749.5,563.3 748.3,561.2 750,561.2 748.9,559.2 750.5,559.2 749.5,557.5 751,557.5 750.1,555.9 751.5,555.9 750.3,553.9 752,553.9 751.3,552.6 752.5,552.6 751.3,550.5 753,550.5 752.1,549 753.5,549 752.6,547.5 754,547.5 753,545.8 754.5,545.8 753.5,544 755,544 754.1,542.4 755.5,542.4 754.6,540.9 756,540.9 755,539.2 756.5,539.2 755.5,537.5 757,537.5 756.3,536.4 757.5,536.4 756.3,534.3 758,534.3 757.1,532.8 758.5,532.8 757.7,531.5 759,531.5 758.1,529.9 759.5,529.9 759,528.9 760,528.9 758.9,527.1 760.5,527.1 759.8,525.9 761,525.9 760,524.2 761.5,524.2 760.6,522.7 762,522.7 761.7,522.1 762.5,522.1 762,521.2 763,521.2 762.2,519.8 764,519.7 763.6,518.9 764.8,518.9 764.5,519.5 765.5,519.5 765,520.3 765.7,520.3 765.5,520.7 766.2,520.7 766,521 766.8,521 766.5,521.6 767.5,521.6 767,522.5 768.7,522.6 768,523.8 768.7,523.8 768.5,524.2 769.6,524.2 769,525.2 770,525.2 769.5,526.1 770.3,526.1 770,526.6 770.9,526.6 770.5,527.3 771.5,527.3 771,528.2 772,528.2 771.5,529.2 772.5,529.2 772,530 773.2,530 772.5,531.3 773.7,531.3 773,532.5 774,532.5 773.5,533.3 774.9,533.3 774,534.9 775.2,534.9 774.5,536 775.7,536 775,537.2 776.3,537.2 775.5,538.5 776.6,538.5 776,539.5 777.6,539.5 776.5,541.3 777.6,541.3 777,542.3 778.4,542.3 777.5,543.8 779,543.8 778,545.5 779.6,545.5 778.5,547.4 780.2,547.4 779,549.4 780.2,549.4 779.5,550.6 781.2,550.6 780,552.6 781.6,552.6 780.5,554.6 782.2,554.6 781,556.6 782.4,556.6 781.5,558.2 782.9,558.2 782,559.7 783.5,559.7 782.5,561.4 784.3,561.4 783,563.6 784.7,563.6 783.5,565.7 785.1,565.7 784,567.5 785.5,567.5 784.5,569.2 785.9,569.2 785,570.7 786.6,570.7 785.5,572.5 787.1,572.5 786,574.4 787.7,574.4 786.5,576.6 788.3,576.6 787,578.8 788.5,578.8 787.5,580.6 789.4,580.6 788,583 789.6,583 788.5,585 790.5,585 789,587.6 790.7,587.6 789.5,589.7 791.5,589.7 790,592.3 791.7,592.3 790.5,594.4 792.7,594.4 791,597.2 793.3,597.2 791.5,600.4 793.4,600.4 792,602.8 794.9,602.8 792.5,606.9 794.9,606.9 793,610.1 795.7,610.1 793.5,613.9 795.7,613.9 794,616.8 796.5,616.8 794.5,620.3 796.9,620.3 795,623.7 797.1,623.7 795.5,626.5 797.6,626.5 796,629.2 798.2,629.2 796.5,632.1 798.2,632.1 797,634.3 799.3,634.3 797.5,637.4 799.4,637.4 798,639.8 800.2,639.8 798.5,642.8 800.5,642.8 799,645.4 800.7,645.4 799.5,647.4 801.4,647.4 800,649.8 802.1,649.8 800.5,652.6 802.3,652.6 801,654.9 802.7,654.9 801.5,657 803.3,657 802,659.2 803.7,659.2 802.5,661.3 803.9,661.3 803,662.8 804.5,662.8 803.5,664.5 804.8,664.5 804,665.9 805.6,665.9 804.5,667.8 805.8,667.8 805,669.1 806.6,669.1 805.5,671 806.8,671 806,672.4 807.5,672.4 806.5,674.1 807.7,674.1 807,675.4 808,675.4 807.5,676.3 808.7,676.3 808,677.5 809.1,677.5 808.5,678.5 809.4,678.5 809,679.2 809.9,679.2 809.5,679.9 823,679.7 822.7,679.2 823.5,679.2 823.2,678.7 824,678.7 823.7,678.2 824.5,678.2 823.8,677 825,677 824.6,676.2 825.5,676.2 825,675.4 826,675.4 825.2,674.1 826.5,674.1 825.5,672.4 827,672.4 826.1,670.8 827.5,670.8 826.5,669.1 828,669.1 827.2,667.7 828.5,667.7 827.5,666 829,666 828.2,664.5 829.5,664.5 828.7,663.2 830,663.2 829,661.5 830.5,661.5 829.4,659.6 831,659.6 830.2,658.3 831.5,658.3 831,657.5 832,657.5 831.5,656.6 832.5,656.6 831.8,655.4 833,655.4 832.7,654.9 833.5,654.9 832.9,653.8 834,653.8 833.6,653.2 835,653.1 834.6,652.4 835.5,652.4 835,651.5 836.5,651.2 836.1,650.5 836.9,650.5 836.5,651.1 837.5,651.1 837,651.9 838.1,651.9 837.5,653 838.8,653 838,654.5 839.4,654.5 838.5,655.9 839.3,655.9 839,656.5 840.3,656.5 839.5,657.8 840.8,657.8 840,659.2 841.4,659.2 840.5,660.7 841.4,660.7 841,661.4 842.4,661.4 841.5,662.9 842.5,662.9 842,663.7 843.1,663.7 842.5,664.7 843.8,664.7 843,666.1 843.9,666.1 843.5,666.8 844.8,666.8 844,668.2 845,668.2 844.5,669 845.9,669 845,670.5 846.4,670.5 845.5,672.2 846.3,672.2 846,672.7 847.3,672.7 846.5,674 848,674 847,675.7 848.4,675.7 847.5,677.3 848.6,677.3 848,678.4 849.5,678.4 848.5,680.1 849.5,680.1 849,681.1 850.7,681.1 849.5,683.1 850.5,683.1 850,684 851.7,684 850.5,686 851.7,686 851,687.2 852.7,687.2 851.5,689.3 852.6,689.3 852,690.3 853.7,690.3 852.5,692.4 854.4,692.4 853,694.8 854.6,694.8 853.5,696.6 855.1,696.6 854,698.5 855.7,698.5 854.5,700.5 856.5,700.5 855,703.2 856.5,703.2 855.5,704.8 857.3,704.8 856,707.1 857.8,707.1 856.5,709.3 858.7,709.3 857,712.2 859,712.2 857.5,714.8 859,714.8 858,716.6 860.2,716.6 858.5,719.5 860.4,719.5 859,721.9 860.6,721.9 859.5,723.9 861.5,723.9 860,726.5 861.9,726.5 860.5,729 862.1,729 861,730.9 863.3,730.9 861.5,734 863,734 862,735.8 863.9,735.8 862.5,738.2 864.7,738.2 863,741.2 864.9,741.2 863.5,743.5 865.6,743.5 864,746.3 865.9,746.3 864.5,748.7 866.2,748.7 865,750.8 867.1,750.8 865.5,753.6 867.7,753.6 866,756.6 867.7,756.6 866.5,758.6 868.4,758.6 867,761 869.3,761 867.5,764 869.1,764 868,765.9 870.1,765.9 868.5,768.6 870.7,768.6 869,771.5 870.8,771.5 869.5,773.7 871,773.7 870,775.5 871.9,775.5 870.5,777.9 872.6,777.9 871,780.6 873,780.6 871.5,783.2 873.5,783.2 872,785.7 873.6,785.7 872.5,787.6 874.5,787.6 873,790.2 874.9,790.2 873.5,792.5 875.3,792.5 874,794.7 876,794.7 874.5,797.3 876.2,797.3 875,799.4 876.7,799.4 875.5,801.5 877.4,801.5 876,803.9 877.5,803.9 876.5,805.6 878.3,805.6 877,807.8 878.7,807.8 877.5,809.8 878.9,809.8 878,811.3 879.4,811.3 878.5,812.9 880,812.9 879,814.7 880.9,814.7 879.5,817.1 881,817.1 880,818.8 881.5,818.8 880.5,820.5 881.7,820.5 881,821.6 882.6,821.6 881.5,823.5 883.3,823.5 882,825.6 883.2,825.6 882.5,826.9 883.8,826.9 883,828.3 884.6,828.3 883.5,830.2 884.8,830.2 884,831.7 885,831.7 884.5,832.5 886,832.5 885,834.2 886.3,834.2 885.5,835.5 886.7,835.5 886,836.7 887.2,836.7 886.5,837.9 887.6,837.9 887,838.9 887.8,838.9 887.5,839.4 888.7,839.4 888,840.7 889,840.7 888.5,841.6 889.8,841.6 889,843 890,843 889.5,843.9 890.8,843.9 890,845.2 891.5,845.6 891,846.4 892,846.4 891.5,847.2 892.6,847.2 892,848.3 893.3,848.3 892.5,849.7 893.4,849.7 893,850.4 893.8,850.4 893.5,850.9 894.6,850.9 894,852 895,852 894.5,852.9 895.3,852.9 895,853.5 895.8,853.5 895.5,854 896.8,854 896,855.4 896.9,855.4 896.5,856 897.2,856 897,856.4 898.1,856.4 897.5,857.5 898.3,857.5 898,858 899.1,858 898.5,858.9 899.6,858.9 899,859.9 899.9,859.9 899.5,860.5 900.3,860.5 900,861 901.1,861 900.5,862.1 902.1,862.4 901.5,863.4 902.2,863.4 902,863.8 903.1,863.8 902.5,864.8 903.4,864.8 903,865.4 903.9,865.4 903.5,866.1 904.5,866.1 904,867 904.9,867 904.5,867.7 905.5,867.7 905,868.5 906.7,868.6 906,869.9 906.8,869.9 906.5,870.3 907.2,870.3 907,870.6 907.8,870.6 907.5,871.1 908.5,871.1 908,872 909,872 908.5,872.9 909.5,872.9 909,873.7 910,873.7 909.5,874.6 910.4,874.6 910,875.3 911,875.3 910.5,876.1 911.4,876.1 911,876.8 911.9,876.8 911.5,877.5 912.5,877.5 912,878.3 912.8,878.3 912.5,878.9 913.1,878.9 913,879.1 914.1,879.1 913.5,880.2 914.4,880.2 914,880.8 915,880.8 914.5,881.7 915.2,881.7 915,882.2 916.2,882.2 915.5,883.4 917,883.6 916.5,884.5 917.3,884.5 917,885 918.3,885 917.5,886.3 918.4,886.3 918,887 918.9,887 918.5,887.8 920,887.9 919.5,888.7 920.7,888.7 920,889.9 920.9,889.9 920.5,890.6 922.1,890.7 921.5,891.7 922.2,891.7 922,892.1 923.3,892.1 922.5,893.4 923.4,893.4 923,894.1 924,894.1 923.5,894.9 924.3,894.9 924,895.5 924.7,895.5 924.5,895.8 925.4,895.8 925,896.5 926,896.5 925.5,897.4 926.3,897.4 926,897.9 927.1,897.9 926.5,899 927.9,899.3 927.5,899.9 928.6,899.9 928,901 929.4,901.1 929,901.8 929.8,901.8 929.5,902.2 930.8,902.2 930,903.5 931.3,903.8 931,904.4 932.1,904.4 931.5,905.4 932.4,905.4 932,906 933.3,906 933,906.6 934.2,906.6 933.5,907.8 934.4,907.8 934,908.4 934.6,908.4 934.5,908.7 935.4,908.7 935,909.4 936.5,909.4 936,910.3 937.3,910.5 937,911.1 937.8,911.1 937.5,911.5 938.5,911.5 938,912.4 938.8,912.4 938.5,913 939.2,913 939,913.4 939.9,913.4 939.5,914.1 940.9,914.1 940.5,914.8 941.3,914.8 941,915.2 941.9,915.2 941.5,916 942.4,916 942,916.8 943.6,916.8 943,917.9 946.6,918 945,920.7 947.5,920.7 947,921.6 951,921.6 949,925.5 950.4,925.5 950,926.3 950.9,926.3 950.5,926.9 951.9,926.9 951.5,927.6 953.5,927.6 953,928.6 957.2,928.6 955.5,931.5 957.5,931.7 957,932.5 961.8,932.9 961.5,933.5 963.1,933.5 962.5,934.5 963.6,934.5 963,935.5 964,935.5 963.5,936.4 964.9,936.4 964,937.9 966.3,937.9 965.5,939.3 969.1,939.3 968,941.2 969.9,941.2 969.5,941.9 970.6,941.9 970,942.9 972.7,942.9 972,944.2 975.4,944.2 974.5,945.7 976.4,945.7 976,946.3 980,946.3 979.5,947.1 980.7,947.1 980,948.3 983,948.4 982.5,949.3 986.2,949.3 985.5,950.6 986.7,950.6 986.5,950.9 989.6,950.9 989,951.9 990.4,951.9 990,952.7 990.7,952.7 990.5,953 992.3,953 992,953.6 998.2,953.7 998,954 999.5,954 999,954.8 1000.2,954.8 999.5,956 1006.1,956.4 1005.5,957.3 1006,957.5 1011.1,957.5 1010.5,958.6 1011.8,958.6 1011.5,959.2 1013.6,959.2 1013,960.2 1017.4,960.2 1017,961 1021,961 1020.5,961.8 1026,961.9 1025.5,963.1 1027.7,963.1 1027.5,963.4 1033.5,963.4 1033,964.3 1037.7,964.3 1037,965.4 1039.9,965.4 1039.5,966.1 1044.5,966.3 1044,967.1 1051.3,967.3 1051,967.9 1053.6,967.9 1053,969 1056.7,969 1056,970.2 1061.8,970.2 1061,971.6 1064.8,971.7 1064.5,972.2 1070.3,972.3 1070,972.8 1072.6,972.8 1071.5,974.6 1076.5,974.9 1076,975.8 1078.2,975.8 1078,976 1080.3,976 1080,976.5 1081.5,976.5 1081,977.3 1086,977.3 1085.5,978.2 1093.6,978.5 1092.5,980.4 1098.3,980.4 1097.5,981.8 1101.7,982 1101,983.4 1104.8,983.6 1104.5,984 1106.7,984 1106,985.2 1110.8,985.2 1110,986.5 1110.6,986.5 1110.5,986.8 1116.4,986.9 1116,987.6 1117.2,987.6 1116.5,988.8 1117.7,988.8 1117.5,989.2 1123.8,989.2 1123,990.5 1125,990.7 1124.5,991.6 1128.5,991.6 1128,992.5 1129.2,992.5 1128.5,993.7 1129.8,993.7 1129.5,994.2 1135.4,994.5 1134.5,996 1138.2,996 1137,998 1137.7,998 1137.5,998.4 1141.4,998.4 1140.5,999.9 1142.7,999.9 1142,1001.1 1145.4,1001.1 1144.5,1002.7 1147.3,1003 1147,1003.5 1152.3,1003.5 1151.5,1004.9 1153.7,1004.9 1152.5,1007.5 1154.8,1007.8 1154.5,1008.3 1155.3,1008.3 1155,1008.8 1157.8,1008.8 1157,1010.1 1158.4,1010.1 1158,1010.8 1160.5,1010.8 1160,1011.7 1162.7,1011.8 1162,1013 1166.4,1013 1166,1013.7 1167.1,1013.7 1166.5,1014.7 1169.6,1014.7 1169,1015.6 1170.4,1015.8 1169.5,1017.3 1171,1017.3 1170.5,1018.1 1173.4,1018.1 1173,1018.9 1173.7,1018.9 1173.5,1019.1 1178.4,1019.1 1177,1021.5 1182,1021.6 1181,1023.4 1183.7,1023.4 1183.5,1023.8 1186.8,1024 1186,1025.4 1189,1025.4 1188.5,1026.3 1192.1,1026.3 1191.5,1027.4 1194.3,1027.8 1194,1028.3 1199,1028.3 1198,1030.1 1201.3,1030.1 1201,1030.6 1202.5,1030.6 1202,1031.6 1206.5,1031.6 1205.5,1033.3 1207.2,1033.3 1206.5,1034.6 1209.2,1034.6 1209,1035 1210.4,1035 1210,1035.6 1211.8,1035.6 1211.5,1036 1213.6,1036 1212.5,1037.9 1214.3,1038 1214,1038.6 1217.1,1038.6 1216.5,1039.6 1220.8,1039.6 1220.5,1040.1 1224.9,1040.1 1224.5,1040.7 1228.8,1040.7 1228.5,1041.2 1230.2,1041.2 1229.5,1042.5 1230.2,1042.5 1230,1042.9 1232.4,1043 1232,1043.7 1234.6,1043.7 1234,1044.8 1240.7,1044.8 1240,1045.9 1242.6,1046.2 1242,1047.2 1244.2,1047.2 1243.5,1048.4 1247.8,1048.4 1247,1049.8 1252.3,1049.8 1252,1050.3 1257.5,1050.8 1257,1051.7 1258.7,1052.1 1258,1053.5 1259.9,1053.5 1259.5,1054.2 1267.6,1054.5 1267,1055.6 1271.5,1055.6 1271,1056.4 1277.4,1056.6 1276.5,1058.1 1280.4,1058.4 1280,1059.1 1285.7,1059.2 1285,1060.4 1287.2,1060.4 1287,1060.8 1293.4,1060.8 1293,1061.5 1295.6,1061.5 1295,1062.5 1302.4,1062.8 1302,1063.6 1310.4,1063.6 1310,1064.2 1315.8,1064.2 1315.5,1064.7 1316.4,1064.7 1316,1065.4 1327.2,1065.5 1327,1065.9 1328.2,1065.9 1328,1066.3 1332.7,1066.3 1332,1067.5 1336.8,1067.5 1336.5,1068.1 1344.2,1068.1 1343.5,1069.2 1353.2,1069.2 1352.5,1070.5 1355.2,1070.7 1355,1070.9 1360.8,1070.9 1360.5,1071.5 1365.8,1071.5 1365.5,1072 1366.5,1072 1371.8,1072 1371.5,1072.6 1377.2,1072.7 1377,1073 1377.5,1073.2 1386.7,1073.2 1386.5,1073.5 1387.7,1073.5 1387.5,1073.9 1391.8,1073.9 1391.5,1074.5 1398.2,1074.5 1398,1074.7 1398.7,1074.7 1398.5,1075.1 1405.4,1075.1 1405,1075.7 1412.9,1075.9 1412.5,1076.6 1417.2,1076.7 1417,1077 1427.4,1077 1427,1077.8 1433.1,1077.8 1432.5,1078.7 1440.2,1078.7 1440,1079.1 1445.2,1079.1 1445,1079.5 1445.5,1079.7 1451,1079.8 1464.6,1079.8 1464,1080.7 1476.3,1080.7 1476,1081.2 1479.2,1081.2 1479,1081.6 1485.2,1081.6 1485,1082.1 1499.8,1082.1 1499.5,1082.6 1500.3,1082.6 1500,1083.1 1506.1,1083.2 1509.2,1083.5 1509,1083.8 1514.7,1083.9 1514.5,1084.3 1520.2,1084.3 1520,1084.6 1531.8,1084.6 1531.5,1085.1 1539.6,1085.3 1539.5,1085.5 1542.2,1085.5 1542,1085.8 1552.7,1085.8 1552.5,1086.1 1566.5,1086.6 1590.9,1086.6 1590.5,1087.3 1611.8,1087.5 1611.5,1088.1 1659.8,1088.6 1659.8,1074.5 1659.5,1074.1 1659.2,1074.6 1659,1074.3 1658.9,1074.5 1658.5,1073.9 1657.8,1075 1657,1073.6 1656.3,1074.7 1655.5,1073.3 1655,1074.2 1654.5,1073.3 1653.7,1074.7 1653,1073.4 1651.7,1075.6 1651.5,1075.1 1651,1076 1649,1073.1 1648.3,1074.3 1648,1073.8 1647.4,1074.7 1647,1073.9 1646.7,1074.4 1646,1073.2 1645.5,1074.1 1645,1073.2 1643.7,1075.4 1642.5,1073.3 1642.2,1073.8 1642,1073.4 1640.9,1075.3 1640.5,1074.6 1640.1,1075.2 1639.5,1074.5 1639.3,1074.8 1639,1074.2 1638.7,1074.7 1638.5,1074.3 1637.7,1075.4 1636.5,1073.6 1635.8,1074.8 1635,1073.4 1634.4,1074.5 1634,1073.8 1633.3,1075 1632.5,1073.6 1632.2,1074.2 1631.5,1073.1 1631.3,1073.5 1631,1073.1 1630.3,1074.3 1630,1073.7 1628.9,1075.7 1627.5,1073.3 1626.8,1074.4 1626.5,1073.9 1625.4,1075.4 1625,1074.6 1624.5,1075.5 1623,1072.9 1622.3,1074.2 1621.5,1073.3 1619.8,1076 1618.5,1073.7 1617.6,1075.4 1616,1072.7 1615.4,1073.6 1615,1072.9 1613.7,1075.1 1613,1074.3 1612.7,1074.8 1612,1073.6 1611.5,1074.5 1610.5,1072.8 1609.5,1074.5 1608.5,1072.8 1607.4,1074.6 1606.5,1073.2 1605.9,1074.3 1604.5,1072.2 1603.7,1073.5 1603,1072.3 1601.5,1074.8 1600,1072.1 1598.7,1074.3 1598,1073.7 1597.4,1074.8 1596,1072.4 1595.6,1073.1 1595,1072.2 1594.3,1073.5 1594,1073 1593.7,1073.5 1593,1072.2 1591.7,1074.2 1591,1073.1 1590.6,1073.8 1589.5,1071.9 1588.2,1074.2 1587,1072.2 1586.6,1072.9 1586,1072.1 1585.1,1073.6 1584.5,1072.6 1583.8,1073.7 1583.5,1073.1 1583.2,1073.7 1582,1071.7 1580.9,1073.5 1580,1071.9 1578.7,1073.9 1578.5,1073.5 1578.2,1074 1576.5,1071.5 1574.9,1073.6 1573.5,1071.3 1572.5,1073 1572,1072 1571.2,1073.3 1570.5,1072 1569.4,1073.9 1568,1071.4 1566.7,1073.7 1565,1071.2 1564.5,1072 1564,1071.2 1563.6,1072 1563,1071 1560.7,1074.4 1558.5,1070.7 1558.2,1071.2 1558,1070.8 1557,1072.5 1556,1070.8 1555.8,1071.1 1555.5,1070.6 1554.3,1072.7 1554,1072.1 1553.8,1072.5 1553,1071.1 1552.1,1072.5 1551,1070.6 1550.2,1072 1549.5,1070.9 1548.5,1072.7 1547,1070.8 1546.1,1072.4 1545.5,1071.3 1544.6,1072.8 1543.5,1071 1542.7,1072.3 1542.5,1071.9 1542.3,1072.2 1541.5,1070.8 1540.3,1071.9 1539.5,1070.7 1537.7,1072.8 1536.5,1070.7 1536.1,1071.3 1535.5,1070.3 1534.6,1071.8 1533.5,1070.1 1533.2,1070.7 1532.5,1069.5 1531.2,1071.7 1530,1069.6 1529.2,1070.9 1528.5,1069.6 1527.4,1071.4 1527,1070.7 1526.4,1071.7 1525,1069.3 1524.8,1069.6 1524.5,1069.1 1523.1,1071.4 1522,1069.4 1521.8,1069.7 1521.5,1069.2 1520.8,1070.4 1520.5,1069.8 1519.5,1071 1519,1070.1 1518.4,1071.1 1518,1070.4 1517.4,1071.2 1517,1070.5 1516.7,1071 1516,1069.7 1515.6,1070.4 1514.5,1068.5 1513.9,1069.4 1513,1068.5 1511.7,1070.6 1510.5,1069.1 1509.6,1070.3 1509,1069.4 1508.3,1070.3 1508,1069.8 1506.7,1071.5 1504.5,1067.8 1502.7,1070.5 1501,1067.6 1499.9,1069.5 1498.5,1067.2 1498.2,1067.6 1498,1067.2 1496.5,1069.8 1496,1068.9 1495.6,1069.6 1495,1068.5 1494.7,1069 1494,1067.8 1493.4,1068.8 1492,1066.9 1491.1,1068.5 1490,1067 1489.1,1068.5 1488,1066.6 1486.3,1069.5 1484.5,1066.3 1482.5,1069.7 1481,1067.4 1479.7,1069.5 1478.5,1067.4 1478.1,1068.1 1477,1066.2 1476.3,1067.4 1476,1066.8 1474.8,1068.8 1474,1067.7 1473.8,1068 1473.4,1067.6 1472.5,1066 1472.1,1066.7 1471,1065.4 1469.8,1067.4 1469,1066.1 1468.8,1066.4 1468.5,1065.9 1467.7,1067.2 1467,1066.2 1466.8,1066.6 1466.5,1066.1 1466.2,1066.5 1465.5,1065.8 1465,1066.7 1464.5,1065.8 1463.3,1068 1461,1064.7 1459.7,1066.8 1458.5,1065.1 1457.5,1066.8 1456.5,1065 1455.8,1066 1455.5,1065.4 1454.8,1066.5 1454.5,1066 1454.2,1066.5 1453.9,1066.4 1453.5,1065.6 1452.6,1067.2 1451,1064.5 1450.7,1065 1450.5,1064.6 1449.8,1065.3 1449,1064.3 1448.7,1064.8 1448,1064.3 1446.7,1066.5 1445.5,1064.4 1444.9,1065.4 1444.5,1064.6 1444.2,1065.1 1444,1064.6 1443.4,1065.6 1443,1064.9 1441.3,1067.4 1440.5,1066 1439.9,1067 1438.5,1064.5 1438.2,1065 1437.9,1064.8 1437,1063.2 1435.9,1065.2 1434.5,1063.1 1433.7,1064.5 1433,1063.4 1432.7,1063.8 1432,1062.9 1431.7,1063.3 1431.5,1062.9 1431.3,1063.3 1430.5,1062.5 1429.9,1063.5 1429.5,1062.7 1428.8,1063.9 1428.5,1063.3 1427.8,1064.5 1427.5,1063.9 1427.2,1064.4 1427,1064.1 1425.8,1066 1424,1062.9 1423.4,1064 1422,1061.6 1420.7,1063.8 1420,1062.6 1419.8,1063 1419.5,1062.5 1419.1,1063.3 1418.5,1062.3 1417.4,1064.3 1416,1061.9 1415.3,1063 1414,1061 1412.5,1063.5 1411,1061 1410.2,1062.3 1409.5,1061 1409.1,1061.7 1408.5,1060.7 1408.1,1061.4 1407.5,1060.3 1406.5,1062 1405.5,1060.7 1404.8,1061.9 1404,1060.5 1403.7,1061 1403,1059.8 1401.8,1061.4 1401.5,1061 1400.8,1062.1 1400,1060.7 1399.7,1061.2 1399.5,1060.8 1399,1061.2 1398.3,1062.5 1396.5,1059.5 1395.9,1060.4 1395.5,1059.6 1395.1,1060.2 1394.5,1059.1 1393.6,1060.6 1392.5,1058.6 1391.6,1059.5 1391,1058.4 1389.8,1060.4 1389,1059 1388.5,1059.8 1387.5,1058 1386.8,1059.1 1386,1057.9 1385.3,1058.8 1385,1058.4 1383.5,1060.9 1382,1058.2 1381.2,1059.6 1380.5,1058.5 1379.9,1059.5 1379.5,1058.7 1378.1,1061.1 1376.5,1058.7 1375.9,1059.8 1375,1058.3 1374.7,1058.8 1374,1057.6 1373.8,1058.1 1373.5,1057.6 1372.4,1059.1 1371,1056.7 1370.7,1057.1 1370.5,1056.7 1369.5,1058.4 1369,1057.4 1368.6,1058.1 1367.5,1056.1 1366.4,1057.9 1366,1057.2 1365.8,1057.6 1365,1056.4 1364.2,1057.7 1363.5,1056.7 1362.6,1058.2 1362,1057.1 1361.3,1058.4 1360.5,1057.4 1360,1058.3 1358.5,1056.2 1357.8,1057.3 1357,1056 1356.7,1056.6 1355.5,1054.9 1354.1,1057.1 1352.5,1054.3 1351,1056.4 1349.5,1053.9 1349.2,1054.3 1349,1053.9 1348.5,1054.9 1347.5,1053.5 1347.1,1054.3 1346.5,1053.3 1346.1,1054 1345.5,1053.1 1344.8,1054.4 1344.5,1053.9 1343.4,1055.1 1342,1052.7 1340.4,1055.4 1339,1053.1 1338.4,1054.1 1338,1053.4 1337.7,1053.9 1337,1052.7 1336.1,1054.4 1335.5,1053.4 1334.4,1054.7 1332.5,1051.4 1331.8,1052.6 1331,1051.2 1330.7,1051.7 1330.5,1051.3 1329.2,1053.6 1327.5,1051.1 1326.7,1052.4 1326,1051.2 1325.8,1051.5 1325.5,1050.9 1324.7,1052.3 1324,1051.1 1323.5,1051.9 1323,1051.1 1322.4,1052.2 1321,1049.8 1319.2,1052.5 1317,1049.2 1316.5,1050.1 1316,1049.3 1315.8,1049.7 1315.5,1049.3 1314.9,1050.4 1314,1048.9 1312.5,1051 1311.5,1050 1310.7,1050.9 1309,1048.4 1307.7,1050.6 1306,1048 1305.3,1049.2 1305,1048.8 1304.5,1049.3 1303.7,1050.6 1302.5,1048.5 1301.7,1049.9 1300.5,1047.9 1300.1,1048.6 1299,1046.6 1298.4,1047.6 1297.5,1046.5 1296.8,1047.7 1296,1047 1295.7,1047.5 1295.4,1047.3 1295,1046.6 1293.8,1048 1292,1045 1290.9,1046.9 1289.5,1044.7 1288.8,1045.7 1287.5,1044.5 1286.6,1045.9 1285.5,1044.1 1284.8,1045.3 1283.5,1043.2 1282.9,1044.2 1282,1042.7 1280.1,1045.4 1279.5,1044.4 1279.3,1044.8 1278,1042.5 1277.3,1043.7 1277,1043.1 1276.5,1044 1276,1043 1275.7,1043.6 1275.5,1043.4 1275.2,1043.9 1275,1043.6 1274.9,1043.8 1273,1040.6 1272.8,1041 1272.5,1040.6 1272.1,1041.2 1272,1041 1271.2,1042.2 1270,1040.4 1269.8,1040.8 1269.5,1040.3 1268.8,1041.4 1268.5,1040.8 1267.9,1041.8 1267.5,1041.1 1267.2,1041.6 1267,1041.2 1266.3,1042.4 1265.5,1041 1264.6,1041.8 1262.5,1038.4 1261.9,1039.5 1261,1038.1 1260.6,1038.9 1259,1036.9 1258.1,1038.5 1257.5,1037.5 1257.2,1038 1256,1035.9 1254.9,1037.8 1252.5,1034.6 1251.4,1036.5 1249.5,1033.3 1248.6,1034.6 1247,1031.9 1246.6,1032.6 1246,1031.6 1245.7,1032.1 1245.5,1031.7 1245,1032.5 1244,1030.8 1242.9,1032.6 1242,1031 1241.3,1032.1 1239.5,1029.2 1239.2,1029.7 1239,1029.3 1237.6,1031.8 1235.5,1028.3 1235,1029.1 1234.5,1028.2 1234.1,1028.9 1233,1027.2 1232.4,1028.1 1232,1027.3 1231.3,1028.6 1230,1026.3 1229.3,1027.5 1228.5,1026.1 1228.1,1026.7 1227.5,1025.7 1226.8,1026.9 1226,1025.6 1225.6,1026.2 1225,1025.1 1224.5,1025.9 1224,1025 1222.8,1027.1 1222.5,1026.7 1222.3,1026.9 1221.5,1025.5 1221.2,1026 1219.5,1023.2 1219,1024 1218.5,1023.1 1217.9,1024.2 1216,1021.6 1215.3,1022.9 1215,1022.4 1214.8,1022.6 1213.5,1020.3 1212.8,1021.5 1210.5,1018.1 1209.6,1019.6 1208,1016.8 1207.5,1017.6 1206.5,1015.9 1205.6,1017.5 1204,1014.7 1203.8,1015.1 1203.5,1014.7 1202.9,1015.8 1202.5,1015.2 1202.2,1015.8 1201.5,1014.6 1200.3,1016.6 1199,1014.3 1198.6,1015 1197.5,1013.1 1197.1,1013.8 1196.5,1012.7 1196,1013.5 1195.5,1012.6 1194.9,1013.6 1194,1012.8 1193.1,1014.3 1191.5,1011.6 1191,1012.4 1189,1009.3 1188.4,1010.4 1187,1008 1186.3,1009.2 1186,1008.6 1185.8,1009 1185,1007.7 1184.4,1008.9 1183,1006.5 1182.7,1007 1182,1006.2 1181.6,1006.9 1180.5,1005.1 1180,1005.9 1179,1004.2 1178.1,1005.7 1177.5,1004.6 1177,1005.5 1176.5,1004.6 1176.2,1005.1 1174.5,1002.2 1173.9,1003.2 1172,999.9 1171.6,1000.6 1171,999.6 1170.8,1000 1170.5,999.5 1170.2,1000.1 1169,998.2 1168.7,998.7 1168,997.5 1167.6,998.2 1167,997.1 1166.7,997.6 1166,996.3 1165.1,997.9 1163,994.7 1162.1,995.7 1162,995.4 1161.1,997 1157.5,991.5 1156.5,990.6 1156.3,991 1155.5,990.2 1155.2,990.7 1154.5,989.5 1153.3,991.1 1153,990.7 1152.7,991.2 1150,986.7 1149.6,987.5 1149,986.5 1148.2,987.9 1146.5,985 1145.9,986 1144.5,983.6 1143.7,985 1142,982.1 1141.2,983.5 1140.5,982.3 1140,983.1 1139,981.8 1138.8,982.2 1138,980.8 1137.8,981.2 1137,979.9 1136.4,980.9 1135.5,979.4 1135,980.3 1133.5,977.7 1133.2,978.2 1133,977.9 1131.3,980.5 1128.5,976.3 1128.1,977 1127.5,976 1126.9,976.9 1126.5,976.2 1126.1,976.9 1125,975.1 1124.5,975.9 1123.5,974.1 1123,974.9 1122,973.1 1121.2,974.4 1120,972.5 1119.4,973.6 1119,973 1118.6,973.6 1117.5,971.8 1116.5,973.5 1115,971.3 1114.4,972.4 1113,970 1112.4,971.1 1112,970.3 1111.4,971.5 1110,969.1 1109.6,969.9 1109,968.9 1108.3,970.2 1107,968 1105.7,969.1 1105,967.9 1103.9,969.4 1103.5,968.6 1103.3,969 1102.9,968.5 1101.5,966.2 1101,967 1100.5,966.2 1100.3,966.5 1100,965.9 1099.8,966.3 1099.5,965.8 1098.8,967 1098,965.7 1096.8,967 1095.5,964.7 1095.3,965 1095,964.5 1094.3,965.7 1093,963.5 1092,965.3 1091,963.9 1090.6,964.5 1090,963.4 1089.8,963.8 1089,962.9 1088.7,963.4 1088,962.2 1087.4,963.3 1087,962.6 1086.7,963.1 1086,961.9 1085.8,962.2 1085.5,961.7 1085.3,962.2 1085,961.7 1084.6,962.4 1084,961.4 1083.7,962 1083,960.9 1082.2,962.3 1081.5,961.1 1081.2,961.7 1080,959.7 1079.4,960.8 1078.5,959.3 1077.8,960.5 1077.5,959.9 1077,960.7 1075.5,958.5 1074.2,960.2 1073.5,958.9 1072.8,960.1 1072.5,959.5 1071.4,961.2 1069,957.3 1067.7,959.4 1066,956.5 1065.4,957.6 1064,955.2 1062.5,957.3 1061.5,955.7 1061,956.5 1060,955 1059.4,956 1059,955.3 1058.8,955.7 1058,954.4 1057.5,955.4 1057,954.5 1056.8,954.9 1056.5,954.5 1056.2,954.9 1055.5,953.6 1054.9,954.7 1054.5,954 1053.8,955.2 1052,952.7 1050.6,953.9 1050,952.8 1049.1,954.1 1047.5,951.3 1046.6,952.8 1045.5,950.9 1044.8,951.6 1044.5,951 1043.7,952.4 1042.5,950.8 1042.1,951.6 1041,949.7 1040.8,950.1 1040.5,949.6 1039.5,951.4 1038.5,949.7 1038.2,950.1 1038,949.7 1037.3,950.8 1037,950.3 1036.5,951.1 1035,948.4 1034.7,948.8 1034.5,948.4 1033.7,949.7 1033,948.5 1032.1,950.1 1031,948.2 1030.1,949.8 1028.5,947 1026.9,949.8 1025,946.7 1024.2,948.1 1022.5,945.5 1021.9,946.5 1021.5,945.8 1021.3,946.2 1021,945.8 1020.7,946.4 1020,945.3 1018.8,947.3 1017.5,945.6 1017.3,945.9 1016,943.7 1015.4,944.8 1015,944.2 1014.3,944.8 1014,944.2 1013,945.9 1011,942.4 1009.6,944.3 1008,941.4 1007.4,942.5 1006.5,940.9 1005.4,942.8 1005,942.1 1004.6,942.8 1002.5,939.8 1001.7,941.2 1000.5,939.1 998.8,941.9 996,937.7 995.5,938.6 994.5,937.4 994,938.2 993.5,937.3 992.6,938.8 991,936 990.3,936.5 989.5,935.1 988.9,936.2 987.5,933.8 986.3,935.2 984,932.2 983.7,932.7 983.5,932.3 982.9,933 982,931.5 981.2,932.4 979.5,929.9 979.2,930.5 978,928.5 976.8,930.6 974,925.8 973.7,926.3 973.5,925.9 973.3,926.2 972.5,924.8 971.7,926.1 971,924.8 970.6,925.6 968.5,922 968.2,922.5 967.5,921.2 967.2,921.7 966,919.6 965.3,920.8 964,918.9 963.2,920.3 960.5,915.9 960.3,916.2 960,915.7 959.8,916 959,914.7 958.7,915.1 958.5,914.7 958.1,915.5 954.5,909.5 954.1,910.2 952,906.7 951.5,907.6 950.5,906 949.8,907 949,905.6 948.8,906 947.5,904 946.5,902.9 946.3,903.4 945.5,902.2 945.4,902.4 942,898.2 941.7,898.6 941,897.5 940.9,897.7 939,894.8 938.8,895.3 936,891 935,889.9 934.8,890.2 931,884.6 930.9,884.9 928.5,880.9 927.5,879.5 927.3,879.8 919.5,867.9 919.3,868.2 918.9,867.8 914,859.9 913.5,859.4 913.3,859.7 912,857.4 911.8,857.8 906.4,850 901.2,841.6 901.5,841.6 898.3,835.5 897.7,834.2 898,834.2 897,832.5 897.5,832.5 895.4,828.3 896,828.3 893.7,823.5 894.5,823.5 893.4,821.6 894,821.6 892,817.1 892.5,817.1 891.1,814.7 892,814.7 891,812.9 891.5,812.9 890.6,811.3 891,811.3 890.1,809.8 890.5,809.8 889.3,807.8 890,807.8 888.7,805.6 889.5,805.6 888.5,803.9 889,803.9 887.6,801.5 888.5,801.5 887.3,799.4 888,799.4 886.8,797.3 887.5,797.3 886,794.7 887,794.7 885.7,792.5 886.5,792.5 885.1,790.2 886,790.2 884.5,787.6 885.5,787.6 884.4,785.7 885,785.7 883.5,783.2 884.5,783.2 883,780.6 884,780.6 882.4,777.9 883.5,777.9 882.1,775.5 883,775.5 882,773.7 882.5,773.7 881.2,771.5 882,771.5 880.3,768.6 881.5,768.6 879.9,765.9 881,765.9 879.9,764 880.5,764 878.7,761 880,761 878.6,758.6 879.5,758.6 878.3,756.6 879,756.6 877.3,753.6 878.5,753.6 876.9,750.8 878,750.8 876.8,748.7 877.5,748.7 876.1,746.3 877,746.3 875.4,743.5 876.5,743.5 875.1,741.2 876,741.2 874.3,738.2 875.5,738.2 874.1,735.8 875,735.8 874,734 874.5,734 872.7,730.9 874,730.9 872.9,729 873.5,729 872.1,726.5 873,726.5 871.5,723.9 872.5,723.9 871.4,721.9 872,721.9 870.6,719.5 871.5,719.5 869.8,716.6 871,716.6 870,714.8 870.5,714.8 869,712.2 870,712.2 868.3,709.3 869.5,709.3 868.2,707.1 869,707.1 867.7,704.8 868.5,704.8 867.5,703.2 868,703.2 866.5,700.5 867.5,700.5 866.3,698.5 867,698.5 865.9,696.6 866.5,696.6 865.4,694.8 866,694.8 864.6,692.4 865.5,692.4 864.3,690.3 865,690.3 863.3,687.2 864,687.2 862.3,684 863,684 861.3,681.1 862,681.1 860.5,678.4 861,678.4 859.6,675.7 860,675.7 859,674 859.5,674 858.7,672.7 859,672.7 857.1,669 857.5,669 853.7,661.4 854,661.4 852.7,659.2 853,659.2 852.2,657.8 852.5,657.8 851.7,656.5 852,656.5 848,647.9 841.5,636.7 841.4,636.9 840,634.6 839.8,635 838.5,633.7 837.8,634.3 837.5,633.8 836.8,634.8 836.5,634.3 835.7,635 835.5,634.6 834.7,635.4 834.5,635 833.6,636.5 833.2,636.9 833,636.5 832.2,638 832,637.7 831.5,638.1 829.7,640.6 829.5,640.3 828.2,642.4 828,642 827.5,642.6 818.5,658.3 818.8,658.3 818,659.6 818.6,659.6 817.5,661.5 818,661.5 817,663.2 817.3,663.2 816.5,665.1 816.2,664.5 816.5,664.5 815.5,662.8 816,662.8 815.1,661.3 815.5,661.3 814.3,659.2 815,659.2 813.7,657 814.5,657 813.3,654.9 814,654.9 812.7,652.6 813.5,652.6 811.9,649.8 813,649.8 811.6,647.4 812.5,647.4 811.3,645.4 812,645.4 810.5,642.8 811.5,642.8 809.8,639.8 811,639.8 809.6,637.4 810.5,637.4 808.7,634.3 810,634.3 808.8,632.1 809.5,632.1 807.8,629.2 809,629.2 807.4,626.5 808.5,626.5 806.9,623.7 808,623.7 806.1,620.3 807.5,620.3 805.5,616.8 807,616.8 805.3,613.9 806.5,613.9 804.3,610.1 806,610.1 804.1,606.9 805.5,606.9 803.1,602.8 805,602.8 803.6,600.4 804.5,600.4 802.7,597.2 804,597.2 802.3,594.4 803.5,594.4 802.3,592.3 803,592.3 801.5,589.7 802.5,589.7 801.3,587.6 802,587.6 800.5,585 801.5,585 800.4,583 801,583 799.6,580.6 800.5,580.6 799.5,578.8 800,578.8 798.7,576.6 799.5,576.6 798.3,574.4 799,574.4 797.9,572.5 798.5,572.5 797.4,570.7 798,570.7 796.5,567.5 797,567.5 795.9,565.7 796.5,565.7 795.3,563.6 796,563.6 794.7,561.4 795.5,561.4 794.5,559.7 795,559.7 793.6,556.6 794,556.6 792.8,554.6 793.5,554.6 792.4,552.6 793,552.6 791.8,550.6 792.5,550.6 790.8,547.4 791.5,547.4 790.4,545.5 791,545.5 790,543.8 790.5,543.8 788.4,539.5 789,539.5 786.1,533.3 786.5,533.3 785,530 775,513 772.5,509.8 772.4,510.1 772,509.5 771.9,509.7 770,507.1 769.7,507.7 769,506.5 768.7,506.9 767,504.8 766.8,505.2 766.5,504.7 766.2,505.2 765.5,504.1 765.2,504.6 764.5,503.7 763.7,504.3 763,503.8 762.7,504.4 762,503.8 760.6,505.3 760.2,505.6 760,505.2 759.2,506.7 759,506.4 758.5,506.8 757.2,509 757,508.6 749,522.7 749.4,522.7 748.5,524.2 749,524.2 747.5,527.1 748.1,527.1 746.5,529.9 746.9,529.9 745,534.3 745.7,534.3 744,537.5 744.5,537.5 743.5,539.2 744,539.2 743,540.9 743.4,540.9 742,544 742.5,544 741.5,545.8 742,545.8 740,550.5 740.7,550.5 739,553.9 739.7,553.9 738.5,555.9 738.9,555.9 738,557.5 738.5,557.5 737.5,559.2 738.1,559.2 737,561.2 737.7,561.2 736,564.7 736.8,564.7 735.5,566.9 736,566.9 734.5,570.1 735.1,570.1 734,572 734.6,572 733,575.5 733.7,575.5 732.5,577.6 733.1,577.6 732,579.5 732.6,579.5 731,583 731.7,583 730.5,585.1 731.1,585.1 730,586.9 730.9,586.9 729.5,589.3 730.1,589.3 729,591.2 730.1,591.2 728.5,593.9 729.1,593.9 728,595.8 729,595.8 727.5,598.4 728.6,598.4 727,601.2 728.1,601.2 726.5,604 727.4,604 726,606.3 727.5,606.3 725.5,609.8 726.6,609.8 725,612.6 726.4,612.6 724.5,615.9 725.7,615.9 724,618.8 725.9,618.8 723.5,622.9 725,622.9 723,626.4 724.4,626.4 722.5,629.6 724.2,629.6 722,633.4 723.2,633.4 721.5,636.3 723.2,636.3 721,640.1 722.6,640.1 720.5,643.7 722.2,643.7 720,647.5 721.4,647.5 719.5,650.7 721.1,650.7 719,654.4 720.4,654.4 718.5,657.7 719.9,657.7 718,661 719.6,661 717.5,664.7 719,664.7 717,668.1 718.6,668.1 716.5,671.7 718.3,671.7 716,675.6 717.6,675.6 715.5,679.2 716.9,679.2 715,682.5 716.3,682.5 714.5,685.5 716.2,685.5 714,689.3 715.4,689.3 713.5,692.5 714.5,692.5 713,695.1 714.6,695.1 712.5,698.8 713.7,698.8 712,701.7 713.3,701.7 711.5,704.7 712.9,704.7 711,708.1 712.3,708.1 710.5,711.1 711.6,711.1 710,713.9 711.1,713.9 709.5,716.6 710.6,716.6 709,719.4 710.5,719.4 708.5,722.7 709.5,722.7 708,725.4 708.8,725.4 707.5,727.7 708.9,727.7 707,730.9 707.7,730.9 706.5,732.9 707.6,732.9 706,735.6 707.3,735.6 705.5,738.6 706.2,738.6 705,740.6 706.2,740.6 704.5,743.6 705,743.6 704,745.3 705.2,745.3 703.5,748.2 704.1,748.2 703,750.1 703.9,750.1 702.5,752.5 703.2,752.5 702,754.7 702.8,754.7 701.5,756.9 702.2,756.9 701,759 702.2,759 700,763.4 700.9,763.4 699.5,765.9 700.2,765.9 699,767.9 699.9,767.9 698.5,770.3 699.2,770.3 698,772.4 698.9,772.4 697.5,774.7 698.4,774.7 696.5,778.8 697.5,778.8 696,781.3 696.8,781.3 695.5,783.5 696.1,783.5 695,785.4 695.5,785.4 694.5,787.2 695.5,787.2 694,789.7 694.8,789.7 693.5,791.9 694.2,791.9 692.5,795.4 693.5,795.4 692,798 692.7,798 691,801.4 692.1,801.4 690.5,804.2 691.1,804.2 690,806.1 690.6,806.1 689.5,807.9 690.2,807.9 689,810.1 689.7,810.1 688.5,812.2 689.2,812.2 688,814.3 688.9,814.3 687.5,816.8 688.4,816.8 687,819.2 687.5,819.2 686.5,820.9 687.4,820.9 686,823.4 686.9,823.4 685.5,825.8 686.7,825.8 685,828.6 685.5,828.6 684.5,830.4 685.6,830.4 684,833.3 685.1,833.3 683.5,836 684.4,836 683,838.4 683.6,838.4 682.5,840.2 683.6,840.2 682,842.9 682.9,842.9 681.5,845.4 682.3,845.4 681,847.6 681.9,847.6 680.5,849.9 681.2,849.9 680,852 680.7,852 679.5,854.2 680.3,854.2 679,856.4 679.8,856.4 678.5,858.7 678.9,858.7 677.5,861.7 678.4,861.7 676.5,864.9 677,864.9 676,866.7 676.3,866.7 675.5,868.1 675.9,868.1 674.5,871 675.3,871 673.5,874.4 673.8,874.4 672.5,877 672.9,877 671.5,879.6 671.9,879.6 670,883.3 670.5,883.3 667,891.4 667.6,891.4 666,894.3 666.6,894.3 665.5,896.3 665.8,896.3 665,897.7 665.4,897.7 664.5,899.3 664.9,899.3 664,900.9 664.8,900.9 663,904.3 663.5,904.3 662.5,906.1 663.1,906.1 662,907.9 662.6,907.9 661,911.3 661.7,911.3 660.5,913.4 660.9,913.4 659.5,916.5 660.1,916.5 658,921.2 658.8,921.2 657,924.6 657.5,924.6 656.5,926.5 656.8,926.5 655.5,929 655.9,929 655,930.6 655.3,930.6 653,935.4 653.4,935.4 651.5,939 650.5,941.4 650.8,941.4 637.5,967.3 637.9,967.3 634,974.1 634.4,974.1 632,978.3 632.3,978.3 630,982.2 627.2,988.4 621.2,997 621,996.7 618.6,1000.3 618,1000.5 617.2,1001.9 617,1001.6 616.5,1002.2 613.7,1006.3 613.5,1006 612.2,1007.5 612,1007.2 610.1,1009.8 610,1009.5 609.7,1010.1 609.5,1009.8 607.7,1012.5 607.5,1012.2 606.6,1013.5 606.5,1013.2 606.3,1013.6 606,1013.1 604.6,1015.3 604.3,1015.6 604,1015.1 603.1,1016.5 603,1016.3 602.7,1016.8 602.5,1016.4 602.2,1016.9 602,1016.5 600.1,1018.7 600,1018.5 599.7,1019 599.5,1018.7 599.2,1019.3 599,1019 598.2,1020.4 598,1020 597.2,1021.1 597,1020.8 596.3,1021.8 596,1021.2 595.2,1022.5 595,1022.1 594.7,1022.6 594.5,1022.4 593.2,1023.7 593,1023.4 592.7,1023.9 592.5,1023.6 591.1,1025.6 590.5,1025.1 589.7,1026.5 589,1026 587.3,1027.7 587,1027.1 586.3,1028.2 586,1027.8 584.7,1029.4 584.5,1029 583.8,1029.5 583.5,1029.1 582.3,1030.6 582,1030.1 581.2,1031.2 580.5,1030.7 579.7,1031.5 579.5,1031.1 578.2,1032.5 578,1032.3 577.8,1032.7 577.5,1032.3 576.7,1032.9 576.5,1032.5 575.7,1033.8 575.5,1033.5 575.3,1033.9 575,1033.4 574.2,1034.3 573.5,1033.8 572.6,1034.8 572.5,1034.6 572.3,1035 572,1034.5 571.2,1035.5 571,1035.1 570.3,1035.7 570,1035.2 568.8,1036.4 568.5,1035.9 567.8,1036.7 567.5,1036.2 566.8,1037.2 566.5,1036.7 565.7,1037.5 565.5,1037.2 564.7,1038.3 564.5,1037.9 563.8,1038.5 563.5,1038 562.7,1038.9 562.5,1038.5 562.3,1038.9 562,1038.5 561.8,1038.9 561.5,1038.4 559.8,1039.9 558.5,1037.7 557.3,1039.3 557,1038.8 556.2,1040.1 555.5,1039 553.1,1042.4 552,1040.5 551.4,1041.5 551,1040.8 549.9,1042.7 549,1041.2 547.1,1044.4 546,1042.4 544.3,1044.9 543.5,1043.6 540.8,1047.2 540,1045.8 539.2,1047.2 539,1046.9 538.6,1047.6 538,1046.6 537.7,1047.1 537,1045.9 536.8,1046.2 536,1044.9 535,1046.1 534.5,1045.3 532.8,1048.2 531.5,1046 530.5,1047.1 530,1046.1 529.3,1047.4 529,1046.9 528.1,1047.9 527.5,1046.9 526.5,1048.6 526,1047.7 525.1,1049.3 524.5,1048.3 524,1049.1 523.5,1048.2 523.3,1048.6 523,1048.1 522.5,1049.1 522,1048.3 520.9,1050.1 520.5,1049.4 519.7,1050.6 518.5,1048.5 517.2,1050.7 516,1048.8 515.4,1049.9 515,1049.2 513.8,1051.2 513.5,1050.7 513.2,1051.1 513,1050.7 512.7,1051.1 512.5,1050.7 511.8,1052 510.5,1049.7 510,1050.5 509.5,1049.6 508.9,1050.6 508.5,1049.9 508.2,1050.5 508,1050.2 506.2,1052.6 505.5,1051.4 504.6,1053 503.5,1051.1 503.2,1051.7 502.5,1050.5 501.8,1051.8 501.5,1051.3 500.7,1052.6 499.5,1050.5 498.8,1051.8 498,1050.4 496.6,1052.7 495.5,1050.8 494.3,1052.8 493,1051 492.3,1052.2 491.5,1051.1 490,1053.2 489,1051.5 487.8,1053.6 486.5,1051.4 486,1052.3 485.5,1051.5 483.7,1054.4 483.5,1054 483.3,1054.4 482.5,1053.2 482.1,1053.9 481.5,1053.2 480.9,1054.2 480,1052.7 479.3,1053.7 479,1053.1 478.7,1053.6 477.5,1051.8 476.1,1054.1 475.5,1053.3 475.3,1053.6 474.5,1052.2 474.3,1052.5 474,1052 473.7,1052.4 473.5,1052 473.3,1052.5 473,1052 472.3,1053.3 472,1052.8 470.9,1054.8 470,1053.3 469.5,1054.2 468.5,1052.5 467.1,1054.4 466.5,1053.4 465.7,1054.1 464.5,1052.6 463.8,1053.7 463.5,1053.1 462.9,1053.8 462.5,1053.1 461.8,1053.9 461.5,1053.3 460.6,1054.9 459,1052.4 458.7,1052.8 458.5,1052.4 457.2,1054.7 457,1054.4 456.7,1054.8 456.5,1054.4 455.9,1055.3 454.5,1052.9 453.6,1054.3 452.5,1052.4 452.3,1052.7 452,1052.2 451.4,1053.2 451,1052.5 450.7,1053 450.5,1052.7 449.6,1054.1 448.5,1052.7 447.9,1053.7 447.5,1053 446.1,1055 445,1053.1 444.4,1054.1 444,1053.4 443.3,1054.6 443,1054 442.7,1054.6 441.5,1052.5 440.3,1054.6 440,1054.1 439.7,1054.6 438.5,1052.5 438.2,1053 438,1052.6 436.9,1054.4 436,1053.5 435.3,1054.6 434,1052.7 433.3,1053.9 433,1053.4 431.9,1055.4 430.5,1053.2 430.2,1053.7 430,1053.4 429.8,1053.7 429,1052.3 428.3,1053.5 428,1053 427.7,1053.5 427.5,1053.1 427,1053.9 426,1052.1 425.1,1053.6 424.5,1052.6 423.5,1054.4 422,1051.9 420.9,1053.5 420,1052 419.4,1053 419,1052.3 417.7,1054.1 416,1051.9 415,1053.4 414,1051.6 413.3,1052.8 413,1052.4 412.7,1052.9 412.5,1052.5 411.2,1054.7 411,1054.3 410.4,1055 408,1051.6 406.7,1053.9 406,1053 405.2,1054 404,1051.9 403.8,1052.3 403.5,1051.8 402.9,1052.8 402,1051.3 400.8,1053.4 400,1052 398.9,1053.9 398.5,1053.3 397.6,1054.8 395.5,1052 394.7,1053.4 394.4,1053.4 393.5,1051.9 392.8,1052.5 392.5,1052 392,1052.8 391,1051 390.2,1052.1 390,1051.7 389.2,1053.1 388.5,1052.4 387.4,1054.1 387,1053.4 386.8,1053.7 386,1052.4 385.1,1053.8 384.5,1052.8 383.8,1053.9 382.5,1051.6 381.8,1052.7 381,1051.3 380,1053.1 379,1051.4 378.5,1052.3 378,1051.6 377.4,1052.6 377,1051.8 376.3,1053 376,1052.5 375.8,1052.8 374.5,1050.6 373.3,1052.6 372.5,1051.2 371.7,1052.5 371,1051.6 370.4,1052.4 369.5,1050.9 369.2,1051.4 369,1051 368.1,1052.6 367,1050.7 366.2,1052.2 366,1051.9 365.7,1052.4 365.5,1052 364.7,1053.4 363,1050.4 361.4,1053.2 360.5,1051.6 359.7,1053 359.5,1052.7 359.3,1053.1 359,1052.6 358,1054 357,1052.6 356.7,1053.1 355,1050.1 353.6,1052.6 352.5,1050.8 351.3,1052.8 351,1052.2 350.7,1052.8 349.5,1051.3 349.1,1052.1 348.5,1051.1 347.7,1052.2 347,1051 346.5,1051.9 345,1050 343.8,1052 343,1050.6 342.7,1051.2 342,1050.1 341.1,1051.6 340.5,1050.5 339.3,1052.6 338,1050.4 337.1,1051.9 336.5,1050.8 335.8,1051.6 335,1050.4 334.1,1051.6 333.5,1050.6 332.4,1052.2 330.5,1050.1 329.4,1051.6 328.5,1050.1 327.5,1051.9 327,1051.1 326.6,1051.8 326,1050.8 325.1,1051.8 324.5,1050.8 323.1,1053.1 323,1052.9 322.1,1054 319.5,1050 318.7,1051.4 318.5,1051.1 318.3,1051.5 318,1051.1 317.7,1051.6 317.5,1051.3 317,1052.1 316.5,1051.2 315.7,1051.7 315,1050.4 314.7,1050.9 314,1049.6 312.6,1052 311.5,1050.1 310.9,1051.1 310.5,1050.4 308.8,1052.9 306.5,1049.7 305.5,1051.3 305,1050.4 303.7,1052.7 302,1050 301.4,1051 300,1049.8 299.5,1050.6 299,1049.6 297.3,1052.6 297,1052 296.8,1052.4 295.5,1050.1 295,1051 294.5,1050.3 293.2,1052.3 292,1050.1 291.7,1050.6 291.5,1050.2 290.7,1051.5 290.5,1051.1 290.2,1051.7 289.5,1050.5 289,1051.4 288.5,1050.6 288.2,1051.1 287.5,1049.9 286.7,1051.3 286.4,1051.2 285.5,1049.7 284.3,1051.7 284,1051.2 283.2,1052.6 281.5,1050.2 280.7,1051.7 280,1050.6 279.6,1051.2 279,1050.2 278.4,1051.2 277.5,1049.6 276.8,1050.8 276,1049.4 274.3,1052.1 273.5,1050.6 273.3,1051 272.9,1050.7 272,1049.2 270.6,1051.6 270,1050.5 268.9,1052.4 268,1051.1 267.7,1051.7 266.5,1049.7 265.9,1050.7 265.5,1049.9 264.8,1051.1 264,1049.6 263.1,1051.2 262,1049.6 262,1063.9ZM836.9,650.4 836.7,650 837.1,650ZM816.5,666 816.5,666 816.5,666ZM1611.9,1087.4 1611.9,1087.3 1611.9,1087.3Z"/>
<path fill="#f0f" d="M287,1069.1 287.2,1068.7 288,1070 288.6,1068.9 289,1069.6 289.8,1068.2 291,1070.5 291.8,1069.1 292.5,1070.4 293.9,1068.6 294.5,1069.8 295.1,1068.6 296,1070.2 296.2,1069.9 296.5,1070.4 297.4,1068.8 298,1069.8 299.2,1067.8 299.5,1068.4 299.7,1068.1 300.5,1069.5 301,1068.6 301.5,1069.6 302.1,1068.5 302.5,1069.3 303.2,1068.1 303.5,1068.6 303.8,1068.1 304.5,1069.3 305.2,1068.7 305.5,1069.3 306.8,1067 309,1069.7 309.6,1068.7 311,1071.2 312.3,1068.9 313,1070.1 313.4,1069.4 314,1070.5 314.7,1069.1 315.5,1070.5 316.5,1068.8 318,1071.5 318.7,1070.7 319,1071.2 320.1,1069.2 321.5,1071.7 322.3,1070.3 323,1071.6 323.6,1070.5 324,1071.2 324.8,1069.8 325.5,1070.7 325.8,1070.1 327.5,1072.6 328.8,1070.6 329.5,1071.7 329.9,1070.9 330.5,1071.9 330.8,1071.5 331.5,1072.8 331.9,1072 332.5,1073 333.4,1071.4 334.5,1073.3 335.2,1072.1 335.5,1072.6 336.1,1071.5 336.5,1072.2 336.7,1071.8 337.5,1073.2 338.5,1071.6 339,1072.6 339.3,1072.1 340,1073.4 341.1,1071.4 342,1072.8 342.3,1072.2 343,1073.4 344.7,1070.5 346.5,1073.6 347.1,1072.5 348,1074.1 349.2,1072 349.5,1072.4 349.7,1072.1 351,1074.5 351.6,1073.4 352,1074.2 352.4,1073.4 353,1074.4 353.7,1073.2 354,1073.8 355.3,1071.4 356.5,1073.5 356.8,1073 357,1073.5 357.7,1072.3 359,1074.3 359.7,1073 360.5,1074.4 361.3,1072.9 362,1074 362.4,1073.3 363,1074.2 363.4,1073.5 364,1074.7 364.5,1073.8 365,1074.7 365.7,1073.5 366.5,1075 367.1,1073.9 367.5,1074.6 368.1,1073.6 368.5,1074.4 369.5,1072.7 370.5,1074.5 371.2,1073.1 372,1074.5 372.4,1073.9 373,1075 373.4,1074.3 374,1075.4 374.4,1074.7 375,1075.7 376,1073.8 377,1075.5 377.3,1075.1 377.5,1075.5 378.9,1073 379.5,1074.1 379.9,1073.4 380.5,1074.5 380.8,1074 381.5,1075.3 381.9,1074.7 382.5,1075.8 383.6,1073.8 384.5,1075.4 385,1074.5 386,1076.4 387.4,1074 388.5,1076 389.8,1073.8 391,1075.3 392.1,1073.3 393.5,1075.7 393.7,1075.2 394.5,1076.6 395.5,1074.8 396.5,1076.5 396.7,1076.1 397.5,1076.9 398.1,1075.9 398.5,1076.6 399,1075.6 399.5,1076.4 400.1,1075.3 400.5,1076.1 400.7,1075.6 401,1076.1 401.4,1075.4 402,1076.6 403.4,1074.2 405,1077.1 405.7,1075.9 406.5,1077.3 407.1,1076.4 407.5,1077 408.1,1076 409,1077.6 409.7,1076.3 410.5,1077.7 411.6,1075.8 412.5,1077.5 413.1,1076.5 414,1078.1 415.2,1076 416.5,1078.3 417.3,1076.9 418,1078.1 419.5,1076.1 420.5,1077.9 421.2,1076.7 421.5,1077.2 422.2,1076.1 423,1077.4 423.7,1076.1 424.5,1077.5 425.2,1076.4 426,1077.9 426.8,1076.5 428,1078.6 428.5,1077.8 429,1078.7 429.4,1077.9 430,1078.9 431.7,1075.8 432,1076.3 432.3,1075.9 432.5,1076.3 432.6,1076.1 433,1076.7 433.2,1076.3 433.5,1076.8 434,1075.8 435.5,1078.4 436.2,1077.1 436.5,1077.6 437,1076.7 437.5,1077.6 438.1,1076.5 439,1078.1 439.5,1077.2 440.5,1079 441.6,1077.2 442.5,1078.8 442.9,1078.2 443.5,1079.4 444.1,1078.2 444.5,1078.8 445.7,1076.7 447,1079.1 448.2,1077 449.5,1078.9 450.7,1076.9 452,1079 453.2,1076.8 453.5,1077.3 454.5,1076 456.5,1078.9 457.6,1077 458.5,1078.7 458.8,1078.2 459,1078.7 459.7,1077.8 460,1078.3 460.8,1076.9 461.5,1078 462,1077.1 463,1078.3 463.7,1077.1 464,1077.5 464.8,1076.1 466.5,1079 466.7,1078.6 467,1079.1 468.2,1077 469.5,1079.3 470.9,1076.8 472,1078.4 472.8,1077 474,1079.2 474.7,1077.9 475.5,1079.2 476.2,1077.9 476.5,1078.4 477.1,1077.3 478,1079 479.3,1076.9 480.5,1079 481.9,1076.6 483,1078.6 483.9,1077.1 484.5,1078.2 485.6,1076.3 487,1078.5 488.4,1076.7 489.5,1078.7 490,1077.7 490.5,1078.6 490.7,1078.2 491,1078.6 492.3,1076.2 493,1077.4 493.7,1076.1 495,1078.5 495.8,1077 496,1077.4 496.6,1076.6 497,1077.2 497.6,1076.3 499,1078.8 500.6,1076.8 501,1077.5 502.7,1075.2 503.5,1076.8 503.8,1076.3 504.1,1076.5 505,1078.2 505.2,1077.8 505.5,1078.2 506.8,1075.9 507.5,1077.1 507.9,1076.3 509,1078.2 509.6,1077.2 510,1077.9 510.9,1076.3 511.5,1077.4 512.1,1076.4 512.5,1077.2 514.2,1074.2 515,1075.7 516.1,1074 517,1075.5 517.5,1074.6 518.5,1076.4 518.9,1075.7 520,1077.7 521.2,1075.5 522,1076.9 522.8,1075.4 524,1077.5 524.7,1076.3 525.5,1077.7 527.2,1074.7 527.5,1075.2 528.1,1074.2 529.5,1076.2 530.2,1075.2 531,1076.6 531.2,1076.2 531.5,1076.7 532.2,1075.4 533,1076.3 533.8,1074.8 534.5,1076 534.8,1075.4 535.5,1076.6 536.7,1074.6 537,1075.2 538.3,1072.8 540.5,1076.3 541.8,1073.9 542.5,1075.1 543.4,1073.6 544,1074.7 545,1073 546.5,1075.3 548.2,1072.6 548.5,1073.1 549.2,1071.9 550,1073.4 550.8,1071.9 552,1074 552.9,1072.4 553.5,1073.6 554.9,1071.1 556,1072.8 557.5,1070.1 558,1071 558.5,1070 559,1070.9 560.3,1068.9 560.5,1069.2 560.7,1068.7 561,1069.2 561.3,1068.7 561.5,1069.2 562.2,1068 562.5,1068.5 563.2,1067.8 563.5,1068.3 563.8,1067.8 564,1068.2 564.7,1067.5 565,1068 565.8,1066.8 566,1067.2 566.8,1066.5 567.5,1067 567.8,1066.5 568,1066.9 568.7,1066.1 569,1066.5 569.8,1065.6 570,1066.1 570.7,1065 571,1065.5 571.4,1064.8 572,1065.4 572.8,1064.6 573,1065 574.8,1063.3 575,1063.7 575.2,1063.2 575.5,1063.7 575.8,1063.2 576,1063.5 576.3,1062.9 576.5,1063.3 577.3,1062 578,1062.5 578.7,1061.3 579,1061.8 579.7,1061 580,1061.5 580.7,1060.2 581,1060.7 582.8,1058.7 583,1059.1 584.4,1057.7 584.5,1057.9 585.8,1056.2 586,1056.5 586.8,1055.1 587,1055.5 587.8,1054.1 588,1054.4 588.5,1053.9 589.4,1052.5 589.5,1052.8 589.8,1052.3 590,1052.7 592.4,1050 592.5,1050.2 593.3,1049.2 593.5,1049.6 594.2,1048.3 594.5,1048.8 595.3,1047.3 595.5,1047.6 595.7,1047.2 596,1047.7 596.9,1046.2 597,1046.4 597.7,1045.5 598,1046 598.8,1044.5 599,1044.8 600.3,1043.4 600.5,1043.7 601.2,1042.7 601.5,1043.2 603.2,1040.9 603.5,1041.4 604.8,1039.5 605,1039.8 605.8,1038.3 606,1038.6 606.3,1038.2 606.5,1038.6 607.3,1037.4 607.5,1037.8 608.3,1036.6 608.5,1036.9 609,1036.4 609.8,1035 610,1035.4 611.9,1032.8 612,1033.1 612.3,1032.6 612.5,1033 615.7,1028.9 616,1029.4 617.4,1026.9 617.7,1026.6 618,1027.1 618.5,1026.5 622.4,1020.5 622.5,1020.7 626.9,1013.3 627,1013.5 629.8,1009.2 630,1009.6 635,1002.9 641.8,990.9 645.8,981.6 645.4,981.6 646.8,979.2 646.4,979.2 647.3,977.7 647,977.7 648.8,973.6 648.2,973.6 651.3,966.8 650.7,966.8 652.8,962.6 652.4,962.6 653.3,961 652.9,961 654.3,958.3 653.8,958.3 655.3,955.3 655,955.3 655.8,953.9 655.3,953.9 656.3,952.1 656,952.1 657.3,949.8 656.7,949.8 658.3,946.9 657.7,946.9 659.3,944 658.9,944 659.8,942.3 659.4,942.3 660.8,939.4 660.1,939.4 661.8,936.1 661.5,936.1 662.3,934.7 661.9,934.7 662.8,933.2 662.2,933.2 663.3,931.3 662.8,931.3 664.8,927.1 664.1,927.1 665.8,923.9 665.1,923.9 667.3,919.3 666.5,919.3 668.3,915.8 668,915.8 668.8,914.3 668.4,914.3 669.8,911.2 669,911.2 670.8,907.8 670.3,907.8 671.3,906.1 670.8,906.1 671.8,904.3 671.2,904.3 672.8,901.2 672.1,901.2 673.8,897.5 673.1,897.5 674.3,895.5 673.8,895.5 675.3,892.1 674.3,892.1 676.3,887.9 675.3,887.9 677.3,883.8 676.5,883.8 677.8,881.5 677,881.5 678.3,879.2 677.9,879.2 678.8,877.7 678.3,877.7 679.8,874.2 679.2,874.2 680.8,870.8 680.2,870.8 681.8,867.7 681.4,867.7 682.3,866.2 681.8,866.2 682.8,864.5 682.4,864.5 683.8,861.9 683.2,861.9 684.8,858.9 684.1,858.9 685.3,856.8 685.8,855.4 685.4,855.4 686.8,852.6 686.2,852.6 687.8,849.3 687.1,849.3 688.3,847.2 687.8,847.2 689.3,843.7 688.8,843.7 689.8,841.9 689.4,841.9 690.3,840.4 689.8,840.4 691.3,837 690.5,837 691.8,834.7 691.2,834.7 692.8,831.5 692.3,831.5 693.3,829.7 692.6,829.7 693.8,827.5 693,827.5 694.3,825.2 693.9,825.2 694.8,823.7 694.1,823.7 695.3,821.6 694.8,821.6 695.8,819.8 695.3,819.8 696.3,818 695.6,818 697.3,814.3 696.8,814.3 697.8,812.5 697.1,812.5 698.3,810.4 697.7,810.4 698.8,808.4 698.5,808.4 699.3,807 698.8,807 700.3,803.6 699.6,803.6 700.8,801.5 700.1,801.5 701.3,799.4 700.8,799.4 701.8,797.5 701.2,797.5 702.3,795.5 701.8,795.5 703.3,792.5 702.4,792.5 703.8,790.1 703.5,790.1 704.3,788.6 703.6,788.6 704.8,786.5 704.5,786.5 705.3,785 704.8,785 705.8,783.2 705.1,783.2 706.8,779.4 705.9,779.4 707.3,777 706.7,777 707.8,775.1 707.2,775.1 708.8,771.3 708.1,771.3 709.8,767.7 709.2,767.7 710.3,765.8 709.6,765.8 710.8,763.7 709.9,763.7 711.3,761.3 710.7,761.3 711.8,759.3 711.2,759.3 712.3,757.5 711.4,757.5 712.8,755 712.2,755 713.8,751.2 713,751.2 714.3,748.9 713.5,748.9 714.8,746.7 714,746.7 715.8,742.7 714.8,742.7 716.3,740.1 715.6,740.1 716.8,737.9 716.1,737.9 717.3,735.7 716.3,735.7 717.8,733.1 717.3,733.1 718.3,731.4 717.2,731.4 718.8,728.5 718.1,728.5 719.3,726.5 718.4,726.5 719.8,723.9 718.7,723.9 720.3,721 719.3,721 720.8,718.3 720,718.3 721.3,716 720.4,716 721.8,713.5 720.4,713.5 722.3,710.2 721.5,710.2 722.8,707.9 721.4,707.9 723.3,704.5 722.2,704.5 723.8,701.7 722.5,701.7 724.3,698.6 723.1,698.6 724.8,695.6 723.8,695.6 725.3,693 724.2,693 725.8,690.1 724.3,690.1 726.3,686.6 725.5,686.6 726.8,684.3 725.5,684.3 727.3,681.2 726.2,681.2 727.8,678.3 726.7,678.3 728.3,675.5 727,675.5 728.8,672.3 728.1,672.3 729.3,670.2 728.2,670.2 729.8,667.3 728.4,667.3 730.3,663.9 729.3,663.9 730.8,661.2 729.7,661.2 731.3,658.3 730.3,658.3 731.8,655.7 730.7,655.7 732.3,652.8 731.4,652.8 732.8,650.4 731.5,650.4 733.3,647.2 732.3,647.2 733.8,644.5 732.6,644.5 734.3,641.5 732.8,641.5 734.8,637.9 733.8,637.9 735.3,635.3 733.9,635.3 735.8,631.9 734.2,631.9 736.3,628.1 735,628.1 736.8,625 735.4,625 737.3,621.6 735.6,621.6 737.8,617.6 736.7,617.6 738.3,614.7 736.9,614.7 738.8,611.3 737.5,611.3 739.3,608.1 737.6,608.1 739.8,604.2 738.8,604.2 740.3,601.5 739.2,601.5 740.8,598.7 739.9,598.7 741.3,596.2 740.8,596.2 741.8,594.4 741.1,594.4 742.3,592.2 741.8,592.2 743.3,588.5 742.6,588.5 743.8,586.4 743.5,586.4 744.3,585.1 743.9,585.1 745.3,582 744.5,582 746.8,577.6 746.5,577.6 747.3,576.2 746.9,576.2 748.8,572.5 749.3,571.2 749,571.2 750.3,569 750,569 752.3,564.7 752,564.7 755.8,556.1 755.3,556.1 757.4,552.3 757.8,552 758,552.3 758.9,550.7 759.2,550.6 759.5,551.1 760.3,550.2 760.5,550.5 761.2,549.9 762,550.6 762.4,550 763,550.6 763.2,550.2 764,551.2 764.2,550.8 765.5,552.1 765.6,551.8 766.5,553.1 766.7,552.7 768.5,554.8 768.7,554.4 771,557.7 776,568.7 775.7,568.7 776.5,570.2 776.2,570.2 777.6,572.8 777.2,572.8 779.6,578.6 779.2,578.6 780.1,580.1 779.7,580.1 780.5,581.5 780.2,581.5 781.4,583.6 780.7,583.6 782.6,587.4 781.7,587.4 783.5,591.4 782.7,591.4 783.9,593.5 783.2,593.5 784.5,595.9 783.7,595.9 785.4,598.9 784.2,598.9 786,602.1 784.7,602.1 786.2,604.8 785.2,604.8 786.9,607.9 785.7,607.9 787.4,611 786.2,611 787.6,613.6 786.7,613.6 788.4,616.6 787.2,616.6 789,619.8 787.7,619.8 788.9,622 788.2,622 789.8,624.9 788.7,624.9 790.6,628.2 789.2,628.2 790.8,631 789.7,631 791,633.3 790.2,633.3 791.6,635.8 790.7,635.8 792.5,639.1 791.2,639.1 792.8,641.9 791.7,641.9 793,644.1 792.2,644.1 793.8,646.9 792.7,646.9 793.9,649 793.2,649 794.8,651.8 793.7,651.8 794.7,653.5 794.2,653.5 795.9,656.5 794.7,656.5 796.4,660.4 795.7,660.4 796.9,662.4 796.2,662.4 797.7,666 797.2,666 798.2,667.8 797.7,667.8 798.9,669.8 798.2,669.8 799.3,671.9 798.7,671.9 799.6,673.5 799.2,673.5 800.8,676.5 800.2,676.5 802.1,680.6 801.7,680.6 803,683.4 802.7,683.4 804.2,686.2 803.7,686.2 805.1,689.2 804.7,689.2 806,691.7 805.7,691.7 814,706.4 814.5,707 814.7,706.6 815,707.1 815.3,706.6 815.5,707.1 816.2,706.3 816.5,706.7 817.4,705.4 817.5,705.6 824.8,692.7 826.8,688.7 826.4,688.7 828.3,685.3 828,685.3 829.1,682.8 831.4,678.6 831.5,678.8 831.8,678.2 832,678.5 832.3,678 832.5,678.3 832.8,677.8 833,678.2 833.8,677 834,677.3 834.2,676.9 834.5,677.4 835.2,676.2 835.5,676.8 836.2,676.2 836.5,676.8 837.2,675.9 838,677.2 838.3,676.7 839.2,678.3 838.7,678.3 840,680.6 839.7,680.6 841,683.3 840.7,683.3 842,685.6 841.2,685.6 842.3,687.5 841.7,687.5 843.4,690.8 842.7,690.8 844.3,694.4 843.7,694.4 844.7,696.2 844.2,696.2 845.3,698.2 844.7,698.2 846.2,701.7 845.7,701.7 847.5,705.5 846.7,705.5 847.8,707.5 847.2,707.5 848.7,710.8 848.2,710.8 849.2,712.6 848.7,712.6 850.1,715.1 849.2,715.1 850.4,717.2 849.7,717.2 850.5,718.5 850.2,718.5 851.5,720.8 850.7,720.8 851.8,722.7 851.2,722.7 852.4,725 851.7,725 852.8,726.8 852.2,726.8 853.3,728.8 852.7,728.8 854.1,731.4 853.2,731.4 854.9,735.1 854.2,735.1 855.6,737.5 854.7,737.5 856,739.8 855.2,739.8 856.4,742 855.7,742 856.8,744 856.2,744 857.4,746.1 856.7,746.1 858.1,748.7 857.2,748.7 858.6,751.1 857.7,751.1 859,753.4 858.2,753.4 859.6,755.8 858.7,755.8 859.9,757.9 859.2,757.9 860.6,760.4 859.7,760.4 861,762.8 860.2,762.8 861.5,765.1 860.7,765.1 862.1,767.5 861.2,767.5 862.4,769.7 861.7,769.7 863.2,772.4 862.2,772.4 863.5,774.6 862.7,774.6 864,776.9 863.2,776.9 864.2,778.8 863.7,778.8 865.3,782.4 864.7,782.4 866.7,787.2 866.2,787.2 868.1,790.7 867.7,790.7 870.2,795.5 869.7,795.5 871.2,798.5 870.7,798.5 871.8,800.4 871.2,800.4 872.4,802.5 871.7,802.5 872.5,804 872.2,804 873.8,806.8 872.7,806.8 874.8,811 873.7,811 874.7,812.8 874.2,812.8 875.4,815 874.7,815 876.3,817.9 875.2,817.9 876.3,819.8 875.7,819.8 877.2,822.4 876.2,822.4 877.2,824.2 876.7,824.2 877.8,826.2 877.2,826.2 878.4,828.4 877.7,828.4 879.1,830.8 878.2,830.8 879.7,833.4 878.7,833.4 879.8,835.4 879.2,835.4 880.6,837.9 879.7,837.9 880.9,839.9 880.2,839.9 881.7,842.6 880.7,842.6 881.9,844.7 881.2,844.7 882.3,846.8 881.7,846.8 882.8,848.8 882.2,848.8 883.1,850.5 882.7,850.5 892.5,868.2 892.7,867.8 894,870 894.2,869.6 895.5,871.7 895.6,871.4 896.6,872.3 899.3,875.9 901,879.9 900.7,879.9 901.5,881.2 901.2,881.2 903.6,886 903.2,886 907.1,894.8 906.7,894.8 908.6,898.2 908.2,898.2 916.5,913.3 916.6,913.1 921,919.9 921.2,919.5 923,922.5 923.2,922.1 925,925.1 925.6,925.4 926.5,926.9 926.7,926.6 928,928.7 928.2,928.3 928.5,928.8 928.6,928.5 930,930.8 930.1,930.6 930.5,931.2 930.7,930.9 932,933.1 932.5,933.6 932.7,933.3 933,933.8 933.1,933.6 934,935 934.2,934.6 936,937.1 936.2,936.7 936.5,937.2 936.7,936.9 938.5,939.3 938.7,938.9 941,941.4 941.2,941 943,943.5 943.1,943.2 943.5,943.9 943.8,943.3 945.5,945 945.6,944.8 946,945.4 946.2,945 947,946.1 947.1,945.9 948,947.4 948.2,947.1 948.5,947.6 948.6,947.3 951,951.5 951.2,951.1 951.5,951.6 952.4,949.9 955,953.6 955.5,952.8 957,955.5 958.2,954 959,955.4 959.4,954.7 960,955.7 960.5,954.8 962,957.4 963.1,955.7 964,957.3 964.2,957 965,958.5 965.3,957.9 967,960.5 967.5,959.5 968,960.4 969.7,957.8 973,963.8 973.3,963.2 974,964.5 975.1,962.6 977.5,966.5 978.8,964.8 979.5,966 979.7,965.8 980,966.4 980.3,965.9 981.5,968.1 982.2,966.9 983.5,968.7 984.4,967.1 986,969.9 986.4,969.2 987.5,971.1 987.8,970.7 988,971.1 988.6,970 990.5,973.3 991.8,970.9 994.5,974.4 994.9,973.6 996,975.2 996.4,974.5 997.5,976.5 998.2,975.2 1001,979.4 1001.7,978.1 1003,979.9 1003.6,978.8 1005.5,982 1006.3,980.6 1007,981.7 1007.5,980.9 1009,983.6 1009.3,983.1 1010,984.3 1010.6,983.2 1012,985.2 1012.9,983.7 1014,985.7 1014.3,985 1015,986.2 1015.6,985.1 1016,985.8 1016.2,985.4 1017,986.8 1017.6,985.7 1018,986.3 1018.5,985.4 1019,986.2 1019.7,985 1021,987.3 1021.9,985.8 1022.5,986.9 1023.4,985.3 1024,986.4 1024.2,985.9 1024.5,986.4 1024.8,985.9 1026,988.2 1026.7,987.4 1027.5,988.8 1028,987.9 1028.5,988.7 1028.8,988.2 1029.5,989.4 1031.1,986.6 1032.5,989 1033.3,988.1 1034.5,990.3 1035.4,988.6 1036,989.6 1036.7,988.7 1038,991 1038.9,989.4 1040,991.4 1041.2,989.3 1042,990.7 1042.5,989.8 1043.5,991.2 1044.8,988.9 1046,991.1 1047.2,989 1049,992.3 1049.7,991.1 1050.5,992.3 1051,991.4 1051.5,992.3 1053.5,989.4 1054.5,991.3 1054.8,990.7 1056,992.7 1057.8,989.9 1059,991.7 1059.7,990.4 1060,991 1061.1,989.1 1062,990.7 1062.6,989.7 1063,990.4 1063.2,990 1063.5,990.5 1064.1,989.4 1065.5,991.6 1066.5,989.8 1067,990.7 1067.7,990 1068,990.5 1069.1,988.6 1069.5,989.3 1070.2,988 1071.5,990.3 1072.8,988 1073.5,989.2 1074,988.2 1074.5,989 1074.7,988.6 1075,989.1 1075.3,988.6 1075.5,989.1 1077.2,986.9 1077.5,987.3 1078.2,986.5 1079,988 1079.4,987.3 1080,988.4 1081.2,986.3 1082,987.8 1082.6,987.1 1083.5,988.6 1083.7,988.2 1084,988.8 1084.6,987.7 1085.5,989.3 1086,988.3 1086.5,989.1 1087.1,988.1 1088,989.8 1089.1,987.9 1091.5,991.7 1092.7,989.5 1093,990 1093.5,989.1 1097,994.6 1097.2,994.3 1097.5,994.9 1098.8,993 1101,996.8 1102.3,995.2 1103,996.4 1103.4,995.8 1104,996.8 1104.7,995.8 1107.5,1000.6 1108,999.8 1108.5,1000.7 1109.4,999.2 1111,1002.1 1111.6,1001.1 1112.5,1002.7 1112.7,1002.4 1113,1002.9 1114.3,1001.2 1117.5,1006.2 1118.4,1004.7 1120.5,1008.4 1121.9,1006.3 1124.5,1010.6 1125.2,1009.4 1126.5,1011.7 1127.1,1010.6 1128.5,1013.1 1129.2,1011.9 1132,1016.2 1133.1,1014.3 1133.5,1014.9 1133.7,1014.5 1135.5,1017.6 1135.9,1016.9 1137,1018.9 1138.2,1017.3 1138.5,1017.9 1138.9,1017.1 1141,1020.2 1141.6,1019.1 1143,1021.5 1143.8,1020 1145.5,1023 1146.2,1021.8 1147,1023.2 1147.4,1022.4 1148.5,1024.4 1148.8,1023.8 1149.5,1025 1151.6,1022 1152.5,1023.4 1152.7,1023 1153,1023.6 1153.3,1023.2 1153.5,1023.6 1153.8,1023.1 1155,1025.2 1155.7,1024.6 1158.5,1029.6 1158.8,1029 1159.5,1030.1 1160.5,1028.3 1161,1029.2 1161.3,1028.6 1163.5,1032.5 1164,1031.6 1166.5,1035.2 1167.1,1034.2 1167.5,1034.9 1168.2,1033.7 1169,1035.2 1169.3,1034.7 1169.6,1034.8 1170.5,1036.5 1170.7,1036.1 1171.5,1037.4 1171.9,1036.8 1172.5,1037.9 1173.6,1036.7 1174.5,1038.3 1174.7,1037.9 1175,1038.4 1176.2,1036.3 1178.5,1040.4 1180.1,1037.5 1181,1039.1 1181.3,1038.6 1183,1041.6 1183.7,1040.4 1185,1042.6 1185.7,1041.4 1186.5,1042.8 1187.5,1041.1 1188.5,1042.9 1189.2,1041.9 1191.5,1045.5 1192.2,1044.2 1192.5,1044.8 1193.1,1043.6 1195,1047 1195.3,1046.5 1195.5,1046.9 1196.3,1045.5 1197,1046.7 1197.5,1045.9 1198.5,1047.7 1199.2,1046.4 1200,1047.7 1200.5,1046.8 1202,1049.3 1202.3,1048.9 1202.5,1049.3 1203,1048.5 1204,1050.3 1204.2,1050 1204.5,1050.5 1205.4,1048.9 1206,1049.8 1206.6,1048.7 1209.5,1053.4 1209.7,1053 1210,1053.5 1210.3,1053 1210.5,1053.3 1211,1052.4 1211.5,1053.2 1211.8,1052.7 1215,1058.4 1216.3,1056.3 1218.5,1059.7 1218.8,1059.2 1219,1059.6 1219.6,1058.4 1221,1060.6 1221.3,1059.9 1222,1061.1 1223.4,1059.4 1225,1062.4 1226.1,1060.4 1227,1061.9 1227.8,1061 1229,1063.1 1229.6,1062 1230,1062.7 1230.4,1061.9 1231.5,1063.8 1232.1,1062.7 1233,1064.2 1234.2,1062.1 1235,1063.5 1235.2,1063.1 1235.5,1063.6 1236.2,1062.4 1237.5,1064.5 1239,1061.8 1242,1066.5 1242.3,1065.9 1243.5,1067.4 1244.8,1065.2 1246.5,1068.2 1247.3,1067.5 1247.5,1067.9 1247.9,1067.2 1248.5,1068.2 1248.9,1067.5 1251.5,1071.4 1252.1,1070.3 1252.5,1071 1253.1,1070.3 1254,1072 1254.4,1071.3 1255,1072.4 1256.2,1070.3 1258,1073.6 1258.6,1072.5 1259,1073.1 1259.2,1072.7 1259.5,1073.2 1259.7,1072.8 1260.5,1074.2 1261.4,1072.6 1261.7,1072.4 1262,1073 1262.3,1072.4 1263,1073.2 1263.3,1072.8 1265,1075.4 1266.9,1072.4 1269,1075.9 1269.3,1075.5 1269.5,1075.8 1270.1,1074.8 1270.5,1075.5 1271.3,1074.4 1272,1075.6 1272.5,1074.7 1273.5,1076.4 1274.4,1074.8 1275,1075.9 1275.3,1075.4 1277,1078.4 1277.8,1077 1278.5,1078.1 1278.8,1077.7 1279.5,1079 1279.9,1078.3 1280.5,1079.3 1281.1,1078.2 1282,1079.9 1283.3,1077.6 1283.5,1078 1284.2,1076.8 1286.5,1080.8 1287.1,1079.7 1287.5,1080.3 1288.3,1078.9 1289.5,1081.1 1290.2,1079.9 1291.5,1082.2 1292.7,1080.1 1293,1080.7 1293.3,1080.2 1293.6,1080.4 1294,1081.1 1294.4,1080.4 1295.5,1082.3 1296.1,1081.2 1297,1082.8 1297.8,1081.4 1299,1083.5 1299.5,1082.8 1300.5,1084.4 1302.4,1081 1304,1083.7 1304.3,1083.2 1305,1084.5 1305.6,1083.4 1306.5,1085 1307.4,1083.3 1309.5,1086.5 1310.8,1084.1 1312.5,1086.7 1312.8,1086.1 1313.5,1087.3 1314.8,1085.1 1316.5,1087.6 1316.7,1087.2 1317.5,1088.5 1317.8,1087.9 1318.5,1089.1 1319.5,1087.4 1320.5,1089.3 1321.6,1087.3 1322.5,1088.8 1323.1,1087.7 1323.5,1088.3 1324.4,1087.1 1326.5,1090.9 1327.4,1090.1 1328,1091.2 1328.2,1090.8 1329,1091.6 1330.6,1088.8 1331.5,1090.4 1332.1,1089.3 1334,1092.6 1335.7,1089.7 1337,1092.1 1337.9,1090.5 1340,1093.7 1340.2,1093.3 1340.5,1093.8 1341.3,1092.3 1341.5,1092.6 1341.8,1092.1 1342,1092.5 1343,1090.7 1343.5,1091.6 1343.8,1091.1 1346,1094.5 1346.9,1093 1347.5,1094.1 1347.8,1093.6 1348.5,1094.9 1349.4,1093.2 1350,1094.2 1351,1092.4 1352.5,1094.1 1353.2,1092.8 1354,1094.3 1354.7,1093 1356,1095.2 1356.4,1094.5 1357,1095.5 1357.7,1094.2 1359,1096.1 1360,1094.4 1361,1096.2 1361.2,1095.8 1361.5,1096.3 1362.8,1094.5 1363.5,1095.8 1363.9,1095.1 1365,1097.2 1365.2,1096.8 1365.5,1097.2 1366.6,1095.3 1367,1096 1367.5,1095 1368,1095.8 1368.2,1095.4 1369.5,1097.6 1370.4,1096.1 1371,1097.2 1372,1095.4 1373,1097.2 1374.5,1094.5 1376,1097.1 1376.3,1096.5 1377.5,1098.6 1379.3,1095.4 1381,1098.5 1381.2,1098 1381.5,1098.5 1382.1,1097.4 1383,1098.9 1384.1,1096.9 1384.5,1097.7 1384.8,1097.1 1385.5,1098 1386.1,1096.9 1386.5,1097.7 1386.9,1097 1388,1098.9 1388.9,1097.3 1389.5,1098.4 1389.8,1097.8 1390.5,1099 1391.9,1097 1393,1098.6 1393.3,1098.1 1394,1099.3 1395,1098.2 1396,1100 1396.5,1099.1 1397,1100 1397.8,1098.9 1398.5,1100.2 1399.1,1099.1 1400,1100.6 1401,1098.9 1401.5,1099.8 1402.5,1098 1404,1100.7 1404.6,1099.7 1405.5,1101.3 1406.2,1100.2 1406.5,1100.8 1407.7,1098.7 1408,1099.2 1408.5,1098.3 1409.5,1100 1410.5,1098.4 1412,1100.6 1412.4,1099.8 1413,1100.8 1414.5,1098.9 1415,1099.8 1415.3,1099.2 1416,1100.5 1417,1098.8 1418.5,1101.4 1419.4,1099.7 1421,1102.5 1422.7,1099.9 1423,1100.4 1423.7,1099.2 1426,1103.4 1426.7,1102.1 1427.5,1103.6 1428.4,1102 1429,1103.1 1429.8,1101.6 1431,1103.7 1432.3,1102.7 1433,1104 1433.6,1102.9 1434.5,1104.4 1435.5,1102.6 1436,1103.6 1436.8,1102.1 1438.5,1105 1439.7,1102.9 1440.5,1104.4 1440.8,1103.9 1441.5,1105 1442.7,1102.9 1443.5,1104.4 1444.5,1102.7 1445.5,1104.5 1445.9,1103.7 1446.5,1104.8 1447.1,1103.7 1447.5,1104.5 1449,1102.5 1449.5,1103.2 1450.3,1101.7 1451.5,1103.8 1452.9,1101.3 1453.5,1102.3 1453.8,1101.9 1454.5,1102.5 1454.7,1102.1 1456,1104.3 1456.7,1103.1 1457,1103.6 1457.3,1103 1457.5,1103.3 1458.6,1101.7 1459.5,1103.3 1460.3,1101.8 1460.5,1102.1 1460.7,1101.7 1462,1103.7 1463.3,1102.2 1465,1105.1 1465.2,1104.8 1465.5,1105.4 1466.4,1104.2 1467,1105.4 1469.2,1101.7 1471,1104.1 1471.5,1103.3 1472,1104.2 1472.6,1103.5 1474,1105.3 1475.2,1103.8 1475.5,1104.3 1476.2,1103 1477,1103.7 1477.4,1103 1478.5,1104.9 1478.8,1104.4 1479,1104.8 1479.2,1104.4 1479.5,1104.9 1481,1102.8 1482,1104.7 1482.3,1104.2 1483,1105.4 1485.1,1102.7 1486,1104.4 1486.9,1103.3 1487.5,1104.4 1488.3,1103 1489.5,1105.2 1490.1,1104.1 1491,1105 1491.5,1104.1 1492.5,1105.8 1493.8,1103.5 1494.5,1104.7 1495.5,1103 1497,1105.7 1497.4,1104.9 1498,1105.8 1498.8,1104.4 1499.5,1105.6 1500.4,1104 1501,1105.1 1501.5,1104.2 1502.5,1105.9 1504.4,1103.8 1506,1105.8 1506.4,1105.1 1507,1106 1507.9,1104.3 1509,1106.2 1510.7,1103.4 1512,1105.6 1512.4,1105 1513,1106.1 1513.3,1105.6 1513.5,1105.9 1514.7,1103.9 1516,1106.3 1517.3,1103.9 1518.5,1106 1519.1,1104.9 1520,1106.4 1520.7,1105.1 1521.5,1106.5 1523,1103.8 1524.5,1106.1 1525.1,1105 1525.5,1105.6 1526.3,1104.2 1526.5,1104.5 1526.8,1104.1 1527.5,1105.4 1527.9,1104.7 1529,1106.8 1530.7,1104.5 1531,1105.1 1531.7,1103.8 1532,1104.4 1532.4,1103.7 1534,1106.5 1535.2,1104.4 1536,1105.8 1536.5,1104.9 1537,1105.7 1537.5,1104.9 1538,1105.9 1538.6,1104.9 1539.5,1106.6 1541.4,1103.2 1542,1104.3 1542.3,1103.8 1542.6,1104 1544,1106.5 1544.7,1105.8 1545,1106.3 1545.3,1105.8 1545.5,1106.2 1546.6,1104.2 1548,1106.7 1549.5,1104.3 1550.5,1106 1550.8,1105.5 1551.5,1106.8 1552,1105.8 1552.5,1106.7 1554.2,1103.6 1555,1105.1 1555.6,1104.1 1557,1106.6 1558.5,1104.4 1559.5,1106.2 1560.8,1103.9 1562,1106.1 1564.2,1102.5 1565.5,1104.6 1565.9,1104 1567,1106 1567.8,1104.6 1568.5,1105.9 1568.8,1105.3 1569.5,1106.5 1569.7,1106.1 1570,1106.6 1571.2,1104.4 1572.5,1106.7 1573.2,1105.4 1574,1106.8 1576.3,1103.3 1578.5,1106.6 1579.5,1104.8 1580.5,1106.5 1581,1105.6 1581.5,1106.5 1583,1103.9 1584.5,1106.6 1585.9,1104.7 1587,1106.7 1587.8,1105.4 1588.5,1106.7 1589.4,1105.2 1590,1106.3 1590.3,1105.8 1590.5,1106.3 1592.2,1103.9 1593,1105.4 1593.8,1104.1 1594.5,1105.4 1594.9,1104.7 1596,1106.7 1597.6,1104.5 1598,1105.3 1599,1103.6 1600,1105.4 1600.8,1103.9 1602,1106 1602.8,1104.7 1603.5,1106 1604.2,1104.7 1605,1106 1606.6,1103.8 1607,1104.6 1607.5,1103.6 1608,1104.5 1608.6,1103.5 1609.5,1105.1 1610.1,1104.1 1611,1105.3 1611.6,1104.2 1612.5,1105.8 1613.8,1103.5 1615.5,1106.5 1617.7,1102.6 1618,1103.1 1618.4,1102.4 1619.5,1104.4 1620.4,1103 1621.5,1104.9 1622.2,1103.7 1623,1105.2 1623.7,1104.3 1625,1106.7 1625.9,1105 1626.5,1106 1627.5,1104.2 1628.5,1106 1628.8,1105.4 1629.5,1106.5 1630.6,1104.8 1631.5,1106.4 1632.8,1104.1 1634,1106.2 1635.7,1103.2 1637.5,1105.9 1638,1105.1 1638.5,1106 1640.6,1102.6 1642,1105.1 1642.4,1104.4 1643.5,1106.4 1643.8,1105.8 1644,1106.2 1646,1103 1647.5,1104.9 1649.2,1102.7 1650.5,1105.1 1652.1,1102.8 1653.5,1104.8 1654.4,1103.1 1655.5,1105 1656.4,1103.5 1658,1105.7 1658.7,1104.5 1659.5,1106 1659.8,1105.5 1659.8,1090.8 1655.1,1090.3 1655.3,1089.9 1642.7,1089.9 1639.7,1090.2 1639.8,1090.4 1629.2,1090.6 1607.7,1090.5 1608.1,1091.2 1605.6,1091.2 1605.8,1090.9 1604.8,1090.8 1589.8,1090.7 1552.2,1090.6 1552.4,1090.9 1543.6,1091 1543.8,1090.6 1531.3,1090.5 1504.4,1090.7 1504.8,1089.9 1502.1,1089.9 1502.3,1089.6 1478.7,1089.5 1479,1090 1477.4,1090 1477.8,1089.2 1436.3,1089.1 1436.8,1088.1 1433,1088.1 1433.3,1087.7 1431.2,1087.7 1430.6,1087.5 1430.8,1087.2 1423.4,1087.1 1423.8,1086.4 1414.6,1086.4 1414.8,1086.1 1413.2,1086.1 1413.3,1085.9 1405.6,1085.9 1405.8,1085.5 1405,1085.5 1405.3,1084.9 1395.9,1084.5 1396.3,1083.7 1386.1,1083.5 1386.3,1083.2 1385.6,1083.2 1385.8,1082.8 1381.6,1082.8 1381.8,1082.4 1381.1,1082.4 1381.3,1082.1 1372,1082.1 1372.3,1081.5 1366.4,1081.5 1366.8,1080.9 1359.1,1080.7 1359.3,1080.4 1356.5,1080.1 1356.8,1079.6 1352.4,1079.6 1352.8,1078.9 1350.4,1078.9 1350.8,1078.2 1338.3,1077.5 1338.8,1076.6 1338,1076.6 1338.3,1076.1 1330.1,1076.1 1330.8,1074.9 1322.7,1074.4 1323.3,1073.4 1320.8,1073.4 1321.3,1072.6 1314.3,1072.5 1315.3,1070.7 1310.1,1070.7 1310.8,1069.5 1304.6,1069.5 1304.8,1069 1302.3,1069 1302.8,1068.2 1298.4,1067.9 1298.8,1067.2 1296.6,1067.2 1296.8,1066.8 1296.1,1066.8 1296.3,1066.5 1294.7,1066.5 1295.3,1065.5 1290.9,1065.5 1291.3,1064.8 1288.9,1064.6 1289.3,1063.9 1282,1063.7 1282.3,1063.1 1281.3,1063.1 1281.8,1062.2 1274.1,1062.2 1274.8,1061.1 1273.1,1061.1 1273.8,1059.9 1271.5,1059.9 1271.8,1059.4 1266.6,1059.4 1267.3,1058.2 1262.5,1057.8 1262.8,1057.3 1256.8,1057.3 1257.3,1056.4 1255.8,1056.4 1256.3,1055.6 1250.5,1055.5 1251.8,1053.1 1248.1,1053.1 1248.8,1052 1247.1,1052 1247.8,1050.8 1245.6,1050.8 1245.8,1050.3 1244.8,1050.3 1245.3,1049.5 1244.1,1049.5 1244.3,1049.2 1240.5,1049.2 1240.8,1048.7 1232.7,1048.7 1231.5,1048.5 1232.3,1047 1225.7,1047 1226.3,1046 1222.2,1046 1222.8,1044.9 1219.9,1044.7 1220.3,1044.1 1219.6,1044.1 1219.8,1043.7 1218.3,1043.7 1219.3,1041.9 1217.8,1041.9 1218.8,1040.1 1218.1,1040.1 1218.3,1039.8 1214.1,1039.8 1214.3,1039.5 1213.3,1039.5 1213.8,1038.7 1213,1038.7 1213.3,1038.1 1212.4,1038.1 1212.8,1037.4 1210.1,1037.4 1211.3,1035.2 1205,1035 1205.3,1034.4 1203.6,1034.4 1204.3,1033.1 1203.5,1033.1 1203.8,1032.6 1200,1032.4 1200.8,1031 1195.5,1031 1196.3,1029.5 1192.8,1029.3 1193.3,1028.4 1191.4,1028 1191.8,1027.4 1188,1027.4 1188.8,1026 1187.6,1026 1187.8,1025.6 1183.1,1025.5 1183.8,1024.2 1181.9,1024.2 1182.3,1023.5 1176.1,1023.5 1177.3,1021.3 1172.9,1021.3 1173.3,1020.7 1171.3,1020.7 1171.8,1019.7 1168.6,1019.3 1169.3,1018 1168.1,1018 1168.8,1016.9 1168.1,1016.9 1168.3,1016.5 1166.3,1016.5 1166.8,1015.6 1163.6,1015.6 1164.3,1014.4 1162.2,1014.4 1162.8,1013.3 1162,1013.3 1162.3,1012.8 1160.6,1012.8 1160.8,1012.4 1157.9,1012.2 1158.3,1011.4 1157.3,1011.4 1157.8,1010.6 1157,1010.6 1157.3,1010.1 1155.9,1010.1 1156.3,1009.5 1153.7,1009.5 1154.3,1008.5 1152.4,1008.5 1152.8,1007.7 1152,1007.7 1152.3,1007.1 1149.3,1006.8 1149.8,1005.9 1146.4,1005.9 1146.8,1005.1 1141.4,1005.1 1142.8,1002.6 1140.6,1002.6 1140.8,1002.3 1139.9,1002.3 1140.3,1001.7 1135.8,1001.5 1136.3,1000.6 1135.3,1000.6 1135.8,999.7 1133.2,999.7 1134.3,997.8 1133,997.8 1133.3,997.3 1129.8,997.3 1130.3,996.4 1128.8,996.4 1129.8,994.6 1127.9,994.6 1128.3,993.9 1124.1,993.9 1124.8,992.6 1123.3,992.6 1124.3,990.8 1121.1,990.8 1121.8,989.7 1116.6,989.5 1117.8,987 1115.6,987 1116.3,985.9 1111.9,985.7 1112.3,985 1111.3,985 1111.8,984.1 1111.1,984.1 1111.3,983.7 1107.8,983.7 1108.8,981.7 1104.8,981.7 1105.3,980.8 1103.9,980.8 1104.3,980.1 1100.2,980.1 1101.3,978.1 1099.3,978 1099.8,977.1 1097.8,977.1 1098.3,976.3 1092.7,976.2 1093.8,974.3 1093,974.3 1093.3,973.8 1086.3,973.8 1086.8,972.8 1074.2,972.8 1074.3,973.1 1073.2,973.1 1074,974.6 1062.7,974.9 1062.9,975.1 1060.2,975.1 1060.8,976.2 1054.7,976.2 1054.9,976.5 1050.5,976.5 1050.8,976 1047.5,976 1047.8,975.4 1037.3,975.4 1037.8,974.4 1031.4,974 1031.8,973.4 1029,973 1029.3,972.5 1025.6,972.5 1025.8,972.2 1024.5,972.2 1024.8,971.6 1022.6,971.6 1022.8,971.2 1021.4,971.2 1021.8,970.5 1018.7,970.5 1019.3,969.5 1016.3,969.5 1016.8,968.7 1013.6,968.7 1014.3,967.3 1011.7,967.3 1012.3,966.2 1010.4,966.2 1010.8,965.5 1008,965.5 1008.3,964.9 1005.9,964.9 1006.8,963.4 1002.9,963.4 1003.3,962.6 1001.1,962.5 1001.3,962 999,962 1000.3,959.8 997.6,959.8 997.8,959.3 996.2,959.3 997.3,957.4 995.5,957.4 995.8,956.8 994.6,956.8 994.8,956.5 992.2,956.5 992.8,955.5 989.3,955.3 990.3,953.6 988.3,953.6 988.8,952.8 984.4,952.8 984.8,952 982.7,952 983.3,950.8 981.7,950.8 982.3,949.8 978.6,949.8 978.8,949.4 976.9,949.4 977.3,948.6 976.5,948.6 976.8,948.1 975.7,948.1 976.3,947.1 974.9,946.9 975.3,946.2 971.4,946 971.8,945.2 970.1,945.2 970.8,944 965.8,943.8 966.8,942.1 965.1,942.1 965.8,940.9 962.2,940.9 962.8,939.8 961.2,939.8 961.8,938.7 957.6,938.7 958.8,936.7 956,936.7 956.8,935.2 953.1,935.2 953.3,934.9 952.5,934.9 952.8,934.4 951,933.8 951.3,933.3 949.9,933 950.3,932.4 948.3,932.3 948.8,931.4 947.3,931.1 947.8,930.3 946.5,930.2 946.8,929.6 945.5,929.4 945.8,928.8 945,928.8 945.3,928.2 944,928.1 944.3,927.6 943.5,927.6 943.8,927 942.8,927 943.3,926.2 941.5,925.9 941.8,925.3 940.9,925.3 941.3,924.7 940.3,924.7 940.8,923.8 939.4,923.8 939.8,923 939.1,923 939.3,922.6 938.7,922.6 938.8,922.4 938,922.4 938.3,921.9 937.2,921.9 937.8,920.8 936.9,920.8 937.3,920.1 936.1,920 936.3,919.6 935.3,919.6 935.8,918.7 934.9,918.7 935.3,917.9 934.6,917.9 934.8,917.6 933.2,917.5 933.8,916.5 932.9,916.5 933.3,915.9 931.7,915.7 932.3,914.7 931,914.4 931.3,913.9 930.4,913.9 930.8,913.1 929.8,913.1 930.3,912.2 929.4,912.2 929.8,911.4 928.4,911.3 928.8,910.6 927.7,910.6 928.3,909.5 927.3,909.5 927.8,908.6 926,908.6 926.8,907.2 925.4,907.2 925.8,906.5 924.7,906.5 925.3,905.4 923.8,905.1 924.3,904.2 923.2,904.2 923.8,903.2 922.9,903.2 923.3,902.5 922.6,902.5 922.8,902.1 921.8,902.1 922.3,901.2 920.9,901.2 921.8,899.7 920.8,899.7 921.3,898.9 920.4,898.9 920.8,898.2 919.4,898.2 920.3,896.6 919.1,896.6 919.8,895.5 918.9,895.5 919.3,894.8 917.9,894.8 918.8,893.2 917.6,893.2 918.3,892 917.1,892 917.8,890.8 916.7,890.8 917.3,889.7 916,889.7 916.8,888.3 915.6,888.3 916.3,887 915.2,887 915.8,886 914.4,886 915.3,884.5 914.2,884.5 914.8,883.5 913.5,883.5 914.3,882 913.4,882 913.8,881.2 912.5,881.2 913.3,879.9 912,879.9 912.8,878.5 911.5,878.5 912.3,877.1 911.2,877.1 911.8,875.9 910.6,875.9 911.3,874.6 910.1,874.6 910.8,873.5 910,873.5 910.3,872.9 909.2,872.9 909.8,871.8 908.4,871.8 909.3,870.2 908.3,870.2 908.8,869.3 907.8,869.3 908.3,868.4 907.5,868.4 907.8,867.9 906.8,867.9 907.3,867.1 906.4,867.1 906.8,866.4 905.5,866.4 906.3,865 904.9,865 905.3,864.3 904.5,864.3 904.8,863.8 903.5,863.8 904.3,862.5 902.8,862.5 903.3,861.5 902,861.3 902.3,860.8 901.6,860.8 901.8,860.5 900.9,860.5 901.3,859.8 900.2,859.8 900.8,858.7 899.4,858.7 899.8,858.1 898.8,858.1 899.3,857.1 897.5,857 898.3,855.6 897,855.2 897.3,854.6 896.2,854.6 896.8,853.4 895.7,853.4 896.3,852.3 895.2,852.3 895.8,851.2 894.9,851.2 895.3,850.5 893.9,850.5 894.8,848.8 893.2,848.8 894.3,846.8 892.7,846.8 893.8,844.7 892.1,844.7 893.3,842.6 891.3,842.6 892.8,839.9 891.1,839.9 892.3,837.9 890.4,837.9 891.8,835.4 890.2,835.4 891.3,833.4 889.3,833.4 890.8,830.8 888.9,830.8 890.3,828.4 888.6,828.4 889.8,826.2 888.2,826.2 889.3,824.2 887.8,824.2 888.8,822.4 886.8,822.4 888.3,819.8 886.7,819.8 887.8,817.9 885.7,817.9 887.3,815 885.6,815 886.8,812.8 885.3,812.8 886.3,811 884.2,811 885.8,808.2 884.5,808.2 885.3,806.8 883.2,806.8 884.8,804 883.5,804 884.3,802.5 882.6,802.5 883.8,800.4 882.2,800.4 883.3,798.5 881.8,798.5 882.8,796.7 881.6,796.7 882.3,795.5 880.8,795.5 881.8,793.8 880.8,793.8 881.3,792.9 880.1,792.9 880.8,791.7 879.8,791.7 880.3,790.7 878.9,790.7 879.8,789.1 878.6,789.1 879.3,787.9 878.4,787.9 878.8,787.2 877.3,787.2 878.3,785.3 877.1,785.3 877.8,784.1 876.4,784.1 877.3,782.4 875.7,782.4 876.8,780.4 875.4,780.4 876.3,778.8 874.8,778.8 875.8,776.9 874,776.9 875.3,774.6 873.5,774.6 874.8,772.4 872.8,772.4 874.3,769.7 872.6,769.7 873.8,767.5 871.9,767.5 873.3,765.1 871.5,765.1 872.8,762.8 871,762.8 872.3,760.4 870.4,760.4 871.8,757.9 870.1,757.9 871.3,755.8 869.4,755.8 870.8,753.4 869,753.4 870.3,751.1 868.4,751.1 869.8,748.7 867.9,748.7 869.3,746.1 867.6,746.1 868.8,744 867.2,744 868.3,742 866.6,742 867.8,739.8 866,739.8 867.3,737.5 865.4,737.5 866.8,735.1 865.1,735.1 866.3,733 864.9,733 865.8,731.4 863.9,731.4 865.3,728.8 863.7,728.8 864.8,726.8 863.2,726.8 864.3,725 862.6,725 863.8,722.7 862.2,722.7 863.3,720.8 861.5,720.8 862.8,718.5 861.5,718.5 862.3,717.2 860.6,717.2 861.8,715.1 859.9,715.1 861.3,712.6 859.8,712.6 860.8,710.8 859.3,710.8 860.3,709.1 858.9,709.1 859.8,707.5 858.2,707.5 859.3,705.5 857.5,705.5 858.8,703.3 857.4,703.3 858.3,701.7 856.8,701.7 857.8,699.9 856.3,699.9 857.3,698.2 855.7,698.2 856.8,696.2 855.3,696.2 856.3,694.4 854.7,694.4 855.8,692.5 854.3,692.5 855.3,690.8 853.6,690.8 854.8,688.6 853.7,688.6 854.3,687.5 852.7,687.5 853.8,685.6 852,685.6 853.3,683.3 852,683.3 852.8,682 851.5,682 852.3,680.6 851,680.6 851.8,679.2 850.8,679.2 851.3,678.3 849.8,678.3 850.8,676.5 849.6,676.5 850.3,675.4 849.4,675.4 849.8,674.6 848.6,674.6 849.3,673.3 848.5,673.3 848.8,672.8 847.4,672.8 848.3,671.1 847.3,671.1 847.8,670.1 847.1,670.1 847.3,669.7 846,669.7 846.8,668.3 845.9,668.3 846.3,667.5 845,667.3 845.3,666.7 844.2,666.7 844.8,665.7 843.6,665.7 843.8,665.3 843.1,665.3 843.3,665 830.7,665 830.9,665.4 828.7,665.4 829.1,666.1 827.7,666.1 827.8,666.3 827.2,666.3 827.6,667 826.2,667.1 826.3,667.3 825.7,667.3 825.8,667.6 825.2,667.6 825.4,668 823.7,668.2 824.1,668.9 823.2,668.9 823.6,669.6 822.7,669.6 823.3,670.7 822.2,670.7 822.7,671.5 821.7,671.5 822.5,673 821.2,673 821.7,673.9 820.7,673.9 821.4,675.2 820.2,675.2 821,676.5 819.7,676.5 820.2,677.4 819.2,677.4 820,678.8 818.7,678.8 819.1,679.5 818.2,679.5 818.6,680.2 817.7,680.2 818.3,681.4 817.2,681.4 818,682.8 816.7,682.8 817.3,683.9 816.2,683.9 817,685.3 815.7,685.3 816,685.9 814.8,686.2 815.8,684.4 814.7,684.4 815.3,683.4 814,683.4 814.8,681.9 813.5,681.9 814.3,680.6 812.9,680.6 813.8,679 812.8,679 813.3,678.1 811.9,678.1 812.8,676.5 811.2,676.5 812.3,674.6 811.2,674.6 811.8,673.5 810.4,673.5 811.3,671.9 809.7,671.9 810.8,669.8 809.1,669.8 810.3,667.8 808.8,667.8 809.8,666 808.3,666 809.3,664.2 807.8,664.2 808.8,662.4 807.1,662.4 808.3,660.4 806.6,660.4 807.8,658.2 806.3,658.2 807.3,656.5 805.1,656.5 806.8,653.5 805.3,653.5 806.3,651.8 804.2,651.8 805.8,649 804.1,649 805.3,646.9 803.2,646.9 804.8,644.1 803,644.1 804.3,641.9 802.2,641.9 803.8,639.1 801.5,639.1 803.3,635.8 801.4,635.8 802.8,633.3 801,633.3 802.3,631 800.2,631 801.8,628.2 799.4,628.2 801.3,624.9 799.2,624.9 800.8,622 799.1,622 800.3,619.8 798,619.8 799.8,616.6 797.6,616.6 799.3,613.6 797.4,613.6 798.8,611 796.6,611 798.3,607.9 796.1,607.9 797.8,604.8 795.8,604.8 797.3,602.1 795,602.1 796.8,598.9 794.6,598.9 796.3,595.9 794.5,595.9 795.8,593.5 794.1,593.5 795.3,591.4 793.5,591.4 794.8,589 793.4,589 794.3,587.4 792.4,587.4 793.8,585 792.5,585 793.3,583.6 791.6,583.6 792.8,581.5 791.5,581.5 792.3,580.1 790.9,580.1 791.8,578.6 790.4,578.6 791.3,577 790,577 790.8,575.5 789.5,575.5 790.3,574.2 789,574.2 789.8,572.8 788.4,572.8 789.3,571.2 788.3,571.2 788.8,570.2 787.5,570.2 788.3,568.7 787,568.7 787.8,567.3 786.6,567.3 787.3,566.1 786.2,566.1 786.8,565 785.8,565 786.3,564.2 784.9,564.2 785.8,562.6 784.6,562.6 785.3,561.4 784.2,561.4 784.8,560.4 783.5,560.4 784.3,559 783.2,559 783.8,557.9 782.7,557.9 783.3,556.8 782.4,556.8 782.8,556.1 781.7,556.1 782.3,555.1 781,555.1 781.8,553.7 780.7,553.7 781.3,552.7 780.2,552.7 780.8,551.7 779.2,551.4 779.8,550.4 778.6,550.4 779.3,549.1 777.9,548.8 778.3,548.2 777.1,548.2 777.8,546.8 776.6,546.5 776.8,546.1 775.6,546.1 776.3,544.9 774.8,544.7 775.3,543.8 773.9,543.6 774.3,542.8 772.9,542.6 773.3,541.9 771.9,541.9 772.3,541.3 771.6,541.3 771.8,540.9 771.1,540.9 771.3,540.5 770.6,540.5 770.8,540.1 769.5,540 769.8,539.5 768.6,539.4 768.8,539.1 754.7,539.1 754.8,539.3 753.7,539.5 753.8,539.7 752.7,539.7 753,540.2 752.2,540.2 752.7,541.1 751.2,541.3 751.5,541.8 750.7,541.8 751,542.3 750.2,542.3 750.5,542.8 749.7,542.8 750,543.3 749.2,543.3 749.9,544.5 748.2,544.8 748.8,545.9 747.7,545.9 748,546.5 747.2,546.5 747.5,547 746.7,547 747.4,548.3 746.2,548.3 746.6,549.1 745.7,549.1 746.6,550.7 745.2,550.7 746,552.2 744.7,552.2 745.1,552.8 744.2,552.8 745,554.3 743.7,554.3 744.7,556.1 743.2,556.1 744,557.5 742.7,557.5 743.3,558.5 742.2,558.5 742.8,559.6 741.7,559.6 742.5,561 741.2,561 741.9,562.2 740.7,562.2 741.3,563.2 740.2,563.2 741,564.7 739.7,564.7 740.2,565.6 739.2,565.6 739.8,566.7 738.7,566.7 739,567.3 738.2,567.3 739.1,569 737.7,569 738,569.6 737.2,569.6 738.1,571.2 736.7,571.2 737.4,572.5 736.2,572.5 736.8,573.6 735.7,573.6 736.1,574.4 735.2,574.4 736.2,576.2 734.7,576.2 735.5,577.6 734.2,577.6 734.7,578.5 733.7,578.5 734.4,579.7 733.2,579.7 734.5,582 732.7,582 733.5,583.4 732.2,583.4 733.1,585.1 731.7,585.1 732.5,586.4 731.2,586.4 732.4,588.5 730.7,588.5 731.7,590.3 730.2,590.3 731.2,592.2 729.7,592.2 730.9,594.4 729.2,594.4 730.2,596.2 728.7,596.2 730.1,598.7 728.2,598.7 729.8,601.5 727.7,601.5 729.2,604.2 727.2,604.2 729.4,608.1 726.7,608.1 728.5,611.3 726.2,611.3 728.1,614.7 725.7,614.7 727.3,617.6 725.2,617.6 727.4,621.6 724.7,621.6 726.6,625 724.2,625 726,628.1 723.7,628.1 725.8,631.9 723.2,631.9 725.1,635.3 722.7,635.3 724.2,637.9 722.2,637.9 724.2,641.5 721.7,641.5 723.4,644.5 721.2,644.5 722.7,647.2 720.7,647.2 722.5,650.4 720.2,650.4 721.6,652.8 719.7,652.8 721.3,655.7 719.2,655.7 720.7,658.3 718.7,658.3 720.3,661.2 718.2,661.2 719.7,663.9 717.7,663.9 719.6,667.3 717.2,667.3 718.8,670.2 716.7,670.2 717.9,672.3 716.2,672.3 718,675.5 715.7,675.5 717.3,678.3 715.2,678.3 716.8,681.2 714.7,681.2 716.5,684.3 714.2,684.3 715.5,686.6 713.7,686.6 715.7,690.1 713.2,690.1 714.8,693 712.7,693 714.2,695.6 712.2,695.6 713.9,698.6 711.7,698.6 713.5,701.7 711.2,701.7 712.8,704.5 710.7,704.5 712.6,707.9 710.2,707.9 711.5,710.2 709.7,710.2 711.6,713.5 709.2,713.5 710.6,716 708.7,716 710,718.3 708.2,718.3 709.7,721 707.7,721 709.3,723.9 707.2,723.9 708.6,726.5 706.7,726.5 707.9,728.5 706.2,728.5 707.8,731.4 705.7,731.4 706.7,733.1 705.2,733.1 706.7,735.7 704.7,735.7 705.9,737.9 704.2,737.9 705.4,740.1 703.7,740.1 705.2,742.7 703.2,742.7 704.2,744.4 702.7,744.4 704,746.7 702.2,746.7 703.5,748.9 701.7,748.9 703,751.2 701.2,751.2 702.2,753 700.7,753 701.8,755 700.2,755 701.6,757.5 699.7,757.5 700.8,759.3 699.2,759.3 700.3,761.3 698.7,761.3 700.1,763.7 698.2,763.7 699.4,765.8 697.7,765.8 698.8,767.7 697.2,767.7 698,769.2 696.7,769.2 697.9,771.3 696.2,771.3 697.2,773.1 695.7,773.1 696.8,775.1 695.2,775.1 696.3,777 694.7,777 696.1,779.4 694.2,779.4 695.2,781.2 693.7,781.2 694.9,783.2 693.2,783.2 694.2,785 692.7,785 693.5,786.5 692.2,786.5 693.4,788.6 691.7,788.6 692.5,790.1 691.2,790.1 692.6,792.5 690.7,792.5 691.4,793.8 690.2,793.8 691.2,795.5 689.7,795.5 690.8,797.5 689.2,797.5 690.2,799.4 688.7,799.4 689.9,801.5 688.2,801.5 689.4,803.6 687.7,803.6 688.6,805.2 687.2,805.2 688.2,807 686.7,807 687.5,808.4 686.2,808.4 687.3,810.4 685.7,810.4 686.9,812.5 685.2,812.5 686.2,814.3 684.7,814.3 685.5,815.8 684.2,815.8 685.4,818 683.7,818 684.7,819.8 683.2,819.8 684.2,821.6 682.7,821.6 683.9,823.7 682.2,823.7 683.1,825.2 681.7,825.2 683,827.5 681.2,827.5 682.4,829.7 680.7,829.7 681.7,831.5 680.2,831.5 680.9,832.7 679.7,832.7 680.8,834.7 679.2,834.7 680.5,837 678.7,837 679.5,838.5 678.2,838.5 679.2,840.4 677.7,840.4 678.6,841.9 677.2,841.9 678.2,843.7 676.7,843.7 677.7,845.5 676.2,845.5 677.2,847.2 675.7,847.2 676.9,849.3 675.2,849.3 676,850.7 674.7,850.7 675.8,852.6 674.2,852.6 674.9,853.8 673.7,853.8 674.6,855.4 673.2,855.4 673.9,856.8 672.7,856.8 673.9,858.9 672.2,858.9 672.9,860.1 671.7,860.1 672.8,861.9 671.2,861.9 671.7,862.8 670.7,862.8 671.6,864.5 670.2,864.5 671.2,866.2 669.7,866.2 670.6,867.7 669.2,867.7 669.9,868.9 668.7,868.9 669.8,870.8 668.2,870.8 669.1,872.4 667.7,872.4 668.8,874.2 667.2,874.2 668.1,875.8 666.7,875.8 667.7,877.7 666.2,877.7 667.1,879.2 665.7,879.2 667,881.5 665.2,881.5 666.5,883.8 664.7,883.8 665.5,885.2 664.2,885.2 665.7,887.9 663.7,887.9 664.6,889.5 663.2,889.5 664.7,892.1 662.7,892.1 663.6,893.7 662.2,893.7 663.2,895.5 661.7,895.5 662.9,897.5 661.2,897.5 662.1,899.1 660.7,899.1 661.9,901.2 660.2,901.2 660.9,902.5 659.7,902.5 660.8,904.3 659.2,904.3 660.2,906.1 658.7,906.1 659.7,907.8 658.2,907.8 658.8,908.9 657.7,908.9 659,911.2 657.2,911.2 658.1,912.7 656.7,912.7 657.6,914.3 656.2,914.3 657,915.8 655.7,915.8 656.4,917 655.2,917 656.5,919.3 654.7,919.3 655.3,920.3 654.2,920.3 655,921.8 653.7,921.8 654.9,923.9 653.2,923.9 653.9,925.1 652.7,925.1 653.9,927.1 652.2,927.1 653.1,928.7 651.7,928.7 652.2,929.6 651.2,929.6 652.2,931.3 650.7,931.3 651.8,933.2 650.2,933.2 651.1,934.7 649.7,934.7 650.5,936.1 649.2,936.1 649.9,937.3 648.7,937.3 649.9,939.4 648.2,939.4 648.9,940.6 647.7,940.6 648.6,942.3 647.2,942.3 648.1,944 646.7,944 647.2,945 646.2,945 647.3,946.9 645.7,946.9 646.1,947.7 645.2,947.7 646.4,949.8 644.7,949.8 645.2,950.7 644.2,950.7 645,952.1 643.7,952.1 644.7,953.9 643.2,953.9 644,955.3 642.7,955.3 643.4,956.5 642.2,956.5 643.2,958.3 641.7,958.3 642.3,959.4 641.2,959.4 642.1,961 640.7,961 641.6,962.6 640.2,962.6 640.8,963.7 639.7,963.7 640.3,964.8 639.2,964.8 640.3,966.8 638.7,966.8 639.2,967.7 638.2,967.7 639,969 637.7,969 638.6,970.7 637.2,970.7 637.8,971.7 636.7,971.7 637.8,973.6 636.2,973.6 636.9,974.9 635.7,974.9 636.4,976.2 635.2,976.2 636,977.7 634.7,977.7 635.6,979.2 634.2,979.2 634.6,979.9 633.7,979.9 634.7,981.6 633.2,981.6 633.9,983 632.7,983 633.4,984.1 632.2,984.1 632.7,985 631.7,985 632.5,986.4 631.2,986.4 631.7,987.2 630.7,987.2 631.4,988.4 630.2,988.4 630.9,989.6 629.7,989.6 630.4,990.9 629.2,990.9 629.7,991.7 628.7,991.7 629,992.3 627.7,992.7 628.2,993.5 627.2,993.5 627.9,994.7 626.7,994.7 626.9,995 625.7,995.3 626.4,996.6 625.2,996.6 625.4,996.9 624.7,996.9 624.9,997.3 624.2,997.3 624.8,998.4 623.2,998.6 623.6,999.3 622.2,999.7 622.9,1001 621.2,1001.1 621.9,1002.3 620.2,1002.5 620.8,1003.6 619.7,1003.6 620,1004.1 619.2,1004.1 619.9,1005.4 618.7,1005.4 619,1005.8 618.2,1005.8 618.8,1006.9 617.2,1007.2 617.7,1008.1 616.7,1008.1 617.5,1009.5 615.7,1009.7 616.4,1010.8 615.2,1010.8 615.6,1011.5 614.7,1011.5 615,1012.1 614.2,1012.1 614.6,1012.9 613.7,1012.9 614.1,1013.5 613.2,1013.5 613.6,1014.3 612.7,1014.3 613.3,1015.3 612.2,1015.3 612.5,1015.9 611.2,1015.9 611.5,1016.3 610.7,1016.3 611.3,1017.3 610.2,1017.3 610.6,1018 609.2,1018 609.7,1018.9 608.7,1018.9 609.1,1019.6 608.2,1019.6 608.4,1020 607.7,1020 608,1020.5 606.7,1020.9 607.2,1021.8 605.2,1022.2 605.5,1022.8 604.7,1022.8 605.2,1023.6 604.2,1023.6 604.5,1024.1 603.2,1024.1 603.8,1025.2 602.7,1025.2 603,1025.7 601.7,1026 602,1026.6 600.7,1026.7 601.1,1027.4 599.2,1027.8 599.7,1028.6 598.2,1028.9 598.6,1029.6 597.7,1029.6 597.9,1030 596.7,1030 597.3,1031 595.7,1031.2 596.1,1032 594.7,1032 595,1032.5 593.7,1032.7 594,1033.2 593.2,1033.2 593.5,1033.6 592.2,1033.9 592.7,1034.7 591.2,1034.7 591.5,1035.2 590.2,1035.5 590.7,1036.4 588.7,1036.6 589.2,1037.4 587.7,1037.4 588.2,1038.4 586.7,1038.6 587,1039 585.7,1039.4 586.1,1040.1 585.2,1040.1 585.4,1040.4 584.7,1040.4 585,1041 584.2,1041 584.5,1041.5 583.2,1041.6 583.4,1042 582.7,1042 583.1,1042.7 582.2,1042.7 582.5,1043.2 581.2,1043.4 581.7,1044.3 580.2,1044.4 580.7,1045.3 579.2,1045.6 579.5,1046.1 578.7,1046.1 579,1046.7 577.7,1047.1 578,1047.6 576.2,1047.9 576.7,1048.7 575.2,1048.8 575.5,1049.4 574.2,1049.4 574.7,1050.3 572.2,1050.5 572.5,1051.1 570.7,1051.3 571.1,1052.1 568.2,1052.6 568.5,1053.1 567.7,1053.1 568,1053.6 565.2,1053.8 565.4,1054.2 564.2,1054.2 564.6,1054.9 563.2,1054.9 563.4,1055.3 562.2,1055.3 562.4,1055.6 560.7,1055.6 560.3,1056 552.2,1056 552.6,1056.7 550.2,1056.7 550.8,1057.8 548.2,1057.8 548.6,1058.6 544.2,1058.6 544.4,1059 541.7,1059.1 542.1,1059.8 538.7,1059.8 539,1060.3 533.2,1060.3 533.5,1060.9 525.7,1061.2 526,1061.7 511.7,1061.8 511.8,1062 511.3,1062.1 509.7,1062.1 509.9,1062.5 507.7,1062.5 507.8,1062.7 485.7,1062.7 486,1063.2 444.2,1063 435.5,1063.4 435.8,1062.8 424.4,1062.8 424.8,1062.1 409.4,1062 409.8,1061.4 398,1061.4 398.3,1060.9 397.5,1060.9 397.8,1060.4 377.2,1060 377.5,1060.7 375.8,1060.6 376.3,1059.8 365.7,1059.4 365.8,1059.2 362,1059 362.3,1058.5 358.6,1058.5 358.8,1058.2 345.6,1058.1 345.8,1057.7 337,1057.7 337.3,1057.1 336.3,1056.9 325.7,1056.9 326.3,1055.8 314.8,1055.7 312.3,1055.2 303.8,1054.9 293.4,1054.9 293.8,1054.3 281.2,1054.3 281.5,1054.8 279.5,1054.8 279.8,1054.3 269.5,1054.3 269.8,1053.7 262,1053.7 262,1069.4 262.4,1068.6 263,1069.6 264.2,1067.4 265,1068.7 265.4,1068 266,1069.1 266.4,1068.3 267,1069.3 267.9,1067.7 269,1069.8 269.5,1068.8 270,1069.7 270.3,1069.2 270.5,1069.5 271.5,1067.8 272.5,1069.6 273.9,1067.2 275.5,1069.8 276.8,1067.6 278,1069.8 278.7,1068.5 279.5,1069.8 281.2,1067.2 282.5,1069.1 283.7,1067.1 285.5,1070.2 286.7,1068.5ZM815.9,687.1 815.8,687.1 815.8,687ZM1531.1,1090.8 1531.2,1090.7 1531.3,1090.8Z"/>
<rect x="1025" y="122.1" width="578.9" height="369.7" fill="none" stroke="#000" stroke-width="2"/>
<path d="M1104.3,198.3H1256.4" stroke="#000" stroke-width="5" stroke-linecap="round"/>
<path d="M1104.3,282.5H1256.4" stroke="#f00" stroke-width="5" stroke-linecap="round"/>
<path d="M1104.3,367.5H1256.4" stroke="#00f" stroke-width="5" stroke-linecap="round"/>
<path d="M1104.3,451.5H1256.4" stroke="#f0f" stroke-width="5" stroke-linecap="round"/>
<rect x="1174" y="193.3" width="11" height="11.5" fill="#000"/>
<circle cx="1180" cy="283.7" r="5.2" fill="#f00"/>
<path d="M1180.1,361.1L1186.1,372.2H1173.2Z" fill="#00f"/>
<path d="M1174,448.6H1186.1L1180.1,460Z" fill="#f0f"/>
<text transform="translate(1276.70,222.30) scale(1,1.02)" font-size="68.8" textLength="217.00" lengthAdjust="spacing">Wool-0</text>
<text transform="translate(1276.70,306.90) scale(1,1.02)" font-size="68.8" textLength="253.30" lengthAdjust="spacing">Wool-40</text>
<text transform="translate(1276.70,391.40) scale(1,1.02)" font-size="68.8" textLength="253.30" lengthAdjust="spacing">Wool-80</text>
<text transform="translate(1276.70,475.90) scale(1,1.02)" font-size="68.8" textLength="290.50" lengthAdjust="spacing">Wool-120</text>
<text transform="translate(228.30,1135.50) scale(1,1.02)" font-size="68.8" text-anchor="end">0</text>
<text transform="translate(228.30,986.07) scale(1,1.02)" font-size="68.8" text-anchor="end">20</text>
<text transform="translate(228.30,836.64) scale(1,1.02)" font-size="68.8" text-anchor="end">40</text>
<text transform="translate(228.30,687.21) scale(1,1.02)" font-size="68.8" text-anchor="end">60</text>
<text transform="translate(228.30,537.79) scale(1,1.02)" font-size="68.8" text-anchor="end">80</text>
<text transform="translate(228.30,388.36) scale(1,1.02)" font-size="68.8" text-anchor="end">100</text>
<text transform="translate(228.30,238.93) scale(1,1.02)" font-size="68.8" text-anchor="end">120</text>
<text transform="translate(228.30,89.50) scale(1,1.02)" font-size="68.8" text-anchor="end">140</text>
<text transform="translate(261.30,1202.10)" font-size="68.8" text-anchor="middle">100</text>
<text transform="translate(515.19,1202.10)" font-size="68.8" text-anchor="middle">200</text>
<text transform="translate(769.08,1202.10)" font-size="68.8" text-anchor="middle">300</text>
<text transform="translate(1022.97,1202.10)" font-size="68.8" text-anchor="middle">400</text>
<text transform="translate(1276.86,1202.10)" font-size="68.8" text-anchor="middle">500</text>
<text transform="translate(1530.75,1202.10)" font-size="68.8" text-anchor="middle">600</text>
<text transform="translate(696.87,1291.20) scale(1,1.02)" font-size="68.8" textLength="390.17" lengthAdjust="spacing">Temperature</text>
<text transform="translate(1105.70,1290.90) scale(1,0.974)" font-size="68.8">(</text>
<text transform="translate(1126.80,1258.60) scale(1,1.02)" font-size="42">o</text>
<text transform="translate(1150.20,1291.20) scale(1,1.02)" font-size="68.8">C</text>
<text transform="translate(1201.70,1290.90) scale(1,0.974)" font-size="68.8">)</text>
<text transform="translate(79.90,958.10) rotate(-90) scale(1,1.02)" font-size="68.8">Heat release rate</text>
<text transform="translate(79.30,413.15) rotate(-90) scale(1,0.966)" font-size="68.8">(</text>
<text transform="translate(79.90,388.50) rotate(-90) scale(1,1.02)" font-size="68.8">W/g</text>
<text transform="translate(79.30,265.25) rotate(-90) scale(1,0.966)" font-size="68.8">)</text>
</svg></body></html>
